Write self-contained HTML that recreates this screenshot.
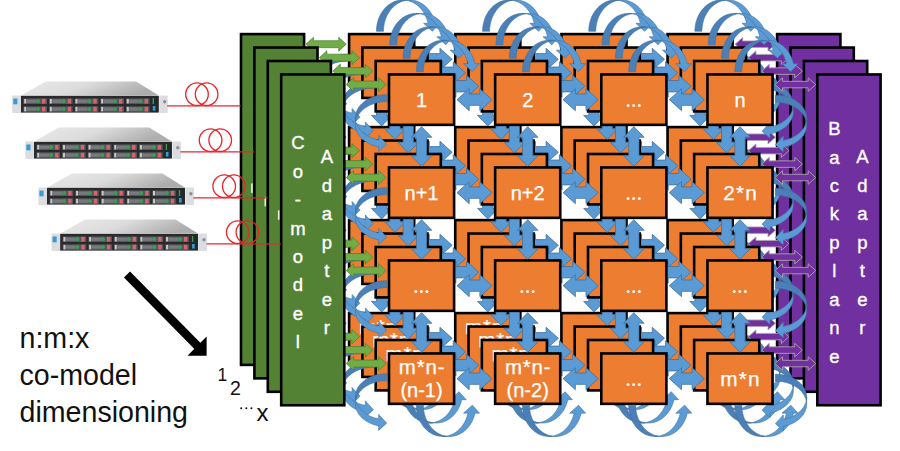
<!DOCTYPE html><html><head><meta charset="utf-8"><title>co-model dimensioning</title><style>html,body{margin:0;padding:0;background:#fff;}body{width:900px;height:451px;overflow:hidden;font-family:"Liberation Sans",sans-serif;}svg{display:block;}</style></head><body><svg width="900" height="451" viewBox="0 0 900 451" font-family="'Liberation Sans', sans-serif"><defs><linearGradient id="topg" x1="0" y1="0" x2="1" y2="0.25"><stop offset="0" stop-color="#e9e9e9"/><stop offset="0.5" stop-color="#dcdcdc"/><stop offset="1" stop-color="#adadad"/></linearGradient></defs><g><rect x="241" y="34.1" width="63.1" height="330.8" fill="#548235" stroke="#000" stroke-width="2.6"/>
<rect x="251.1" y="183.4" width="1.6" height="9.5" fill="#e8f0e0"/>
<rect x="777.1" y="34.1" width="63.3" height="330.8" fill="#7030A0" stroke="#000" stroke-width="2.6"/>
<polygon points="306,44.2 313.5,37.2 313.5,40.7 338.7,40.7 338.7,37.2 346.2,44.2 338.7,51.2 338.7,47.7 313.5,47.7 313.5,51.2" fill="#70AD47" stroke="#507E32" stroke-width="0.7" stroke-linejoin="round"/>
<polygon points="735.15,44.2 742.65,37.45 742.65,40.95 768,40.95 768,37.45 775.5,44.2 768,50.95 768,47.45 742.65,47.45 742.65,50.95" fill="#7030A0" stroke="#B0A0A8" stroke-width="0.9" stroke-linejoin="round"/>
<polygon points="306,137.2 313.5,130.2 313.5,133.7 338.7,133.7 338.7,130.2 346.2,137.2 338.7,144.2 338.7,140.7 313.5,140.7 313.5,144.2" fill="#70AD47" stroke="#507E32" stroke-width="0.7" stroke-linejoin="round"/>
<polygon points="735.15,137.2 742.65,130.45 742.65,133.95 768,133.95 768,130.45 775.5,137.2 768,143.95 768,140.45 742.65,140.45 742.65,143.95" fill="#7030A0" stroke="#B0A0A8" stroke-width="0.9" stroke-linejoin="round"/>
<polygon points="306,230.2 313.5,223.2 313.5,226.7 338.7,226.7 338.7,223.2 346.2,230.2 338.7,237.2 338.7,233.7 313.5,233.7 313.5,237.2" fill="#70AD47" stroke="#507E32" stroke-width="0.7" stroke-linejoin="round"/>
<polygon points="735.15,230.2 742.65,223.45 742.65,226.95 768,226.95 768,223.45 775.5,230.2 768,236.95 768,233.45 742.65,233.45 742.65,236.95" fill="#7030A0" stroke="#B0A0A8" stroke-width="0.9" stroke-linejoin="round"/>
<polygon points="306,323.2 313.5,316.2 313.5,319.7 338.7,319.7 338.7,316.2 346.2,323.2 338.7,330.2 338.7,326.7 313.5,326.7 313.5,330.2" fill="#70AD47" stroke="#507E32" stroke-width="0.7" stroke-linejoin="round"/>
<polygon points="735.15,323.2 742.65,316.45 742.65,319.95 768,319.95 768,316.45 775.5,323.2 768,329.95 768,326.45 742.65,326.45 742.65,329.95" fill="#7030A0" stroke="#B0A0A8" stroke-width="0.9" stroke-linejoin="round"/>
<rect x="349.1" y="34.1" width="65.1" height="50.4" fill="#ED7D31" stroke="#000" stroke-width="2.6"/>
<rect x="455.25" y="34.1" width="65.1" height="50.4" fill="#ED7D31" stroke="#000" stroke-width="2.6"/>
<rect x="561.4" y="34.1" width="65.1" height="50.4" fill="#ED7D31" stroke="#000" stroke-width="2.6"/>
<rect x="667.55" y="34.1" width="65.1" height="50.4" fill="#ED7D31" stroke="#000" stroke-width="2.6"/>
<rect x="349.1" y="127.1" width="65.1" height="50.4" fill="#ED7D31" stroke="#000" stroke-width="2.6"/>
<rect x="455.25" y="127.1" width="65.1" height="50.4" fill="#ED7D31" stroke="#000" stroke-width="2.6"/>
<rect x="561.4" y="127.1" width="65.1" height="50.4" fill="#ED7D31" stroke="#000" stroke-width="2.6"/>
<rect x="667.55" y="127.1" width="65.1" height="50.4" fill="#ED7D31" stroke="#000" stroke-width="2.6"/>
<rect x="349.1" y="220.1" width="65.1" height="50.4" fill="#ED7D31" stroke="#000" stroke-width="2.6"/>
<rect x="455.25" y="220.1" width="65.1" height="50.4" fill="#ED7D31" stroke="#000" stroke-width="2.6"/>
<rect x="561.4" y="220.1" width="65.1" height="50.4" fill="#ED7D31" stroke="#000" stroke-width="2.6"/>
<rect x="667.55" y="220.1" width="65.1" height="50.4" fill="#ED7D31" stroke="#000" stroke-width="2.6"/>
<rect x="349.1" y="313.1" width="65.1" height="50.4" fill="#ED7D31" stroke="#000" stroke-width="2.6"/>
<text x="382.15" y="333.7" font-size="20.5" fill="#fff" text-anchor="middle" letter-spacing="0.8" stroke="#fff" stroke-width="0.25">m*n-</text>
<text x="381.65" y="356.9" font-size="20" fill="#fff" text-anchor="middle" stroke="#fff" stroke-width="0.25">(n-1)</text>
<rect x="455.25" y="313.1" width="65.1" height="50.4" fill="#ED7D31" stroke="#000" stroke-width="2.6"/>
<text x="488.3" y="333.7" font-size="20.5" fill="#fff" text-anchor="middle" letter-spacing="0.8" stroke="#fff" stroke-width="0.25">m*n-</text>
<text x="487.8" y="356.9" font-size="20" fill="#fff" text-anchor="middle" stroke="#fff" stroke-width="0.25">(n-2)</text>
<rect x="561.4" y="313.1" width="65.1" height="50.4" fill="#ED7D31" stroke="#000" stroke-width="2.6"/>
<rect x="667.55" y="313.1" width="65.1" height="50.4" fill="#ED7D31" stroke="#000" stroke-width="2.6"/>
<polygon points="417.1,59.3 429.3,48.3 429.3,53.6 439.95,53.6 439.95,48.3 452.15,59.3 439.95,70.3 439.95,65 429.3,65 429.3,70.3" fill="#5B9BD5" stroke="#41719C" stroke-width="0.8" stroke-linejoin="round"/>
<polygon points="381.65,86.3 371.4,96.9 376.5,96.9 376.5,115.4 371.4,115.4 381.65,126 391.9,115.4 386.8,115.4 386.8,96.9 391.9,96.9" fill="#5B9BD5" stroke="#41719C" stroke-width="0.8" stroke-linejoin="round"/>
<polygon points="523.25,59.3 535.45,48.3 535.45,53.6 546.1,53.6 546.1,48.3 558.3,59.3 546.1,70.3 546.1,65 535.45,65 535.45,70.3" fill="#5B9BD5" stroke="#41719C" stroke-width="0.8" stroke-linejoin="round"/>
<polygon points="487.8,86.3 477.55,96.9 482.65,96.9 482.65,115.4 477.55,115.4 487.8,126 498.05,115.4 492.95,115.4 492.95,96.9 498.05,96.9" fill="#5B9BD5" stroke="#41719C" stroke-width="0.8" stroke-linejoin="round"/>
<polygon points="629.4,59.3 641.6,48.3 641.6,53.6 652.25,53.6 652.25,48.3 664.45,59.3 652.25,70.3 652.25,65 641.6,65 641.6,70.3" fill="#5B9BD5" stroke="#41719C" stroke-width="0.8" stroke-linejoin="round"/>
<polygon points="593.95,86.3 583.7,96.9 588.8,96.9 588.8,115.4 583.7,115.4 593.95,126 604.2,115.4 599.1,115.4 599.1,96.9 604.2,96.9" fill="#5B9BD5" stroke="#41719C" stroke-width="0.8" stroke-linejoin="round"/>
<polygon points="700.1,86.3 689.85,96.9 694.95,96.9 694.95,115.4 689.85,115.4 700.1,126 710.35,115.4 705.25,115.4 705.25,96.9 710.35,96.9" fill="#5B9BD5" stroke="#41719C" stroke-width="0.8" stroke-linejoin="round"/>
<polygon points="417.1,152.3 429.3,141.3 429.3,146.6 439.95,146.6 439.95,141.3 452.15,152.3 439.95,163.3 439.95,158 429.3,158 429.3,163.3" fill="#5B9BD5" stroke="#41719C" stroke-width="0.8" stroke-linejoin="round"/>
<polygon points="381.65,179.3 371.4,189.9 376.5,189.9 376.5,208.4 371.4,208.4 381.65,219 391.9,208.4 386.8,208.4 386.8,189.9 391.9,189.9" fill="#5B9BD5" stroke="#41719C" stroke-width="0.8" stroke-linejoin="round"/>
<polygon points="523.25,152.3 535.45,141.3 535.45,146.6 546.1,146.6 546.1,141.3 558.3,152.3 546.1,163.3 546.1,158 535.45,158 535.45,163.3" fill="#5B9BD5" stroke="#41719C" stroke-width="0.8" stroke-linejoin="round"/>
<polygon points="487.8,179.3 477.55,189.9 482.65,189.9 482.65,208.4 477.55,208.4 487.8,219 498.05,208.4 492.95,208.4 492.95,189.9 498.05,189.9" fill="#5B9BD5" stroke="#41719C" stroke-width="0.8" stroke-linejoin="round"/>
<polygon points="629.4,152.3 641.6,141.3 641.6,146.6 652.25,146.6 652.25,141.3 664.45,152.3 652.25,163.3 652.25,158 641.6,158 641.6,163.3" fill="#5B9BD5" stroke="#41719C" stroke-width="0.8" stroke-linejoin="round"/>
<polygon points="593.95,179.3 583.7,189.9 588.8,189.9 588.8,208.4 583.7,208.4 593.95,219 604.2,208.4 599.1,208.4 599.1,189.9 604.2,189.9" fill="#5B9BD5" stroke="#41719C" stroke-width="0.8" stroke-linejoin="round"/>
<polygon points="700.1,179.3 689.85,189.9 694.95,189.9 694.95,208.4 689.85,208.4 700.1,219 710.35,208.4 705.25,208.4 705.25,189.9 710.35,189.9" fill="#5B9BD5" stroke="#41719C" stroke-width="0.8" stroke-linejoin="round"/>
<polygon points="417.1,245.3 429.3,234.3 429.3,239.6 439.95,239.6 439.95,234.3 452.15,245.3 439.95,256.3 439.95,251 429.3,251 429.3,256.3" fill="#5B9BD5" stroke="#41719C" stroke-width="0.8" stroke-linejoin="round"/>
<polygon points="381.65,272.3 371.4,282.9 376.5,282.9 376.5,301.4 371.4,301.4 381.65,312 391.9,301.4 386.8,301.4 386.8,282.9 391.9,282.9" fill="#5B9BD5" stroke="#41719C" stroke-width="0.8" stroke-linejoin="round"/>
<polygon points="523.25,245.3 535.45,234.3 535.45,239.6 546.1,239.6 546.1,234.3 558.3,245.3 546.1,256.3 546.1,251 535.45,251 535.45,256.3" fill="#5B9BD5" stroke="#41719C" stroke-width="0.8" stroke-linejoin="round"/>
<polygon points="487.8,272.3 477.55,282.9 482.65,282.9 482.65,301.4 477.55,301.4 487.8,312 498.05,301.4 492.95,301.4 492.95,282.9 498.05,282.9" fill="#5B9BD5" stroke="#41719C" stroke-width="0.8" stroke-linejoin="round"/>
<polygon points="629.4,245.3 641.6,234.3 641.6,239.6 652.25,239.6 652.25,234.3 664.45,245.3 652.25,256.3 652.25,251 641.6,251 641.6,256.3" fill="#5B9BD5" stroke="#41719C" stroke-width="0.8" stroke-linejoin="round"/>
<polygon points="593.95,272.3 583.7,282.9 588.8,282.9 588.8,301.4 583.7,301.4 593.95,312 604.2,301.4 599.1,301.4 599.1,282.9 604.2,282.9" fill="#5B9BD5" stroke="#41719C" stroke-width="0.8" stroke-linejoin="round"/>
<polygon points="700.1,272.3 689.85,282.9 694.95,282.9 694.95,301.4 689.85,301.4 700.1,312 710.35,301.4 705.25,301.4 705.25,282.9 710.35,282.9" fill="#5B9BD5" stroke="#41719C" stroke-width="0.8" stroke-linejoin="round"/>
<polygon points="417.1,338.3 429.3,327.3 429.3,332.6 439.95,332.6 439.95,327.3 452.15,338.3 439.95,349.3 439.95,344 429.3,344 429.3,349.3" fill="#5B9BD5" stroke="#41719C" stroke-width="0.8" stroke-linejoin="round"/>
<polygon points="523.25,338.3 535.45,327.3 535.45,332.6 546.1,332.6 546.1,327.3 558.3,338.3 546.1,349.3 546.1,344 535.45,344 535.45,349.3" fill="#5B9BD5" stroke="#41719C" stroke-width="0.8" stroke-linejoin="round"/>
<polygon points="629.4,338.3 641.6,327.3 641.6,332.6 652.25,332.6 652.25,327.3 664.45,338.3 652.25,349.3 652.25,344 641.6,344 641.6,349.3" fill="#5B9BD5" stroke="#41719C" stroke-width="0.8" stroke-linejoin="round"/>
<polygon points="406.2,0.28 404.65,0.58 403.12,1 401.61,1.52 400.13,2.16 398.68,2.89 397.28,3.73 395.92,4.66 394.6,5.69 393.35,6.82 392.15,8.03 391.01,9.32 389.94,10.7 388.94,12.14 388.02,13.66 387.17,15.24 386.4,16.87 385.72,18.56 385.13,20.3 384.62,22.07 384.2,23.87 383.87,25.71 383.64,27.56 383.5,29.43 383.45,31.3 376.45,31.3 376.52,29.08 376.71,26.87 377.04,24.68 377.5,22.53 378.09,20.42 378.8,18.36 379.63,16.37 380.57,14.46 381.63,12.63 382.8,10.89 384.06,9.26 385.42,7.74 386.87,6.34 388.39,5.06 389.99,3.91 391.65,2.91 393.37,2.04 395.13,1.33 396.94,0.76 398.77,0.35 400.62,0.1 402.48,0 404.35,0.06 406.2,0.28" fill="#4A7FB8" stroke="#41719C" stroke-width="0.6" stroke-linejoin="round"/><polygon points="432.45,31.3 423.58,23.3 428.08,23.3 427.67,21.66 427.19,20.05 426.64,18.47 426.02,16.92 425.32,15.43 424.56,13.98 423.74,12.58 422.85,11.23 421.9,9.95 420.89,8.73 419.83,7.58 418.71,6.5 417.55,5.49 416.35,4.56 415.1,3.71 413.82,2.95 412.5,2.27 411.16,1.67 409.79,1.16 408.4,0.75 406.99,0.42 405.57,0.19 404.13,0.05 402.7,-0 409.7,-0 411.13,0.05 412.57,0.19 413.99,0.42 415.4,0.75 416.79,1.16 418.16,1.67 419.5,2.27 420.82,2.95 422.1,3.71 423.35,4.56 424.55,5.49 425.71,6.5 426.83,7.58 427.89,8.73 428.9,9.95 429.85,11.23 430.74,12.58 431.56,13.98 432.32,15.43 433.02,16.92 433.64,18.47 434.19,20.05 434.67,21.66 435.08,23.3 439.58,23.3" fill="#5B9BD5" stroke="#41719C" stroke-width="0.6" stroke-linejoin="round"/>
<polygon points="406.2,395.82 404.65,395.52 403.12,395.1 401.61,394.58 400.13,393.94 398.68,393.21 397.28,392.37 395.92,391.44 394.6,390.41 393.35,389.28 392.15,388.07 391.01,386.78 389.94,385.4 388.94,383.96 388.02,382.44 387.17,380.86 386.4,379.23 385.72,377.54 385.13,375.8 384.62,374.03 384.2,372.23 383.87,370.39 383.64,368.54 383.5,366.67 383.45,364.8 376.45,364.8 376.52,367.02 376.71,369.23 377.04,371.42 377.5,373.57 378.09,375.68 378.8,377.74 379.63,379.73 380.57,381.64 381.63,383.47 382.8,385.21 384.06,386.84 385.42,388.36 386.87,389.76 388.39,391.04 389.99,392.19 391.65,393.19 393.37,394.06 395.13,394.77 396.94,395.34 398.77,395.75 400.62,396 402.48,396.1 404.35,396.04 406.2,395.82" fill="#4A7FB8" stroke="#41719C" stroke-width="0.6" stroke-linejoin="round"/><polygon points="432.45,364.8 423.58,372.8 428.08,372.8 427.67,374.44 427.19,376.05 426.64,377.63 426.02,379.18 425.32,380.67 424.56,382.12 423.74,383.52 422.85,384.87 421.9,386.15 420.89,387.37 419.83,388.52 418.71,389.6 417.55,390.61 416.35,391.54 415.1,392.39 413.82,393.15 412.5,393.83 411.16,394.43 409.79,394.94 408.4,395.35 406.99,395.68 405.57,395.91 404.13,396.05 402.7,396.1 409.7,396.1 411.13,396.05 412.57,395.91 413.99,395.68 415.4,395.35 416.79,394.94 418.16,394.43 419.5,393.83 420.82,393.15 422.1,392.39 423.35,391.54 424.55,390.61 425.71,389.6 426.83,388.52 427.89,387.37 428.9,386.15 429.85,384.87 430.74,383.52 431.56,382.12 432.32,380.67 433.02,379.18 433.64,377.63 434.19,376.05 434.67,374.44 435.08,372.8 439.58,372.8" fill="#5B9BD5" stroke="#41719C" stroke-width="0.6" stroke-linejoin="round"/>
<polygon points="512.35,0.28 510.8,0.58 509.27,1 507.76,1.52 506.28,2.16 504.83,2.89 503.43,3.73 502.07,4.66 500.75,5.69 499.5,6.82 498.3,8.03 497.16,9.32 496.09,10.7 495.09,12.14 494.17,13.66 493.32,15.24 492.55,16.87 491.87,18.56 491.28,20.3 490.77,22.07 490.35,23.87 490.02,25.71 489.79,27.56 489.65,29.43 489.6,31.3 482.6,31.3 482.67,29.08 482.86,26.87 483.19,24.68 483.65,22.53 484.24,20.42 484.95,18.36 485.78,16.37 486.72,14.46 487.78,12.63 488.95,10.89 490.21,9.26 491.57,7.74 493.02,6.34 494.54,5.06 496.14,3.91 497.8,2.91 499.52,2.04 501.28,1.33 503.09,0.76 504.92,0.35 506.77,0.1 508.63,0 510.5,0.06 512.35,0.28" fill="#4A7FB8" stroke="#41719C" stroke-width="0.6" stroke-linejoin="round"/><polygon points="538.6,31.3 529.73,23.3 534.23,23.3 533.82,21.66 533.34,20.05 532.79,18.47 532.17,16.92 531.47,15.43 530.71,13.98 529.89,12.58 529,11.23 528.05,9.95 527.04,8.73 525.98,7.58 524.86,6.5 523.7,5.49 522.5,4.56 521.25,3.71 519.97,2.95 518.65,2.27 517.31,1.67 515.94,1.16 514.55,0.75 513.14,0.42 511.72,0.19 510.28,0.05 508.85,-0 515.85,-0 517.28,0.05 518.72,0.19 520.14,0.42 521.55,0.75 522.94,1.16 524.31,1.67 525.65,2.27 526.97,2.95 528.25,3.71 529.5,4.56 530.7,5.49 531.86,6.5 532.98,7.58 534.04,8.73 535.05,9.95 536,11.23 536.89,12.58 537.71,13.98 538.47,15.43 539.17,16.92 539.79,18.47 540.34,20.05 540.82,21.66 541.23,23.3 545.73,23.3" fill="#5B9BD5" stroke="#41719C" stroke-width="0.6" stroke-linejoin="round"/>
<polygon points="512.35,395.82 510.8,395.52 509.27,395.1 507.76,394.58 506.28,393.94 504.83,393.21 503.43,392.37 502.07,391.44 500.75,390.41 499.5,389.28 498.3,388.07 497.16,386.78 496.09,385.4 495.09,383.96 494.17,382.44 493.32,380.86 492.55,379.23 491.87,377.54 491.28,375.8 490.77,374.03 490.35,372.23 490.02,370.39 489.79,368.54 489.65,366.67 489.6,364.8 482.6,364.8 482.67,367.02 482.86,369.23 483.19,371.42 483.65,373.57 484.24,375.68 484.95,377.74 485.78,379.73 486.72,381.64 487.78,383.47 488.95,385.21 490.21,386.84 491.57,388.36 493.02,389.76 494.54,391.04 496.14,392.19 497.8,393.19 499.52,394.06 501.28,394.77 503.09,395.34 504.92,395.75 506.77,396 508.63,396.1 510.5,396.04 512.35,395.82" fill="#4A7FB8" stroke="#41719C" stroke-width="0.6" stroke-linejoin="round"/><polygon points="538.6,364.8 529.73,372.8 534.23,372.8 533.82,374.44 533.34,376.05 532.79,377.63 532.17,379.18 531.47,380.67 530.71,382.12 529.89,383.52 529,384.87 528.05,386.15 527.04,387.37 525.98,388.52 524.86,389.6 523.7,390.61 522.5,391.54 521.25,392.39 519.97,393.15 518.65,393.83 517.31,394.43 515.94,394.94 514.55,395.35 513.14,395.68 511.72,395.91 510.28,396.05 508.85,396.1 515.85,396.1 517.28,396.05 518.72,395.91 520.14,395.68 521.55,395.35 522.94,394.94 524.31,394.43 525.65,393.83 526.97,393.15 528.25,392.39 529.5,391.54 530.7,390.61 531.86,389.6 532.98,388.52 534.04,387.37 535.05,386.15 536,384.87 536.89,383.52 537.71,382.12 538.47,380.67 539.17,379.18 539.79,377.63 540.34,376.05 540.82,374.44 541.23,372.8 545.73,372.8" fill="#5B9BD5" stroke="#41719C" stroke-width="0.6" stroke-linejoin="round"/>
<polygon points="618.5,0.28 616.95,0.58 615.42,1 613.91,1.52 612.43,2.16 610.98,2.89 609.58,3.73 608.22,4.66 606.9,5.69 605.65,6.82 604.45,8.03 603.31,9.32 602.24,10.7 601.24,12.14 600.32,13.66 599.47,15.24 598.7,16.87 598.02,18.56 597.43,20.3 596.92,22.07 596.5,23.87 596.17,25.71 595.94,27.56 595.8,29.43 595.75,31.3 588.75,31.3 588.82,29.08 589.01,26.87 589.34,24.68 589.8,22.53 590.39,20.42 591.1,18.36 591.93,16.37 592.87,14.46 593.93,12.63 595.1,10.89 596.36,9.26 597.72,7.74 599.17,6.34 600.69,5.06 602.29,3.91 603.95,2.91 605.67,2.04 607.43,1.33 609.24,0.76 611.07,0.35 612.92,0.1 614.78,0 616.65,0.06 618.5,0.28" fill="#4A7FB8" stroke="#41719C" stroke-width="0.6" stroke-linejoin="round"/><polygon points="644.75,31.3 635.88,23.3 640.38,23.3 639.97,21.66 639.49,20.05 638.94,18.47 638.32,16.92 637.62,15.43 636.86,13.98 636.04,12.58 635.15,11.23 634.2,9.95 633.19,8.73 632.13,7.58 631.01,6.5 629.85,5.49 628.65,4.56 627.4,3.71 626.12,2.95 624.8,2.27 623.46,1.67 622.09,1.16 620.7,0.75 619.29,0.42 617.87,0.19 616.43,0.05 615,-0 622,-0 623.43,0.05 624.87,0.19 626.29,0.42 627.7,0.75 629.09,1.16 630.46,1.67 631.8,2.27 633.12,2.95 634.4,3.71 635.65,4.56 636.85,5.49 638.01,6.5 639.13,7.58 640.19,8.73 641.2,9.95 642.15,11.23 643.04,12.58 643.86,13.98 644.62,15.43 645.32,16.92 645.94,18.47 646.49,20.05 646.97,21.66 647.38,23.3 651.88,23.3" fill="#5B9BD5" stroke="#41719C" stroke-width="0.6" stroke-linejoin="round"/>
<polygon points="618.5,395.82 616.95,395.52 615.42,395.1 613.91,394.58 612.43,393.94 610.98,393.21 609.58,392.37 608.22,391.44 606.9,390.41 605.65,389.28 604.45,388.07 603.31,386.78 602.24,385.4 601.24,383.96 600.32,382.44 599.47,380.86 598.7,379.23 598.02,377.54 597.43,375.8 596.92,374.03 596.5,372.23 596.17,370.39 595.94,368.54 595.8,366.67 595.75,364.8 588.75,364.8 588.82,367.02 589.01,369.23 589.34,371.42 589.8,373.57 590.39,375.68 591.1,377.74 591.93,379.73 592.87,381.64 593.93,383.47 595.1,385.21 596.36,386.84 597.72,388.36 599.17,389.76 600.69,391.04 602.29,392.19 603.95,393.19 605.67,394.06 607.43,394.77 609.24,395.34 611.07,395.75 612.92,396 614.78,396.1 616.65,396.04 618.5,395.82" fill="#4A7FB8" stroke="#41719C" stroke-width="0.6" stroke-linejoin="round"/><polygon points="644.75,364.8 635.88,372.8 640.38,372.8 639.97,374.44 639.49,376.05 638.94,377.63 638.32,379.18 637.62,380.67 636.86,382.12 636.04,383.52 635.15,384.87 634.2,386.15 633.19,387.37 632.13,388.52 631.01,389.6 629.85,390.61 628.65,391.54 627.4,392.39 626.12,393.15 624.8,393.83 623.46,394.43 622.09,394.94 620.7,395.35 619.29,395.68 617.87,395.91 616.43,396.05 615,396.1 622,396.1 623.43,396.05 624.87,395.91 626.29,395.68 627.7,395.35 629.09,394.94 630.46,394.43 631.8,393.83 633.12,393.15 634.4,392.39 635.65,391.54 636.85,390.61 638.01,389.6 639.13,388.52 640.19,387.37 641.2,386.15 642.15,384.87 643.04,383.52 643.86,382.12 644.62,380.67 645.32,379.18 645.94,377.63 646.49,376.05 646.97,374.44 647.38,372.8 651.88,372.8" fill="#5B9BD5" stroke="#41719C" stroke-width="0.6" stroke-linejoin="round"/>
<polygon points="724.65,0.28 723.1,0.58 721.57,1 720.06,1.52 718.58,2.16 717.13,2.89 715.73,3.73 714.37,4.66 713.05,5.69 711.8,6.82 710.6,8.03 709.46,9.32 708.39,10.7 707.39,12.14 706.47,13.66 705.62,15.24 704.85,16.87 704.17,18.56 703.58,20.3 703.07,22.07 702.65,23.87 702.32,25.71 702.09,27.56 701.95,29.43 701.9,31.3 694.9,31.3 694.97,29.08 695.16,26.87 695.49,24.68 695.95,22.53 696.54,20.42 697.25,18.36 698.08,16.37 699.02,14.46 700.08,12.63 701.25,10.89 702.51,9.26 703.87,7.74 705.32,6.34 706.84,5.06 708.44,3.91 710.1,2.91 711.82,2.04 713.58,1.33 715.39,0.76 717.22,0.35 719.07,0.1 720.93,0 722.8,0.06 724.65,0.28" fill="#4A7FB8" stroke="#41719C" stroke-width="0.6" stroke-linejoin="round"/><polygon points="750.9,31.3 742.03,23.3 746.53,23.3 746.12,21.66 745.64,20.05 745.09,18.47 744.47,16.92 743.77,15.43 743.01,13.98 742.19,12.58 741.3,11.23 740.35,9.95 739.34,8.73 738.28,7.58 737.16,6.5 736,5.49 734.8,4.56 733.55,3.71 732.27,2.95 730.95,2.27 729.61,1.67 728.24,1.16 726.85,0.75 725.44,0.42 724.02,0.19 722.58,0.05 721.15,-0 728.15,-0 729.58,0.05 731.02,0.19 732.44,0.42 733.85,0.75 735.24,1.16 736.61,1.67 737.95,2.27 739.27,2.95 740.55,3.71 741.8,4.56 743,5.49 744.16,6.5 745.28,7.58 746.34,8.73 747.35,9.95 748.3,11.23 749.19,12.58 750.01,13.98 750.77,15.43 751.47,16.92 752.09,18.47 752.64,20.05 753.12,21.66 753.53,23.3 758.03,23.3" fill="#5B9BD5" stroke="#41719C" stroke-width="0.6" stroke-linejoin="round"/>
<polygon points="724.65,395.82 723.1,395.52 721.57,395.1 720.06,394.58 718.58,393.94 717.13,393.21 715.73,392.37 714.37,391.44 713.05,390.41 711.8,389.28 710.6,388.07 709.46,386.78 708.39,385.4 707.39,383.96 706.47,382.44 705.62,380.86 704.85,379.23 704.17,377.54 703.58,375.8 703.07,374.03 702.65,372.23 702.32,370.39 702.09,368.54 701.95,366.67 701.9,364.8 694.9,364.8 694.97,367.02 695.16,369.23 695.49,371.42 695.95,373.57 696.54,375.68 697.25,377.74 698.08,379.73 699.02,381.64 700.08,383.47 701.25,385.21 702.51,386.84 703.87,388.36 705.32,389.76 706.84,391.04 708.44,392.19 710.1,393.19 711.82,394.06 713.58,394.77 715.39,395.34 717.22,395.75 719.07,396 720.93,396.1 722.8,396.04 724.65,395.82" fill="#4A7FB8" stroke="#41719C" stroke-width="0.6" stroke-linejoin="round"/><polygon points="750.9,364.8 742.03,372.8 746.53,372.8 746.12,374.44 745.64,376.05 745.09,377.63 744.47,379.18 743.77,380.67 743.01,382.12 742.19,383.52 741.3,384.87 740.35,386.15 739.34,387.37 738.28,388.52 737.16,389.6 736,390.61 734.8,391.54 733.55,392.39 732.27,393.15 730.95,393.83 729.61,394.43 728.24,394.94 726.85,395.35 725.44,395.68 724.02,395.91 722.58,396.05 721.15,396.1 728.15,396.1 729.58,396.05 731.02,395.91 732.44,395.68 733.85,395.35 735.24,394.94 736.61,394.43 737.95,393.83 739.27,393.15 740.55,392.39 741.8,391.54 743,390.61 744.16,389.6 745.28,388.52 746.34,387.37 747.35,386.15 748.3,384.87 749.19,383.52 750.01,382.12 750.77,380.67 751.47,379.18 752.09,377.63 752.64,376.05 753.12,374.44 753.53,372.8 758.03,372.8" fill="#5B9BD5" stroke="#41719C" stroke-width="0.6" stroke-linejoin="round"/>
<polygon points="315.86,80.8 316.2,79.46 316.64,78.14 317.19,76.85 317.84,75.57 318.59,74.33 319.44,73.13 320.39,71.96 321.42,70.83 322.55,69.76 323.76,68.73 325.05,67.76 326.42,66.84 327.86,65.99 329.36,65.2 330.93,64.48 332.55,63.82 334.22,63.24 335.93,62.73 337.69,62.3 339.47,61.94 341.28,61.66 343.11,61.46 344.95,61.34 346.8,61.3 346.8,54.3 344.55,54.36 342.32,54.54 340.11,54.83 337.93,55.24 335.8,55.77 333.73,56.4 331.72,57.15 329.79,57.99 327.95,58.94 326.2,59.98 324.57,61.11 323.04,62.33 321.64,63.62 320.37,64.98 319.24,66.4 318.24,67.88 317.4,69.41 316.7,70.99 316.16,72.59 315.78,74.22 315.56,75.86 315.5,77.51 315.6,79.16 315.86,80.8" fill="#4A7FB8" stroke="#41719C" stroke-width="0.6" stroke-linejoin="round"/><polygon points="346.8,103.8 338.8,95.04 338.8,99.54 337.16,99.18 335.55,98.76 333.97,98.28 332.42,97.73 330.93,97.12 329.48,96.46 328.08,95.73 326.73,94.95 325.45,94.12 324.23,93.24 323.08,92.31 322,91.33 320.99,90.32 320.06,89.26 319.21,88.17 318.45,87.04 317.77,85.89 317.17,84.71 316.66,83.51 316.25,82.29 315.92,81.06 315.69,79.81 315.55,78.56 315.5,77.3 315.5,84.3 315.55,85.56 315.69,86.81 315.92,88.06 316.25,89.29 316.66,90.51 317.17,91.71 317.77,92.89 318.45,94.04 319.21,95.17 320.06,96.26 320.99,97.32 322,98.33 323.08,99.31 324.23,100.24 325.45,101.12 326.73,101.95 328.08,102.73 329.48,103.46 330.93,104.12 332.42,104.73 333.97,105.28 335.55,105.76 337.16,106.18 338.8,106.54 338.8,111.04" fill="#5B9BD5" stroke="#41719C" stroke-width="0.6" stroke-linejoin="round"/>
<polygon points="766.39,81.3 766.05,79.96 765.61,78.64 765.06,77.35 764.41,76.07 763.66,74.83 762.81,73.63 761.86,72.46 760.83,71.33 759.7,70.26 758.49,69.23 757.2,68.26 755.83,67.34 754.39,66.49 752.89,65.7 751.32,64.98 749.7,64.32 748.03,63.74 746.32,63.23 744.56,62.8 742.78,62.44 740.97,62.16 739.14,61.96 737.3,61.84 735.45,61.8 735.45,54.8 737.7,54.86 739.93,55.04 742.14,55.33 744.32,55.74 746.45,56.27 748.52,56.9 750.53,57.65 752.46,58.49 754.3,59.44 756.05,60.48 757.68,61.61 759.21,62.83 760.61,64.12 761.88,65.48 763.01,66.9 764.01,68.38 764.85,69.91 765.55,71.49 766.09,73.09 766.47,74.72 766.69,76.36 766.75,78.01 766.65,79.66 766.39,81.3" fill="#4A7FB8" stroke="#41719C" stroke-width="0.6" stroke-linejoin="round"/><polygon points="735.45,104.3 743.45,95.54 743.45,100.04 745.09,99.68 746.7,99.26 748.28,98.78 749.83,98.23 751.32,97.62 752.77,96.96 754.17,96.23 755.52,95.45 756.8,94.62 758.02,93.74 759.17,92.81 760.25,91.83 761.26,90.82 762.19,89.76 763.04,88.67 763.8,87.54 764.48,86.39 765.08,85.21 765.59,84.01 766,82.79 766.33,81.56 766.56,80.31 766.7,79.06 766.75,77.8 766.75,84.8 766.7,86.06 766.56,87.31 766.33,88.56 766,89.79 765.59,91.01 765.08,92.21 764.48,93.39 763.8,94.54 763.04,95.67 762.19,96.76 761.26,97.82 760.25,98.83 759.17,99.81 758.02,100.74 756.8,101.62 755.52,102.45 754.17,103.23 752.77,103.96 751.32,104.62 749.83,105.23 748.28,105.78 746.7,106.26 745.09,106.68 743.45,107.04 743.45,111.54" fill="#5B9BD5" stroke="#41719C" stroke-width="0.6" stroke-linejoin="round"/>
<polygon points="315.86,173.8 316.2,172.46 316.64,171.14 317.19,169.85 317.84,168.57 318.59,167.33 319.44,166.13 320.39,164.96 321.42,163.83 322.55,162.76 323.76,161.73 325.05,160.76 326.42,159.84 327.86,158.99 329.36,158.2 330.93,157.48 332.55,156.82 334.22,156.24 335.93,155.73 337.69,155.3 339.47,154.94 341.28,154.66 343.11,154.46 344.95,154.34 346.8,154.3 346.8,147.3 344.55,147.36 342.32,147.54 340.11,147.83 337.93,148.24 335.8,148.77 333.73,149.4 331.72,150.15 329.79,150.99 327.95,151.94 326.2,152.98 324.57,154.11 323.04,155.33 321.64,156.62 320.37,157.98 319.24,159.4 318.24,160.88 317.4,162.41 316.7,163.99 316.16,165.59 315.78,167.22 315.56,168.86 315.5,170.51 315.6,172.16 315.86,173.8" fill="#4A7FB8" stroke="#41719C" stroke-width="0.6" stroke-linejoin="round"/><polygon points="346.8,196.8 338.8,188.04 338.8,192.54 337.16,192.18 335.55,191.76 333.97,191.28 332.42,190.73 330.93,190.12 329.48,189.46 328.08,188.73 326.73,187.95 325.45,187.12 324.23,186.24 323.08,185.31 322,184.33 320.99,183.32 320.06,182.26 319.21,181.17 318.45,180.04 317.77,178.89 317.17,177.71 316.66,176.51 316.25,175.29 315.92,174.06 315.69,172.81 315.55,171.56 315.5,170.3 315.5,177.3 315.55,178.56 315.69,179.81 315.92,181.06 316.25,182.29 316.66,183.51 317.17,184.71 317.77,185.89 318.45,187.04 319.21,188.17 320.06,189.26 320.99,190.32 322,191.33 323.08,192.31 324.23,193.24 325.45,194.12 326.73,194.95 328.08,195.73 329.48,196.46 330.93,197.12 332.42,197.73 333.97,198.28 335.55,198.76 337.16,199.18 338.8,199.54 338.8,204.04" fill="#5B9BD5" stroke="#41719C" stroke-width="0.6" stroke-linejoin="round"/>
<polygon points="766.39,174.3 766.05,172.96 765.61,171.64 765.06,170.35 764.41,169.07 763.66,167.83 762.81,166.63 761.86,165.46 760.83,164.33 759.7,163.26 758.49,162.23 757.2,161.26 755.83,160.34 754.39,159.49 752.89,158.7 751.32,157.98 749.7,157.32 748.03,156.74 746.32,156.23 744.56,155.8 742.78,155.44 740.97,155.16 739.14,154.96 737.3,154.84 735.45,154.8 735.45,147.8 737.7,147.86 739.93,148.04 742.14,148.33 744.32,148.74 746.45,149.27 748.52,149.9 750.53,150.65 752.46,151.49 754.3,152.44 756.05,153.48 757.68,154.61 759.21,155.83 760.61,157.12 761.88,158.48 763.01,159.9 764.01,161.38 764.85,162.91 765.55,164.49 766.09,166.09 766.47,167.72 766.69,169.36 766.75,171.01 766.65,172.66 766.39,174.3" fill="#4A7FB8" stroke="#41719C" stroke-width="0.6" stroke-linejoin="round"/><polygon points="735.45,197.3 743.45,188.54 743.45,193.04 745.09,192.68 746.7,192.26 748.28,191.78 749.83,191.23 751.32,190.62 752.77,189.96 754.17,189.23 755.52,188.45 756.8,187.62 758.02,186.74 759.17,185.81 760.25,184.83 761.26,183.82 762.19,182.76 763.04,181.67 763.8,180.54 764.48,179.39 765.08,178.21 765.59,177.01 766,175.79 766.33,174.56 766.56,173.31 766.7,172.06 766.75,170.8 766.75,177.8 766.7,179.06 766.56,180.31 766.33,181.56 766,182.79 765.59,184.01 765.08,185.21 764.48,186.39 763.8,187.54 763.04,188.67 762.19,189.76 761.26,190.82 760.25,191.83 759.17,192.81 758.02,193.74 756.8,194.62 755.52,195.45 754.17,196.23 752.77,196.96 751.32,197.62 749.83,198.23 748.28,198.78 746.7,199.26 745.09,199.68 743.45,200.04 743.45,204.54" fill="#5B9BD5" stroke="#41719C" stroke-width="0.6" stroke-linejoin="round"/>
<polygon points="315.86,266.8 316.2,265.46 316.64,264.14 317.19,262.85 317.84,261.57 318.59,260.33 319.44,259.13 320.39,257.96 321.42,256.83 322.55,255.76 323.76,254.73 325.05,253.76 326.42,252.84 327.86,251.99 329.36,251.2 330.93,250.48 332.55,249.82 334.22,249.24 335.93,248.73 337.69,248.3 339.47,247.94 341.28,247.66 343.11,247.46 344.95,247.34 346.8,247.3 346.8,240.3 344.55,240.36 342.32,240.54 340.11,240.83 337.93,241.24 335.8,241.77 333.73,242.4 331.72,243.15 329.79,243.99 327.95,244.94 326.2,245.98 324.57,247.11 323.04,248.33 321.64,249.62 320.37,250.98 319.24,252.4 318.24,253.88 317.4,255.41 316.7,256.99 316.16,258.59 315.78,260.22 315.56,261.86 315.5,263.51 315.6,265.16 315.86,266.8" fill="#4A7FB8" stroke="#41719C" stroke-width="0.6" stroke-linejoin="round"/><polygon points="346.8,289.8 338.8,281.04 338.8,285.54 337.16,285.18 335.55,284.76 333.97,284.28 332.42,283.73 330.93,283.12 329.48,282.46 328.08,281.73 326.73,280.95 325.45,280.12 324.23,279.24 323.08,278.31 322,277.33 320.99,276.32 320.06,275.26 319.21,274.17 318.45,273.04 317.77,271.89 317.17,270.71 316.66,269.51 316.25,268.29 315.92,267.06 315.69,265.81 315.55,264.56 315.5,263.3 315.5,270.3 315.55,271.56 315.69,272.81 315.92,274.06 316.25,275.29 316.66,276.51 317.17,277.71 317.77,278.89 318.45,280.04 319.21,281.17 320.06,282.26 320.99,283.32 322,284.33 323.08,285.31 324.23,286.24 325.45,287.12 326.73,287.95 328.08,288.73 329.48,289.46 330.93,290.12 332.42,290.73 333.97,291.28 335.55,291.76 337.16,292.18 338.8,292.54 338.8,297.04" fill="#5B9BD5" stroke="#41719C" stroke-width="0.6" stroke-linejoin="round"/>
<polygon points="766.39,267.3 766.05,265.96 765.61,264.64 765.06,263.35 764.41,262.07 763.66,260.83 762.81,259.63 761.86,258.46 760.83,257.33 759.7,256.26 758.49,255.23 757.2,254.26 755.83,253.34 754.39,252.49 752.89,251.7 751.32,250.98 749.7,250.32 748.03,249.74 746.32,249.23 744.56,248.8 742.78,248.44 740.97,248.16 739.14,247.96 737.3,247.84 735.45,247.8 735.45,240.8 737.7,240.86 739.93,241.04 742.14,241.33 744.32,241.74 746.45,242.27 748.52,242.9 750.53,243.65 752.46,244.49 754.3,245.44 756.05,246.48 757.68,247.61 759.21,248.83 760.61,250.12 761.88,251.48 763.01,252.9 764.01,254.38 764.85,255.91 765.55,257.49 766.09,259.09 766.47,260.72 766.69,262.36 766.75,264.01 766.65,265.66 766.39,267.3" fill="#4A7FB8" stroke="#41719C" stroke-width="0.6" stroke-linejoin="round"/><polygon points="735.45,290.3 743.45,281.54 743.45,286.04 745.09,285.68 746.7,285.26 748.28,284.78 749.83,284.23 751.32,283.62 752.77,282.96 754.17,282.23 755.52,281.45 756.8,280.62 758.02,279.74 759.17,278.81 760.25,277.83 761.26,276.82 762.19,275.76 763.04,274.67 763.8,273.54 764.48,272.39 765.08,271.21 765.59,270.01 766,268.79 766.33,267.56 766.56,266.31 766.7,265.06 766.75,263.8 766.75,270.8 766.7,272.06 766.56,273.31 766.33,274.56 766,275.79 765.59,277.01 765.08,278.21 764.48,279.39 763.8,280.54 763.04,281.67 762.19,282.76 761.26,283.82 760.25,284.83 759.17,285.81 758.02,286.74 756.8,287.62 755.52,288.45 754.17,289.23 752.77,289.96 751.32,290.62 749.83,291.23 748.28,291.78 746.7,292.26 745.09,292.68 743.45,293.04 743.45,297.54" fill="#5B9BD5" stroke="#41719C" stroke-width="0.6" stroke-linejoin="round"/>
<polygon points="315.86,359.8 316.2,358.46 316.64,357.14 317.19,355.85 317.84,354.57 318.59,353.33 319.44,352.13 320.39,350.96 321.42,349.83 322.55,348.76 323.76,347.73 325.05,346.76 326.42,345.84 327.86,344.99 329.36,344.2 330.93,343.48 332.55,342.82 334.22,342.24 335.93,341.73 337.69,341.3 339.47,340.94 341.28,340.66 343.11,340.46 344.95,340.34 346.8,340.3 346.8,333.3 344.55,333.36 342.32,333.54 340.11,333.83 337.93,334.24 335.8,334.77 333.73,335.4 331.72,336.15 329.79,336.99 327.95,337.94 326.2,338.98 324.57,340.11 323.04,341.33 321.64,342.62 320.37,343.98 319.24,345.4 318.24,346.88 317.4,348.41 316.7,349.99 316.16,351.59 315.78,353.22 315.56,354.86 315.5,356.51 315.6,358.16 315.86,359.8" fill="#4A7FB8" stroke="#41719C" stroke-width="0.6" stroke-linejoin="round"/><polygon points="346.8,382.8 338.8,374.04 338.8,378.54 337.16,378.18 335.55,377.76 333.97,377.28 332.42,376.73 330.93,376.12 329.48,375.46 328.08,374.73 326.73,373.95 325.45,373.12 324.23,372.24 323.08,371.31 322,370.33 320.99,369.32 320.06,368.26 319.21,367.17 318.45,366.04 317.77,364.89 317.17,363.71 316.66,362.51 316.25,361.29 315.92,360.06 315.69,358.81 315.55,357.56 315.5,356.3 315.5,363.3 315.55,364.56 315.69,365.81 315.92,367.06 316.25,368.29 316.66,369.51 317.17,370.71 317.77,371.89 318.45,373.04 319.21,374.17 320.06,375.26 320.99,376.32 322,377.33 323.08,378.31 324.23,379.24 325.45,380.12 326.73,380.95 328.08,381.73 329.48,382.46 330.93,383.12 332.42,383.73 333.97,384.28 335.55,384.76 337.16,385.18 338.8,385.54 338.8,390.04" fill="#5B9BD5" stroke="#41719C" stroke-width="0.6" stroke-linejoin="round"/>
<polygon points="766.39,360.3 766.05,358.96 765.61,357.64 765.06,356.35 764.41,355.07 763.66,353.83 762.81,352.63 761.86,351.46 760.83,350.33 759.7,349.26 758.49,348.23 757.2,347.26 755.83,346.34 754.39,345.49 752.89,344.7 751.32,343.98 749.7,343.32 748.03,342.74 746.32,342.23 744.56,341.8 742.78,341.44 740.97,341.16 739.14,340.96 737.3,340.84 735.45,340.8 735.45,333.8 737.7,333.86 739.93,334.04 742.14,334.33 744.32,334.74 746.45,335.27 748.52,335.9 750.53,336.65 752.46,337.49 754.3,338.44 756.05,339.48 757.68,340.61 759.21,341.83 760.61,343.12 761.88,344.48 763.01,345.9 764.01,347.38 764.85,348.91 765.55,350.49 766.09,352.09 766.47,353.72 766.69,355.36 766.75,357.01 766.65,358.66 766.39,360.3" fill="#4A7FB8" stroke="#41719C" stroke-width="0.6" stroke-linejoin="round"/><polygon points="735.45,383.3 743.45,374.54 743.45,379.04 745.09,378.68 746.7,378.26 748.28,377.78 749.83,377.23 751.32,376.62 752.77,375.96 754.17,375.23 755.52,374.45 756.8,373.62 758.02,372.74 759.17,371.81 760.25,370.83 761.26,369.82 762.19,368.76 763.04,367.67 763.8,366.54 764.48,365.39 765.08,364.21 765.59,363.01 766,361.79 766.33,360.56 766.56,359.31 766.7,358.06 766.75,356.8 766.75,363.8 766.7,365.06 766.56,366.31 766.33,367.56 766,368.79 765.59,370.01 765.08,371.21 764.48,372.39 763.8,373.54 763.04,374.67 762.19,375.76 761.26,376.82 760.25,377.83 759.17,378.81 758.02,379.74 756.8,380.62 755.52,381.45 754.17,382.23 752.77,382.96 751.32,383.62 749.83,384.23 748.28,384.78 746.7,385.26 745.09,385.68 743.45,386.04 743.45,390.54" fill="#5B9BD5" stroke="#41719C" stroke-width="0.6" stroke-linejoin="round"/></g>
<g><rect x="254.4" y="47.55" width="63.1" height="330.8" fill="#548235" stroke="#000" stroke-width="2.6"/>
<rect x="264.5" y="196.85" width="1.6" height="9.5" fill="#e8f0e0"/>
<rect x="790.5" y="47.55" width="63.3" height="330.8" fill="#7030A0" stroke="#000" stroke-width="2.6"/>
<polygon points="319.4,57.65 326.9,50.65 326.9,54.15 352,54.15 352,50.65 359.5,57.65 352,64.65 352,61.15 326.9,61.15 326.9,64.65" fill="#70AD47" stroke="#507E32" stroke-width="0.7" stroke-linejoin="round"/>
<polygon points="748.45,57.65 755.95,50.9 755.95,54.4 781.4,54.4 781.4,50.9 788.9,57.65 781.4,64.4 781.4,60.9 755.95,60.9 755.95,64.4" fill="#7030A0" stroke="#B0A0A8" stroke-width="0.9" stroke-linejoin="round"/>
<polygon points="319.4,150.65 326.9,143.65 326.9,147.15 352,147.15 352,143.65 359.5,150.65 352,157.65 352,154.15 326.9,154.15 326.9,157.65" fill="#70AD47" stroke="#507E32" stroke-width="0.7" stroke-linejoin="round"/>
<polygon points="748.45,150.65 755.95,143.9 755.95,147.4 781.4,147.4 781.4,143.9 788.9,150.65 781.4,157.4 781.4,153.9 755.95,153.9 755.95,157.4" fill="#7030A0" stroke="#B0A0A8" stroke-width="0.9" stroke-linejoin="round"/>
<polygon points="319.4,243.65 326.9,236.65 326.9,240.15 352,240.15 352,236.65 359.5,243.65 352,250.65 352,247.15 326.9,247.15 326.9,250.65" fill="#70AD47" stroke="#507E32" stroke-width="0.7" stroke-linejoin="round"/>
<polygon points="748.45,243.65 755.95,236.9 755.95,240.4 781.4,240.4 781.4,236.9 788.9,243.65 781.4,250.4 781.4,246.9 755.95,246.9 755.95,250.4" fill="#7030A0" stroke="#B0A0A8" stroke-width="0.9" stroke-linejoin="round"/>
<polygon points="319.4,336.65 326.9,329.65 326.9,333.15 352,333.15 352,329.65 359.5,336.65 352,343.65 352,340.15 326.9,340.15 326.9,343.65" fill="#70AD47" stroke="#507E32" stroke-width="0.7" stroke-linejoin="round"/>
<polygon points="748.45,336.65 755.95,329.9 755.95,333.4 781.4,333.4 781.4,329.9 788.9,336.65 781.4,343.4 781.4,339.9 755.95,339.9 755.95,343.4" fill="#7030A0" stroke="#B0A0A8" stroke-width="0.9" stroke-linejoin="round"/>
<rect x="362.4" y="47.55" width="65.1" height="50.4" fill="#ED7D31" stroke="#000" stroke-width="2.6"/>
<rect x="468.55" y="47.55" width="65.1" height="50.4" fill="#ED7D31" stroke="#000" stroke-width="2.6"/>
<rect x="574.7" y="47.55" width="65.1" height="50.4" fill="#ED7D31" stroke="#000" stroke-width="2.6"/>
<rect x="680.85" y="47.55" width="65.1" height="50.4" fill="#ED7D31" stroke="#000" stroke-width="2.6"/>
<rect x="362.4" y="140.55" width="65.1" height="50.4" fill="#ED7D31" stroke="#000" stroke-width="2.6"/>
<rect x="468.55" y="140.55" width="65.1" height="50.4" fill="#ED7D31" stroke="#000" stroke-width="2.6"/>
<rect x="574.7" y="140.55" width="65.1" height="50.4" fill="#ED7D31" stroke="#000" stroke-width="2.6"/>
<rect x="680.85" y="140.55" width="65.1" height="50.4" fill="#ED7D31" stroke="#000" stroke-width="2.6"/>
<rect x="362.4" y="233.55" width="65.1" height="50.4" fill="#ED7D31" stroke="#000" stroke-width="2.6"/>
<rect x="468.55" y="233.55" width="65.1" height="50.4" fill="#ED7D31" stroke="#000" stroke-width="2.6"/>
<rect x="574.7" y="233.55" width="65.1" height="50.4" fill="#ED7D31" stroke="#000" stroke-width="2.6"/>
<rect x="680.85" y="233.55" width="65.1" height="50.4" fill="#ED7D31" stroke="#000" stroke-width="2.6"/>
<rect x="362.4" y="326.55" width="65.1" height="50.4" fill="#ED7D31" stroke="#000" stroke-width="2.6"/>
<text x="395.45" y="347.15" font-size="20.5" fill="#fff" text-anchor="middle" letter-spacing="0.8" stroke="#fff" stroke-width="0.25">m*n-</text>
<text x="394.95" y="370.35" font-size="20" fill="#fff" text-anchor="middle" stroke="#fff" stroke-width="0.25">(n-1)</text>
<rect x="468.55" y="326.55" width="65.1" height="50.4" fill="#ED7D31" stroke="#000" stroke-width="2.6"/>
<text x="501.6" y="347.15" font-size="20.5" fill="#fff" text-anchor="middle" letter-spacing="0.8" stroke="#fff" stroke-width="0.25">m*n-</text>
<text x="501.1" y="370.35" font-size="20" fill="#fff" text-anchor="middle" stroke="#fff" stroke-width="0.25">(n-2)</text>
<rect x="574.7" y="326.55" width="65.1" height="50.4" fill="#ED7D31" stroke="#000" stroke-width="2.6"/>
<rect x="680.85" y="326.55" width="65.1" height="50.4" fill="#ED7D31" stroke="#000" stroke-width="2.6"/>
<polygon points="430.4,72.75 442.6,61.75 442.6,67.05 453.25,67.05 453.25,61.75 465.45,72.75 453.25,83.75 453.25,78.45 442.6,78.45 442.6,83.75" fill="#5B9BD5" stroke="#41719C" stroke-width="0.8" stroke-linejoin="round"/>
<polygon points="394.95,99.75 384.7,110.35 389.8,110.35 389.8,128.85 384.7,128.85 394.95,139.45 405.2,128.85 400.1,128.85 400.1,110.35 405.2,110.35" fill="#5B9BD5" stroke="#41719C" stroke-width="0.8" stroke-linejoin="round"/>
<polygon points="536.55,72.75 548.75,61.75 548.75,67.05 559.4,67.05 559.4,61.75 571.6,72.75 559.4,83.75 559.4,78.45 548.75,78.45 548.75,83.75" fill="#5B9BD5" stroke="#41719C" stroke-width="0.8" stroke-linejoin="round"/>
<polygon points="501.1,99.75 490.85,110.35 495.95,110.35 495.95,128.85 490.85,128.85 501.1,139.45 511.35,128.85 506.25,128.85 506.25,110.35 511.35,110.35" fill="#5B9BD5" stroke="#41719C" stroke-width="0.8" stroke-linejoin="round"/>
<polygon points="642.7,72.75 654.9,61.75 654.9,67.05 665.55,67.05 665.55,61.75 677.75,72.75 665.55,83.75 665.55,78.45 654.9,78.45 654.9,83.75" fill="#5B9BD5" stroke="#41719C" stroke-width="0.8" stroke-linejoin="round"/>
<polygon points="607.25,99.75 597,110.35 602.1,110.35 602.1,128.85 597,128.85 607.25,139.45 617.5,128.85 612.4,128.85 612.4,110.35 617.5,110.35" fill="#5B9BD5" stroke="#41719C" stroke-width="0.8" stroke-linejoin="round"/>
<polygon points="713.4,99.75 703.15,110.35 708.25,110.35 708.25,128.85 703.15,128.85 713.4,139.45 723.65,128.85 718.55,128.85 718.55,110.35 723.65,110.35" fill="#5B9BD5" stroke="#41719C" stroke-width="0.8" stroke-linejoin="round"/>
<polygon points="430.4,165.75 442.6,154.75 442.6,160.05 453.25,160.05 453.25,154.75 465.45,165.75 453.25,176.75 453.25,171.45 442.6,171.45 442.6,176.75" fill="#5B9BD5" stroke="#41719C" stroke-width="0.8" stroke-linejoin="round"/>
<polygon points="394.95,192.75 384.7,203.35 389.8,203.35 389.8,221.85 384.7,221.85 394.95,232.45 405.2,221.85 400.1,221.85 400.1,203.35 405.2,203.35" fill="#5B9BD5" stroke="#41719C" stroke-width="0.8" stroke-linejoin="round"/>
<polygon points="536.55,165.75 548.75,154.75 548.75,160.05 559.4,160.05 559.4,154.75 571.6,165.75 559.4,176.75 559.4,171.45 548.75,171.45 548.75,176.75" fill="#5B9BD5" stroke="#41719C" stroke-width="0.8" stroke-linejoin="round"/>
<polygon points="501.1,192.75 490.85,203.35 495.95,203.35 495.95,221.85 490.85,221.85 501.1,232.45 511.35,221.85 506.25,221.85 506.25,203.35 511.35,203.35" fill="#5B9BD5" stroke="#41719C" stroke-width="0.8" stroke-linejoin="round"/>
<polygon points="642.7,165.75 654.9,154.75 654.9,160.05 665.55,160.05 665.55,154.75 677.75,165.75 665.55,176.75 665.55,171.45 654.9,171.45 654.9,176.75" fill="#5B9BD5" stroke="#41719C" stroke-width="0.8" stroke-linejoin="round"/>
<polygon points="607.25,192.75 597,203.35 602.1,203.35 602.1,221.85 597,221.85 607.25,232.45 617.5,221.85 612.4,221.85 612.4,203.35 617.5,203.35" fill="#5B9BD5" stroke="#41719C" stroke-width="0.8" stroke-linejoin="round"/>
<polygon points="713.4,192.75 703.15,203.35 708.25,203.35 708.25,221.85 703.15,221.85 713.4,232.45 723.65,221.85 718.55,221.85 718.55,203.35 723.65,203.35" fill="#5B9BD5" stroke="#41719C" stroke-width="0.8" stroke-linejoin="round"/>
<polygon points="430.4,258.75 442.6,247.75 442.6,253.05 453.25,253.05 453.25,247.75 465.45,258.75 453.25,269.75 453.25,264.45 442.6,264.45 442.6,269.75" fill="#5B9BD5" stroke="#41719C" stroke-width="0.8" stroke-linejoin="round"/>
<polygon points="394.95,285.75 384.7,296.35 389.8,296.35 389.8,314.85 384.7,314.85 394.95,325.45 405.2,314.85 400.1,314.85 400.1,296.35 405.2,296.35" fill="#5B9BD5" stroke="#41719C" stroke-width="0.8" stroke-linejoin="round"/>
<polygon points="536.55,258.75 548.75,247.75 548.75,253.05 559.4,253.05 559.4,247.75 571.6,258.75 559.4,269.75 559.4,264.45 548.75,264.45 548.75,269.75" fill="#5B9BD5" stroke="#41719C" stroke-width="0.8" stroke-linejoin="round"/>
<polygon points="501.1,285.75 490.85,296.35 495.95,296.35 495.95,314.85 490.85,314.85 501.1,325.45 511.35,314.85 506.25,314.85 506.25,296.35 511.35,296.35" fill="#5B9BD5" stroke="#41719C" stroke-width="0.8" stroke-linejoin="round"/>
<polygon points="642.7,258.75 654.9,247.75 654.9,253.05 665.55,253.05 665.55,247.75 677.75,258.75 665.55,269.75 665.55,264.45 654.9,264.45 654.9,269.75" fill="#5B9BD5" stroke="#41719C" stroke-width="0.8" stroke-linejoin="round"/>
<polygon points="607.25,285.75 597,296.35 602.1,296.35 602.1,314.85 597,314.85 607.25,325.45 617.5,314.85 612.4,314.85 612.4,296.35 617.5,296.35" fill="#5B9BD5" stroke="#41719C" stroke-width="0.8" stroke-linejoin="round"/>
<polygon points="713.4,285.75 703.15,296.35 708.25,296.35 708.25,314.85 703.15,314.85 713.4,325.45 723.65,314.85 718.55,314.85 718.55,296.35 723.65,296.35" fill="#5B9BD5" stroke="#41719C" stroke-width="0.8" stroke-linejoin="round"/>
<polygon points="430.4,351.75 442.6,340.75 442.6,346.05 453.25,346.05 453.25,340.75 465.45,351.75 453.25,362.75 453.25,357.45 442.6,357.45 442.6,362.75" fill="#5B9BD5" stroke="#41719C" stroke-width="0.8" stroke-linejoin="round"/>
<polygon points="536.55,351.75 548.75,340.75 548.75,346.05 559.4,346.05 559.4,340.75 571.6,351.75 559.4,362.75 559.4,357.45 548.75,357.45 548.75,362.75" fill="#5B9BD5" stroke="#41719C" stroke-width="0.8" stroke-linejoin="round"/>
<polygon points="642.7,351.75 654.9,340.75 654.9,346.05 665.55,346.05 665.55,340.75 677.75,351.75 665.55,362.75 665.55,357.45 654.9,357.45 654.9,362.75" fill="#5B9BD5" stroke="#41719C" stroke-width="0.8" stroke-linejoin="round"/>
<polygon points="419.5,13.73 417.95,14.03 416.42,14.45 414.91,14.97 413.43,15.61 411.98,16.34 410.58,17.18 409.22,18.11 407.9,19.14 406.65,20.27 405.45,21.48 404.31,22.77 403.24,24.15 402.24,25.59 401.32,27.11 400.47,28.69 399.7,30.32 399.02,32.01 398.43,33.75 397.92,35.52 397.5,37.32 397.17,39.16 396.94,41.01 396.8,42.88 396.75,44.75 389.75,44.75 389.82,42.53 390.01,40.32 390.34,38.13 390.8,35.98 391.39,33.87 392.1,31.81 392.93,29.82 393.87,27.91 394.93,26.08 396.1,24.34 397.36,22.71 398.72,21.19 400.17,19.79 401.69,18.51 403.29,17.36 404.95,16.36 406.67,15.49 408.43,14.78 410.24,14.21 412.07,13.8 413.92,13.55 415.78,13.45 417.65,13.51 419.5,13.73" fill="#4A7FB8" stroke="#41719C" stroke-width="0.6" stroke-linejoin="round"/><polygon points="445.75,44.75 436.88,36.75 441.38,36.75 440.97,35.11 440.49,33.5 439.94,31.92 439.32,30.37 438.62,28.88 437.86,27.43 437.04,26.03 436.15,24.68 435.2,23.4 434.19,22.18 433.13,21.03 432.01,19.95 430.85,18.94 429.65,18.01 428.4,17.16 427.12,16.4 425.8,15.72 424.46,15.12 423.09,14.61 421.7,14.2 420.29,13.87 418.87,13.64 417.43,13.5 416,13.45 423,13.45 424.43,13.5 425.87,13.64 427.29,13.87 428.7,14.2 430.09,14.61 431.46,15.12 432.8,15.72 434.12,16.4 435.4,17.16 436.65,18.01 437.85,18.94 439.01,19.95 440.13,21.03 441.19,22.18 442.2,23.4 443.15,24.68 444.04,26.03 444.86,27.43 445.62,28.88 446.32,30.37 446.94,31.92 447.49,33.5 447.97,35.11 448.38,36.75 452.88,36.75" fill="#5B9BD5" stroke="#41719C" stroke-width="0.6" stroke-linejoin="round"/>
<polygon points="419.5,409.27 417.95,408.97 416.42,408.55 414.91,408.03 413.43,407.39 411.98,406.66 410.58,405.82 409.22,404.89 407.9,403.86 406.65,402.73 405.45,401.52 404.31,400.23 403.24,398.85 402.24,397.41 401.32,395.89 400.47,394.31 399.7,392.68 399.02,390.99 398.43,389.25 397.92,387.48 397.5,385.68 397.17,383.84 396.94,381.99 396.8,380.12 396.75,378.25 389.75,378.25 389.82,380.47 390.01,382.68 390.34,384.87 390.8,387.02 391.39,389.13 392.1,391.19 392.93,393.18 393.87,395.09 394.93,396.92 396.1,398.66 397.36,400.29 398.72,401.81 400.17,403.21 401.69,404.49 403.29,405.64 404.95,406.64 406.67,407.51 408.43,408.22 410.24,408.79 412.07,409.2 413.92,409.45 415.78,409.55 417.65,409.49 419.5,409.27" fill="#4A7FB8" stroke="#41719C" stroke-width="0.6" stroke-linejoin="round"/><polygon points="445.75,378.25 436.88,386.25 441.38,386.25 440.97,387.89 440.49,389.5 439.94,391.08 439.32,392.63 438.62,394.12 437.86,395.57 437.04,396.97 436.15,398.32 435.2,399.6 434.19,400.82 433.13,401.97 432.01,403.05 430.85,404.06 429.65,404.99 428.4,405.84 427.12,406.6 425.8,407.28 424.46,407.88 423.09,408.39 421.7,408.8 420.29,409.13 418.87,409.36 417.43,409.5 416,409.55 423,409.55 424.43,409.5 425.87,409.36 427.29,409.13 428.7,408.8 430.09,408.39 431.46,407.88 432.8,407.28 434.12,406.6 435.4,405.84 436.65,404.99 437.85,404.06 439.01,403.05 440.13,401.97 441.19,400.82 442.2,399.6 443.15,398.32 444.04,396.97 444.86,395.57 445.62,394.12 446.32,392.63 446.94,391.08 447.49,389.5 447.97,387.89 448.38,386.25 452.88,386.25" fill="#5B9BD5" stroke="#41719C" stroke-width="0.6" stroke-linejoin="round"/>
<polygon points="525.65,13.73 524.1,14.03 522.57,14.45 521.06,14.97 519.58,15.61 518.13,16.34 516.73,17.18 515.37,18.11 514.05,19.14 512.8,20.27 511.6,21.48 510.46,22.77 509.39,24.15 508.39,25.59 507.47,27.11 506.62,28.69 505.85,30.32 505.17,32.01 504.58,33.75 504.07,35.52 503.65,37.32 503.32,39.16 503.09,41.01 502.95,42.88 502.9,44.75 495.9,44.75 495.97,42.53 496.16,40.32 496.49,38.13 496.95,35.98 497.54,33.87 498.25,31.81 499.08,29.82 500.02,27.91 501.08,26.08 502.25,24.34 503.51,22.71 504.87,21.19 506.32,19.79 507.84,18.51 509.44,17.36 511.1,16.36 512.82,15.49 514.58,14.78 516.39,14.21 518.22,13.8 520.07,13.55 521.93,13.45 523.8,13.51 525.65,13.73" fill="#4A7FB8" stroke="#41719C" stroke-width="0.6" stroke-linejoin="round"/><polygon points="551.9,44.75 543.03,36.75 547.53,36.75 547.12,35.11 546.64,33.5 546.09,31.92 545.47,30.37 544.77,28.88 544.01,27.43 543.19,26.03 542.3,24.68 541.35,23.4 540.34,22.18 539.28,21.03 538.16,19.95 537,18.94 535.8,18.01 534.55,17.16 533.27,16.4 531.95,15.72 530.61,15.12 529.24,14.61 527.85,14.2 526.44,13.87 525.02,13.64 523.58,13.5 522.15,13.45 529.15,13.45 530.58,13.5 532.02,13.64 533.44,13.87 534.85,14.2 536.24,14.61 537.61,15.12 538.95,15.72 540.27,16.4 541.55,17.16 542.8,18.01 544,18.94 545.16,19.95 546.28,21.03 547.34,22.18 548.35,23.4 549.3,24.68 550.19,26.03 551.01,27.43 551.77,28.88 552.47,30.37 553.09,31.92 553.64,33.5 554.12,35.11 554.53,36.75 559.03,36.75" fill="#5B9BD5" stroke="#41719C" stroke-width="0.6" stroke-linejoin="round"/>
<polygon points="525.65,409.27 524.1,408.97 522.57,408.55 521.06,408.03 519.58,407.39 518.13,406.66 516.73,405.82 515.37,404.89 514.05,403.86 512.8,402.73 511.6,401.52 510.46,400.23 509.39,398.85 508.39,397.41 507.47,395.89 506.62,394.31 505.85,392.68 505.17,390.99 504.58,389.25 504.07,387.48 503.65,385.68 503.32,383.84 503.09,381.99 502.95,380.12 502.9,378.25 495.9,378.25 495.97,380.47 496.16,382.68 496.49,384.87 496.95,387.02 497.54,389.13 498.25,391.19 499.08,393.18 500.02,395.09 501.08,396.92 502.25,398.66 503.51,400.29 504.87,401.81 506.32,403.21 507.84,404.49 509.44,405.64 511.1,406.64 512.82,407.51 514.58,408.22 516.39,408.79 518.22,409.2 520.07,409.45 521.93,409.55 523.8,409.49 525.65,409.27" fill="#4A7FB8" stroke="#41719C" stroke-width="0.6" stroke-linejoin="round"/><polygon points="551.9,378.25 543.03,386.25 547.53,386.25 547.12,387.89 546.64,389.5 546.09,391.08 545.47,392.63 544.77,394.12 544.01,395.57 543.19,396.97 542.3,398.32 541.35,399.6 540.34,400.82 539.28,401.97 538.16,403.05 537,404.06 535.8,404.99 534.55,405.84 533.27,406.6 531.95,407.28 530.61,407.88 529.24,408.39 527.85,408.8 526.44,409.13 525.02,409.36 523.58,409.5 522.15,409.55 529.15,409.55 530.58,409.5 532.02,409.36 533.44,409.13 534.85,408.8 536.24,408.39 537.61,407.88 538.95,407.28 540.27,406.6 541.55,405.84 542.8,404.99 544,404.06 545.16,403.05 546.28,401.97 547.34,400.82 548.35,399.6 549.3,398.32 550.19,396.97 551.01,395.57 551.77,394.12 552.47,392.63 553.09,391.08 553.64,389.5 554.12,387.89 554.53,386.25 559.03,386.25" fill="#5B9BD5" stroke="#41719C" stroke-width="0.6" stroke-linejoin="round"/>
<polygon points="631.8,13.73 630.25,14.03 628.72,14.45 627.21,14.97 625.73,15.61 624.28,16.34 622.88,17.18 621.52,18.11 620.2,19.14 618.95,20.27 617.75,21.48 616.61,22.77 615.54,24.15 614.54,25.59 613.62,27.11 612.77,28.69 612,30.32 611.32,32.01 610.73,33.75 610.22,35.52 609.8,37.32 609.47,39.16 609.24,41.01 609.1,42.88 609.05,44.75 602.05,44.75 602.12,42.53 602.31,40.32 602.64,38.13 603.1,35.98 603.69,33.87 604.4,31.81 605.23,29.82 606.17,27.91 607.23,26.08 608.4,24.34 609.66,22.71 611.02,21.19 612.47,19.79 613.99,18.51 615.59,17.36 617.25,16.36 618.97,15.49 620.73,14.78 622.54,14.21 624.37,13.8 626.22,13.55 628.08,13.45 629.95,13.51 631.8,13.73" fill="#4A7FB8" stroke="#41719C" stroke-width="0.6" stroke-linejoin="round"/><polygon points="658.05,44.75 649.18,36.75 653.68,36.75 653.27,35.11 652.79,33.5 652.24,31.92 651.62,30.37 650.92,28.88 650.16,27.43 649.34,26.03 648.45,24.68 647.5,23.4 646.49,22.18 645.43,21.03 644.31,19.95 643.15,18.94 641.95,18.01 640.7,17.16 639.42,16.4 638.1,15.72 636.76,15.12 635.39,14.61 634,14.2 632.59,13.87 631.17,13.64 629.73,13.5 628.3,13.45 635.3,13.45 636.73,13.5 638.17,13.64 639.59,13.87 641,14.2 642.39,14.61 643.76,15.12 645.1,15.72 646.42,16.4 647.7,17.16 648.95,18.01 650.15,18.94 651.31,19.95 652.43,21.03 653.49,22.18 654.5,23.4 655.45,24.68 656.34,26.03 657.16,27.43 657.92,28.88 658.62,30.37 659.24,31.92 659.79,33.5 660.27,35.11 660.68,36.75 665.18,36.75" fill="#5B9BD5" stroke="#41719C" stroke-width="0.6" stroke-linejoin="round"/>
<polygon points="631.8,409.27 630.25,408.97 628.72,408.55 627.21,408.03 625.73,407.39 624.28,406.66 622.88,405.82 621.52,404.89 620.2,403.86 618.95,402.73 617.75,401.52 616.61,400.23 615.54,398.85 614.54,397.41 613.62,395.89 612.77,394.31 612,392.68 611.32,390.99 610.73,389.25 610.22,387.48 609.8,385.68 609.47,383.84 609.24,381.99 609.1,380.12 609.05,378.25 602.05,378.25 602.12,380.47 602.31,382.68 602.64,384.87 603.1,387.02 603.69,389.13 604.4,391.19 605.23,393.18 606.17,395.09 607.23,396.92 608.4,398.66 609.66,400.29 611.02,401.81 612.47,403.21 613.99,404.49 615.59,405.64 617.25,406.64 618.97,407.51 620.73,408.22 622.54,408.79 624.37,409.2 626.22,409.45 628.08,409.55 629.95,409.49 631.8,409.27" fill="#4A7FB8" stroke="#41719C" stroke-width="0.6" stroke-linejoin="round"/><polygon points="658.05,378.25 649.18,386.25 653.68,386.25 653.27,387.89 652.79,389.5 652.24,391.08 651.62,392.63 650.92,394.12 650.16,395.57 649.34,396.97 648.45,398.32 647.5,399.6 646.49,400.82 645.43,401.97 644.31,403.05 643.15,404.06 641.95,404.99 640.7,405.84 639.42,406.6 638.1,407.28 636.76,407.88 635.39,408.39 634,408.8 632.59,409.13 631.17,409.36 629.73,409.5 628.3,409.55 635.3,409.55 636.73,409.5 638.17,409.36 639.59,409.13 641,408.8 642.39,408.39 643.76,407.88 645.1,407.28 646.42,406.6 647.7,405.84 648.95,404.99 650.15,404.06 651.31,403.05 652.43,401.97 653.49,400.82 654.5,399.6 655.45,398.32 656.34,396.97 657.16,395.57 657.92,394.12 658.62,392.63 659.24,391.08 659.79,389.5 660.27,387.89 660.68,386.25 665.18,386.25" fill="#5B9BD5" stroke="#41719C" stroke-width="0.6" stroke-linejoin="round"/>
<polygon points="737.95,13.73 736.4,14.03 734.87,14.45 733.36,14.97 731.88,15.61 730.43,16.34 729.03,17.18 727.67,18.11 726.35,19.14 725.1,20.27 723.9,21.48 722.76,22.77 721.69,24.15 720.69,25.59 719.77,27.11 718.92,28.69 718.15,30.32 717.47,32.01 716.88,33.75 716.37,35.52 715.95,37.32 715.62,39.16 715.39,41.01 715.25,42.88 715.2,44.75 708.2,44.75 708.27,42.53 708.46,40.32 708.79,38.13 709.25,35.98 709.84,33.87 710.55,31.81 711.38,29.82 712.32,27.91 713.38,26.08 714.55,24.34 715.81,22.71 717.17,21.19 718.62,19.79 720.14,18.51 721.74,17.36 723.4,16.36 725.12,15.49 726.88,14.78 728.69,14.21 730.52,13.8 732.37,13.55 734.23,13.45 736.1,13.51 737.95,13.73" fill="#4A7FB8" stroke="#41719C" stroke-width="0.6" stroke-linejoin="round"/><polygon points="764.2,44.75 755.33,36.75 759.83,36.75 759.42,35.11 758.94,33.5 758.39,31.92 757.77,30.37 757.07,28.88 756.31,27.43 755.49,26.03 754.6,24.68 753.65,23.4 752.64,22.18 751.58,21.03 750.46,19.95 749.3,18.94 748.1,18.01 746.85,17.16 745.57,16.4 744.25,15.72 742.91,15.12 741.54,14.61 740.15,14.2 738.74,13.87 737.32,13.64 735.88,13.5 734.45,13.45 741.45,13.45 742.88,13.5 744.32,13.64 745.74,13.87 747.15,14.2 748.54,14.61 749.91,15.12 751.25,15.72 752.57,16.4 753.85,17.16 755.1,18.01 756.3,18.94 757.46,19.95 758.58,21.03 759.64,22.18 760.65,23.4 761.6,24.68 762.49,26.03 763.31,27.43 764.07,28.88 764.77,30.37 765.39,31.92 765.94,33.5 766.42,35.11 766.83,36.75 771.33,36.75" fill="#5B9BD5" stroke="#41719C" stroke-width="0.6" stroke-linejoin="round"/>
<polygon points="737.95,409.27 736.4,408.97 734.87,408.55 733.36,408.03 731.88,407.39 730.43,406.66 729.03,405.82 727.67,404.89 726.35,403.86 725.1,402.73 723.9,401.52 722.76,400.23 721.69,398.85 720.69,397.41 719.77,395.89 718.92,394.31 718.15,392.68 717.47,390.99 716.88,389.25 716.37,387.48 715.95,385.68 715.62,383.84 715.39,381.99 715.25,380.12 715.2,378.25 708.2,378.25 708.27,380.47 708.46,382.68 708.79,384.87 709.25,387.02 709.84,389.13 710.55,391.19 711.38,393.18 712.32,395.09 713.38,396.92 714.55,398.66 715.81,400.29 717.17,401.81 718.62,403.21 720.14,404.49 721.74,405.64 723.4,406.64 725.12,407.51 726.88,408.22 728.69,408.79 730.52,409.2 732.37,409.45 734.23,409.55 736.1,409.49 737.95,409.27" fill="#4A7FB8" stroke="#41719C" stroke-width="0.6" stroke-linejoin="round"/><polygon points="764.2,378.25 755.33,386.25 759.83,386.25 759.42,387.89 758.94,389.5 758.39,391.08 757.77,392.63 757.07,394.12 756.31,395.57 755.49,396.97 754.6,398.32 753.65,399.6 752.64,400.82 751.58,401.97 750.46,403.05 749.3,404.06 748.1,404.99 746.85,405.84 745.57,406.6 744.25,407.28 742.91,407.88 741.54,408.39 740.15,408.8 738.74,409.13 737.32,409.36 735.88,409.5 734.45,409.55 741.45,409.55 742.88,409.5 744.32,409.36 745.74,409.13 747.15,408.8 748.54,408.39 749.91,407.88 751.25,407.28 752.57,406.6 753.85,405.84 755.1,404.99 756.3,404.06 757.46,403.05 758.58,401.97 759.64,400.82 760.65,399.6 761.6,398.32 762.49,396.97 763.31,395.57 764.07,394.12 764.77,392.63 765.39,391.08 765.94,389.5 766.42,387.89 766.83,386.25 771.33,386.25" fill="#5B9BD5" stroke="#41719C" stroke-width="0.6" stroke-linejoin="round"/>
<polygon points="329.16,94.25 329.5,92.91 329.94,91.59 330.49,90.3 331.14,89.02 331.89,87.78 332.74,86.58 333.69,85.41 334.72,84.28 335.85,83.21 337.06,82.18 338.35,81.21 339.72,80.29 341.16,79.44 342.66,78.65 344.23,77.93 345.85,77.27 347.52,76.69 349.23,76.18 350.99,75.75 352.77,75.39 354.58,75.11 356.41,74.91 358.25,74.79 360.1,74.75 360.1,67.75 357.85,67.81 355.62,67.99 353.41,68.28 351.23,68.69 349.1,69.22 347.03,69.85 345.02,70.6 343.09,71.44 341.25,72.39 339.5,73.43 337.87,74.56 336.34,75.78 334.94,77.07 333.67,78.43 332.54,79.85 331.54,81.33 330.7,82.86 330,84.44 329.46,86.04 329.08,87.67 328.86,89.31 328.8,90.96 328.9,92.61 329.16,94.25" fill="#4A7FB8" stroke="#41719C" stroke-width="0.6" stroke-linejoin="round"/><polygon points="360.1,117.25 352.1,108.49 352.1,112.99 350.46,112.63 348.85,112.21 347.27,111.73 345.72,111.18 344.23,110.57 342.78,109.91 341.38,109.18 340.03,108.4 338.75,107.57 337.53,106.69 336.38,105.76 335.3,104.78 334.29,103.77 333.36,102.71 332.51,101.62 331.75,100.49 331.07,99.34 330.47,98.16 329.96,96.96 329.55,95.74 329.22,94.51 328.99,93.26 328.85,92.01 328.8,90.75 328.8,97.75 328.85,99.01 328.99,100.26 329.22,101.51 329.55,102.74 329.96,103.96 330.47,105.16 331.07,106.34 331.75,107.49 332.51,108.62 333.36,109.71 334.29,110.77 335.3,111.78 336.38,112.76 337.53,113.69 338.75,114.57 340.03,115.4 341.38,116.18 342.78,116.91 344.23,117.57 345.72,118.18 347.27,118.73 348.85,119.21 350.46,119.63 352.1,119.99 352.1,124.49" fill="#5B9BD5" stroke="#41719C" stroke-width="0.6" stroke-linejoin="round"/>
<polygon points="779.69,94.75 779.35,93.41 778.91,92.09 778.36,90.8 777.71,89.52 776.96,88.28 776.11,87.08 775.16,85.91 774.13,84.78 773,83.71 771.79,82.68 770.5,81.71 769.13,80.79 767.69,79.94 766.19,79.15 764.62,78.43 763,77.77 761.33,77.19 759.62,76.68 757.86,76.25 756.08,75.89 754.27,75.61 752.44,75.41 750.6,75.29 748.75,75.25 748.75,68.25 751,68.31 753.23,68.49 755.44,68.78 757.62,69.19 759.75,69.72 761.82,70.35 763.83,71.1 765.76,71.94 767.6,72.89 769.35,73.93 770.98,75.06 772.51,76.28 773.91,77.57 775.18,78.93 776.31,80.35 777.31,81.83 778.15,83.36 778.85,84.94 779.39,86.54 779.77,88.17 779.99,89.81 780.05,91.46 779.95,93.11 779.69,94.75" fill="#4A7FB8" stroke="#41719C" stroke-width="0.6" stroke-linejoin="round"/><polygon points="748.75,117.75 756.75,108.99 756.75,113.49 758.39,113.13 760,112.71 761.58,112.23 763.13,111.68 764.62,111.07 766.07,110.41 767.47,109.68 768.82,108.9 770.1,108.07 771.32,107.19 772.47,106.26 773.55,105.28 774.56,104.27 775.49,103.21 776.34,102.12 777.1,100.99 777.78,99.84 778.38,98.66 778.89,97.46 779.3,96.24 779.63,95.01 779.86,93.76 780,92.51 780.05,91.25 780.05,98.25 780,99.51 779.86,100.76 779.63,102.01 779.3,103.24 778.89,104.46 778.38,105.66 777.78,106.84 777.1,107.99 776.34,109.12 775.49,110.21 774.56,111.27 773.55,112.28 772.47,113.26 771.32,114.19 770.1,115.07 768.82,115.9 767.47,116.68 766.07,117.41 764.62,118.07 763.13,118.68 761.58,119.23 760,119.71 758.39,120.13 756.75,120.49 756.75,124.99" fill="#5B9BD5" stroke="#41719C" stroke-width="0.6" stroke-linejoin="round"/>
<polygon points="329.16,187.25 329.5,185.91 329.94,184.59 330.49,183.3 331.14,182.02 331.89,180.78 332.74,179.58 333.69,178.41 334.72,177.28 335.85,176.21 337.06,175.18 338.35,174.21 339.72,173.29 341.16,172.44 342.66,171.65 344.23,170.93 345.85,170.27 347.52,169.69 349.23,169.18 350.99,168.75 352.77,168.39 354.58,168.11 356.41,167.91 358.25,167.79 360.1,167.75 360.1,160.75 357.85,160.81 355.62,160.99 353.41,161.28 351.23,161.69 349.1,162.22 347.03,162.85 345.02,163.6 343.09,164.44 341.25,165.39 339.5,166.43 337.87,167.56 336.34,168.78 334.94,170.07 333.67,171.43 332.54,172.85 331.54,174.33 330.7,175.86 330,177.44 329.46,179.04 329.08,180.67 328.86,182.31 328.8,183.96 328.9,185.61 329.16,187.25" fill="#4A7FB8" stroke="#41719C" stroke-width="0.6" stroke-linejoin="round"/><polygon points="360.1,210.25 352.1,201.49 352.1,205.99 350.46,205.63 348.85,205.21 347.27,204.73 345.72,204.18 344.23,203.57 342.78,202.91 341.38,202.18 340.03,201.4 338.75,200.57 337.53,199.69 336.38,198.76 335.3,197.78 334.29,196.77 333.36,195.71 332.51,194.62 331.75,193.49 331.07,192.34 330.47,191.16 329.96,189.96 329.55,188.74 329.22,187.51 328.99,186.26 328.85,185.01 328.8,183.75 328.8,190.75 328.85,192.01 328.99,193.26 329.22,194.51 329.55,195.74 329.96,196.96 330.47,198.16 331.07,199.34 331.75,200.49 332.51,201.62 333.36,202.71 334.29,203.77 335.3,204.78 336.38,205.76 337.53,206.69 338.75,207.57 340.03,208.4 341.38,209.18 342.78,209.91 344.23,210.57 345.72,211.18 347.27,211.73 348.85,212.21 350.46,212.63 352.1,212.99 352.1,217.49" fill="#5B9BD5" stroke="#41719C" stroke-width="0.6" stroke-linejoin="round"/>
<polygon points="779.69,187.75 779.35,186.41 778.91,185.09 778.36,183.8 777.71,182.52 776.96,181.28 776.11,180.08 775.16,178.91 774.13,177.78 773,176.71 771.79,175.68 770.5,174.71 769.13,173.79 767.69,172.94 766.19,172.15 764.62,171.43 763,170.77 761.33,170.19 759.62,169.68 757.86,169.25 756.08,168.89 754.27,168.61 752.44,168.41 750.6,168.29 748.75,168.25 748.75,161.25 751,161.31 753.23,161.49 755.44,161.78 757.62,162.19 759.75,162.72 761.82,163.35 763.83,164.1 765.76,164.94 767.6,165.89 769.35,166.93 770.98,168.06 772.51,169.28 773.91,170.57 775.18,171.93 776.31,173.35 777.31,174.83 778.15,176.36 778.85,177.94 779.39,179.54 779.77,181.17 779.99,182.81 780.05,184.46 779.95,186.11 779.69,187.75" fill="#4A7FB8" stroke="#41719C" stroke-width="0.6" stroke-linejoin="round"/><polygon points="748.75,210.75 756.75,201.99 756.75,206.49 758.39,206.13 760,205.71 761.58,205.23 763.13,204.68 764.62,204.07 766.07,203.41 767.47,202.68 768.82,201.9 770.1,201.07 771.32,200.19 772.47,199.26 773.55,198.28 774.56,197.27 775.49,196.21 776.34,195.12 777.1,193.99 777.78,192.84 778.38,191.66 778.89,190.46 779.3,189.24 779.63,188.01 779.86,186.76 780,185.51 780.05,184.25 780.05,191.25 780,192.51 779.86,193.76 779.63,195.01 779.3,196.24 778.89,197.46 778.38,198.66 777.78,199.84 777.1,200.99 776.34,202.12 775.49,203.21 774.56,204.27 773.55,205.28 772.47,206.26 771.32,207.19 770.1,208.07 768.82,208.9 767.47,209.68 766.07,210.41 764.62,211.07 763.13,211.68 761.58,212.23 760,212.71 758.39,213.13 756.75,213.49 756.75,217.99" fill="#5B9BD5" stroke="#41719C" stroke-width="0.6" stroke-linejoin="round"/>
<polygon points="329.16,280.25 329.5,278.91 329.94,277.59 330.49,276.3 331.14,275.02 331.89,273.78 332.74,272.58 333.69,271.41 334.72,270.28 335.85,269.21 337.06,268.18 338.35,267.21 339.72,266.29 341.16,265.44 342.66,264.65 344.23,263.93 345.85,263.27 347.52,262.69 349.23,262.18 350.99,261.75 352.77,261.39 354.58,261.11 356.41,260.91 358.25,260.79 360.1,260.75 360.1,253.75 357.85,253.81 355.62,253.99 353.41,254.28 351.23,254.69 349.1,255.22 347.03,255.85 345.02,256.6 343.09,257.44 341.25,258.39 339.5,259.43 337.87,260.56 336.34,261.78 334.94,263.07 333.67,264.43 332.54,265.85 331.54,267.33 330.7,268.86 330,270.44 329.46,272.04 329.08,273.67 328.86,275.31 328.8,276.96 328.9,278.61 329.16,280.25" fill="#4A7FB8" stroke="#41719C" stroke-width="0.6" stroke-linejoin="round"/><polygon points="360.1,303.25 352.1,294.49 352.1,298.99 350.46,298.63 348.85,298.21 347.27,297.73 345.72,297.18 344.23,296.57 342.78,295.91 341.38,295.18 340.03,294.4 338.75,293.57 337.53,292.69 336.38,291.76 335.3,290.78 334.29,289.77 333.36,288.71 332.51,287.62 331.75,286.49 331.07,285.34 330.47,284.16 329.96,282.96 329.55,281.74 329.22,280.51 328.99,279.26 328.85,278.01 328.8,276.75 328.8,283.75 328.85,285.01 328.99,286.26 329.22,287.51 329.55,288.74 329.96,289.96 330.47,291.16 331.07,292.34 331.75,293.49 332.51,294.62 333.36,295.71 334.29,296.77 335.3,297.78 336.38,298.76 337.53,299.69 338.75,300.57 340.03,301.4 341.38,302.18 342.78,302.91 344.23,303.57 345.72,304.18 347.27,304.73 348.85,305.21 350.46,305.63 352.1,305.99 352.1,310.49" fill="#5B9BD5" stroke="#41719C" stroke-width="0.6" stroke-linejoin="round"/>
<polygon points="779.69,280.75 779.35,279.41 778.91,278.09 778.36,276.8 777.71,275.52 776.96,274.28 776.11,273.08 775.16,271.91 774.13,270.78 773,269.71 771.79,268.68 770.5,267.71 769.13,266.79 767.69,265.94 766.19,265.15 764.62,264.43 763,263.77 761.33,263.19 759.62,262.68 757.86,262.25 756.08,261.89 754.27,261.61 752.44,261.41 750.6,261.29 748.75,261.25 748.75,254.25 751,254.31 753.23,254.49 755.44,254.78 757.62,255.19 759.75,255.72 761.82,256.35 763.83,257.1 765.76,257.94 767.6,258.89 769.35,259.93 770.98,261.06 772.51,262.28 773.91,263.57 775.18,264.93 776.31,266.35 777.31,267.83 778.15,269.36 778.85,270.94 779.39,272.54 779.77,274.17 779.99,275.81 780.05,277.46 779.95,279.11 779.69,280.75" fill="#4A7FB8" stroke="#41719C" stroke-width="0.6" stroke-linejoin="round"/><polygon points="748.75,303.75 756.75,294.99 756.75,299.49 758.39,299.13 760,298.71 761.58,298.23 763.13,297.68 764.62,297.07 766.07,296.41 767.47,295.68 768.82,294.9 770.1,294.07 771.32,293.19 772.47,292.26 773.55,291.28 774.56,290.27 775.49,289.21 776.34,288.12 777.1,286.99 777.78,285.84 778.38,284.66 778.89,283.46 779.3,282.24 779.63,281.01 779.86,279.76 780,278.51 780.05,277.25 780.05,284.25 780,285.51 779.86,286.76 779.63,288.01 779.3,289.24 778.89,290.46 778.38,291.66 777.78,292.84 777.1,293.99 776.34,295.12 775.49,296.21 774.56,297.27 773.55,298.28 772.47,299.26 771.32,300.19 770.1,301.07 768.82,301.9 767.47,302.68 766.07,303.41 764.62,304.07 763.13,304.68 761.58,305.23 760,305.71 758.39,306.13 756.75,306.49 756.75,310.99" fill="#5B9BD5" stroke="#41719C" stroke-width="0.6" stroke-linejoin="round"/>
<polygon points="329.16,373.25 329.5,371.91 329.94,370.59 330.49,369.3 331.14,368.02 331.89,366.78 332.74,365.58 333.69,364.41 334.72,363.28 335.85,362.21 337.06,361.18 338.35,360.21 339.72,359.29 341.16,358.44 342.66,357.65 344.23,356.93 345.85,356.27 347.52,355.69 349.23,355.18 350.99,354.75 352.77,354.39 354.58,354.11 356.41,353.91 358.25,353.79 360.1,353.75 360.1,346.75 357.85,346.81 355.62,346.99 353.41,347.28 351.23,347.69 349.1,348.22 347.03,348.85 345.02,349.6 343.09,350.44 341.25,351.39 339.5,352.43 337.87,353.56 336.34,354.78 334.94,356.07 333.67,357.43 332.54,358.85 331.54,360.33 330.7,361.86 330,363.44 329.46,365.04 329.08,366.67 328.86,368.31 328.8,369.96 328.9,371.61 329.16,373.25" fill="#4A7FB8" stroke="#41719C" stroke-width="0.6" stroke-linejoin="round"/><polygon points="360.1,396.25 352.1,387.49 352.1,391.99 350.46,391.63 348.85,391.21 347.27,390.73 345.72,390.18 344.23,389.57 342.78,388.91 341.38,388.18 340.03,387.4 338.75,386.57 337.53,385.69 336.38,384.76 335.3,383.78 334.29,382.77 333.36,381.71 332.51,380.62 331.75,379.49 331.07,378.34 330.47,377.16 329.96,375.96 329.55,374.74 329.22,373.51 328.99,372.26 328.85,371.01 328.8,369.75 328.8,376.75 328.85,378.01 328.99,379.26 329.22,380.51 329.55,381.74 329.96,382.96 330.47,384.16 331.07,385.34 331.75,386.49 332.51,387.62 333.36,388.71 334.29,389.77 335.3,390.78 336.38,391.76 337.53,392.69 338.75,393.57 340.03,394.4 341.38,395.18 342.78,395.91 344.23,396.57 345.72,397.18 347.27,397.73 348.85,398.21 350.46,398.63 352.1,398.99 352.1,403.49" fill="#5B9BD5" stroke="#41719C" stroke-width="0.6" stroke-linejoin="round"/>
<polygon points="779.69,373.75 779.35,372.41 778.91,371.09 778.36,369.8 777.71,368.52 776.96,367.28 776.11,366.08 775.16,364.91 774.13,363.78 773,362.71 771.79,361.68 770.5,360.71 769.13,359.79 767.69,358.94 766.19,358.15 764.62,357.43 763,356.77 761.33,356.19 759.62,355.68 757.86,355.25 756.08,354.89 754.27,354.61 752.44,354.41 750.6,354.29 748.75,354.25 748.75,347.25 751,347.31 753.23,347.49 755.44,347.78 757.62,348.19 759.75,348.72 761.82,349.35 763.83,350.1 765.76,350.94 767.6,351.89 769.35,352.93 770.98,354.06 772.51,355.28 773.91,356.57 775.18,357.93 776.31,359.35 777.31,360.83 778.15,362.36 778.85,363.94 779.39,365.54 779.77,367.17 779.99,368.81 780.05,370.46 779.95,372.11 779.69,373.75" fill="#4A7FB8" stroke="#41719C" stroke-width="0.6" stroke-linejoin="round"/><polygon points="748.75,396.75 756.75,387.99 756.75,392.49 758.39,392.13 760,391.71 761.58,391.23 763.13,390.68 764.62,390.07 766.07,389.41 767.47,388.68 768.82,387.9 770.1,387.07 771.32,386.19 772.47,385.26 773.55,384.28 774.56,383.27 775.49,382.21 776.34,381.12 777.1,379.99 777.78,378.84 778.38,377.66 778.89,376.46 779.3,375.24 779.63,374.01 779.86,372.76 780,371.51 780.05,370.25 780.05,377.25 780,378.51 779.86,379.76 779.63,381.01 779.3,382.24 778.89,383.46 778.38,384.66 777.78,385.84 777.1,386.99 776.34,388.12 775.49,389.21 774.56,390.27 773.55,391.28 772.47,392.26 771.32,393.19 770.1,394.07 768.82,394.9 767.47,395.68 766.07,396.41 764.62,397.07 763.13,397.68 761.58,398.23 760,398.71 758.39,399.13 756.75,399.49 756.75,403.99" fill="#5B9BD5" stroke="#41719C" stroke-width="0.6" stroke-linejoin="round"/></g>
<g><rect x="267.8" y="61" width="63.1" height="330.8" fill="#548235" stroke="#000" stroke-width="2.6"/>
<rect x="277.9" y="210.3" width="1.6" height="9.5" fill="#e8f0e0"/>
<rect x="803.9" y="61" width="63.3" height="330.8" fill="#7030A0" stroke="#000" stroke-width="2.6"/>
<polygon points="332.8,71.1 340.3,64.1 340.3,67.6 365.3,67.6 365.3,64.1 372.8,71.1 365.3,78.1 365.3,74.6 340.3,74.6 340.3,78.1" fill="#70AD47" stroke="#507E32" stroke-width="0.7" stroke-linejoin="round"/>
<polygon points="761.75,71.1 769.25,64.35 769.25,67.85 794.8,67.85 794.8,64.35 802.3,71.1 794.8,77.85 794.8,74.35 769.25,74.35 769.25,77.85" fill="#7030A0" stroke="#B0A0A8" stroke-width="0.9" stroke-linejoin="round"/>
<polygon points="332.8,164.1 340.3,157.1 340.3,160.6 365.3,160.6 365.3,157.1 372.8,164.1 365.3,171.1 365.3,167.6 340.3,167.6 340.3,171.1" fill="#70AD47" stroke="#507E32" stroke-width="0.7" stroke-linejoin="round"/>
<polygon points="761.75,164.1 769.25,157.35 769.25,160.85 794.8,160.85 794.8,157.35 802.3,164.1 794.8,170.85 794.8,167.35 769.25,167.35 769.25,170.85" fill="#7030A0" stroke="#B0A0A8" stroke-width="0.9" stroke-linejoin="round"/>
<polygon points="332.8,257.1 340.3,250.1 340.3,253.6 365.3,253.6 365.3,250.1 372.8,257.1 365.3,264.1 365.3,260.6 340.3,260.6 340.3,264.1" fill="#70AD47" stroke="#507E32" stroke-width="0.7" stroke-linejoin="round"/>
<polygon points="761.75,257.1 769.25,250.35 769.25,253.85 794.8,253.85 794.8,250.35 802.3,257.1 794.8,263.85 794.8,260.35 769.25,260.35 769.25,263.85" fill="#7030A0" stroke="#B0A0A8" stroke-width="0.9" stroke-linejoin="round"/>
<polygon points="332.8,350.1 340.3,343.1 340.3,346.6 365.3,346.6 365.3,343.1 372.8,350.1 365.3,357.1 365.3,353.6 340.3,353.6 340.3,357.1" fill="#70AD47" stroke="#507E32" stroke-width="0.7" stroke-linejoin="round"/>
<polygon points="761.75,350.1 769.25,343.35 769.25,346.85 794.8,346.85 794.8,343.35 802.3,350.1 794.8,356.85 794.8,353.35 769.25,353.35 769.25,356.85" fill="#7030A0" stroke="#B0A0A8" stroke-width="0.9" stroke-linejoin="round"/>
<rect x="375.7" y="61" width="65.1" height="50.4" fill="#ED7D31" stroke="#000" stroke-width="2.6"/>
<rect x="481.85" y="61" width="65.1" height="50.4" fill="#ED7D31" stroke="#000" stroke-width="2.6"/>
<rect x="588" y="61" width="65.1" height="50.4" fill="#ED7D31" stroke="#000" stroke-width="2.6"/>
<rect x="694.15" y="61" width="65.1" height="50.4" fill="#ED7D31" stroke="#000" stroke-width="2.6"/>
<rect x="375.7" y="154" width="65.1" height="50.4" fill="#ED7D31" stroke="#000" stroke-width="2.6"/>
<rect x="481.85" y="154" width="65.1" height="50.4" fill="#ED7D31" stroke="#000" stroke-width="2.6"/>
<rect x="588" y="154" width="65.1" height="50.4" fill="#ED7D31" stroke="#000" stroke-width="2.6"/>
<rect x="694.15" y="154" width="65.1" height="50.4" fill="#ED7D31" stroke="#000" stroke-width="2.6"/>
<rect x="375.7" y="247" width="65.1" height="50.4" fill="#ED7D31" stroke="#000" stroke-width="2.6"/>
<rect x="481.85" y="247" width="65.1" height="50.4" fill="#ED7D31" stroke="#000" stroke-width="2.6"/>
<rect x="588" y="247" width="65.1" height="50.4" fill="#ED7D31" stroke="#000" stroke-width="2.6"/>
<rect x="694.15" y="247" width="65.1" height="50.4" fill="#ED7D31" stroke="#000" stroke-width="2.6"/>
<rect x="375.7" y="340" width="65.1" height="50.4" fill="#ED7D31" stroke="#000" stroke-width="2.6"/>
<text x="408.75" y="360.6" font-size="20.5" fill="#fff" text-anchor="middle" letter-spacing="0.8" stroke="#fff" stroke-width="0.25">m*n-</text>
<text x="408.25" y="383.8" font-size="20" fill="#fff" text-anchor="middle" stroke="#fff" stroke-width="0.25">(n-1)</text>
<rect x="481.85" y="340" width="65.1" height="50.4" fill="#ED7D31" stroke="#000" stroke-width="2.6"/>
<text x="514.9" y="360.6" font-size="20.5" fill="#fff" text-anchor="middle" letter-spacing="0.8" stroke="#fff" stroke-width="0.25">m*n-</text>
<text x="514.4" y="383.8" font-size="20" fill="#fff" text-anchor="middle" stroke="#fff" stroke-width="0.25">(n-2)</text>
<rect x="588" y="340" width="65.1" height="50.4" fill="#ED7D31" stroke="#000" stroke-width="2.6"/>
<rect x="694.15" y="340" width="65.1" height="50.4" fill="#ED7D31" stroke="#000" stroke-width="2.6"/>
<polygon points="443.7,86.2 455.9,75.2 455.9,80.5 466.55,80.5 466.55,75.2 478.75,86.2 466.55,97.2 466.55,91.9 455.9,91.9 455.9,97.2" fill="#5B9BD5" stroke="#41719C" stroke-width="0.8" stroke-linejoin="round"/>
<polygon points="408.25,113.2 398,123.8 403.1,123.8 403.1,142.3 398,142.3 408.25,152.9 418.5,142.3 413.4,142.3 413.4,123.8 418.5,123.8" fill="#5B9BD5" stroke="#41719C" stroke-width="0.8" stroke-linejoin="round"/>
<polygon points="549.85,86.2 562.05,75.2 562.05,80.5 572.7,80.5 572.7,75.2 584.9,86.2 572.7,97.2 572.7,91.9 562.05,91.9 562.05,97.2" fill="#5B9BD5" stroke="#41719C" stroke-width="0.8" stroke-linejoin="round"/>
<polygon points="514.4,113.2 504.15,123.8 509.25,123.8 509.25,142.3 504.15,142.3 514.4,152.9 524.65,142.3 519.55,142.3 519.55,123.8 524.65,123.8" fill="#5B9BD5" stroke="#41719C" stroke-width="0.8" stroke-linejoin="round"/>
<polygon points="656,86.2 668.2,75.2 668.2,80.5 678.85,80.5 678.85,75.2 691.05,86.2 678.85,97.2 678.85,91.9 668.2,91.9 668.2,97.2" fill="#5B9BD5" stroke="#41719C" stroke-width="0.8" stroke-linejoin="round"/>
<polygon points="620.55,113.2 610.3,123.8 615.4,123.8 615.4,142.3 610.3,142.3 620.55,152.9 630.8,142.3 625.7,142.3 625.7,123.8 630.8,123.8" fill="#5B9BD5" stroke="#41719C" stroke-width="0.8" stroke-linejoin="round"/>
<polygon points="726.7,113.2 716.45,123.8 721.55,123.8 721.55,142.3 716.45,142.3 726.7,152.9 736.95,142.3 731.85,142.3 731.85,123.8 736.95,123.8" fill="#5B9BD5" stroke="#41719C" stroke-width="0.8" stroke-linejoin="round"/>
<polygon points="443.7,179.2 455.9,168.2 455.9,173.5 466.55,173.5 466.55,168.2 478.75,179.2 466.55,190.2 466.55,184.9 455.9,184.9 455.9,190.2" fill="#5B9BD5" stroke="#41719C" stroke-width="0.8" stroke-linejoin="round"/>
<polygon points="408.25,206.2 398,216.8 403.1,216.8 403.1,235.3 398,235.3 408.25,245.9 418.5,235.3 413.4,235.3 413.4,216.8 418.5,216.8" fill="#5B9BD5" stroke="#41719C" stroke-width="0.8" stroke-linejoin="round"/>
<polygon points="549.85,179.2 562.05,168.2 562.05,173.5 572.7,173.5 572.7,168.2 584.9,179.2 572.7,190.2 572.7,184.9 562.05,184.9 562.05,190.2" fill="#5B9BD5" stroke="#41719C" stroke-width="0.8" stroke-linejoin="round"/>
<polygon points="514.4,206.2 504.15,216.8 509.25,216.8 509.25,235.3 504.15,235.3 514.4,245.9 524.65,235.3 519.55,235.3 519.55,216.8 524.65,216.8" fill="#5B9BD5" stroke="#41719C" stroke-width="0.8" stroke-linejoin="round"/>
<polygon points="656,179.2 668.2,168.2 668.2,173.5 678.85,173.5 678.85,168.2 691.05,179.2 678.85,190.2 678.85,184.9 668.2,184.9 668.2,190.2" fill="#5B9BD5" stroke="#41719C" stroke-width="0.8" stroke-linejoin="round"/>
<polygon points="620.55,206.2 610.3,216.8 615.4,216.8 615.4,235.3 610.3,235.3 620.55,245.9 630.8,235.3 625.7,235.3 625.7,216.8 630.8,216.8" fill="#5B9BD5" stroke="#41719C" stroke-width="0.8" stroke-linejoin="round"/>
<polygon points="726.7,206.2 716.45,216.8 721.55,216.8 721.55,235.3 716.45,235.3 726.7,245.9 736.95,235.3 731.85,235.3 731.85,216.8 736.95,216.8" fill="#5B9BD5" stroke="#41719C" stroke-width="0.8" stroke-linejoin="round"/>
<polygon points="443.7,272.2 455.9,261.2 455.9,266.5 466.55,266.5 466.55,261.2 478.75,272.2 466.55,283.2 466.55,277.9 455.9,277.9 455.9,283.2" fill="#5B9BD5" stroke="#41719C" stroke-width="0.8" stroke-linejoin="round"/>
<polygon points="408.25,299.2 398,309.8 403.1,309.8 403.1,328.3 398,328.3 408.25,338.9 418.5,328.3 413.4,328.3 413.4,309.8 418.5,309.8" fill="#5B9BD5" stroke="#41719C" stroke-width="0.8" stroke-linejoin="round"/>
<polygon points="549.85,272.2 562.05,261.2 562.05,266.5 572.7,266.5 572.7,261.2 584.9,272.2 572.7,283.2 572.7,277.9 562.05,277.9 562.05,283.2" fill="#5B9BD5" stroke="#41719C" stroke-width="0.8" stroke-linejoin="round"/>
<polygon points="514.4,299.2 504.15,309.8 509.25,309.8 509.25,328.3 504.15,328.3 514.4,338.9 524.65,328.3 519.55,328.3 519.55,309.8 524.65,309.8" fill="#5B9BD5" stroke="#41719C" stroke-width="0.8" stroke-linejoin="round"/>
<polygon points="656,272.2 668.2,261.2 668.2,266.5 678.85,266.5 678.85,261.2 691.05,272.2 678.85,283.2 678.85,277.9 668.2,277.9 668.2,283.2" fill="#5B9BD5" stroke="#41719C" stroke-width="0.8" stroke-linejoin="round"/>
<polygon points="620.55,299.2 610.3,309.8 615.4,309.8 615.4,328.3 610.3,328.3 620.55,338.9 630.8,328.3 625.7,328.3 625.7,309.8 630.8,309.8" fill="#5B9BD5" stroke="#41719C" stroke-width="0.8" stroke-linejoin="round"/>
<polygon points="726.7,299.2 716.45,309.8 721.55,309.8 721.55,328.3 716.45,328.3 726.7,338.9 736.95,328.3 731.85,328.3 731.85,309.8 736.95,309.8" fill="#5B9BD5" stroke="#41719C" stroke-width="0.8" stroke-linejoin="round"/>
<polygon points="443.7,365.2 455.9,354.2 455.9,359.5 466.55,359.5 466.55,354.2 478.75,365.2 466.55,376.2 466.55,370.9 455.9,370.9 455.9,376.2" fill="#5B9BD5" stroke="#41719C" stroke-width="0.8" stroke-linejoin="round"/>
<polygon points="549.85,365.2 562.05,354.2 562.05,359.5 572.7,359.5 572.7,354.2 584.9,365.2 572.7,376.2 572.7,370.9 562.05,370.9 562.05,376.2" fill="#5B9BD5" stroke="#41719C" stroke-width="0.8" stroke-linejoin="round"/>
<polygon points="656,365.2 668.2,354.2 668.2,359.5 678.85,359.5 678.85,354.2 691.05,365.2 678.85,376.2 678.85,370.9 668.2,370.9 668.2,376.2" fill="#5B9BD5" stroke="#41719C" stroke-width="0.8" stroke-linejoin="round"/>
<polygon points="432.8,27.18 431.25,27.48 429.72,27.9 428.21,28.42 426.73,29.06 425.28,29.79 423.88,30.63 422.52,31.56 421.2,32.59 419.95,33.72 418.75,34.93 417.61,36.22 416.54,37.6 415.54,39.04 414.62,40.56 413.77,42.14 413,43.77 412.32,45.46 411.73,47.2 411.22,48.97 410.8,50.77 410.47,52.61 410.24,54.46 410.1,56.33 410.05,58.2 403.05,58.2 403.12,55.98 403.31,53.77 403.64,51.58 404.1,49.43 404.69,47.32 405.4,45.26 406.23,43.27 407.17,41.36 408.23,39.53 409.4,37.79 410.66,36.16 412.02,34.64 413.47,33.24 414.99,31.96 416.59,30.81 418.25,29.81 419.97,28.94 421.73,28.23 423.54,27.66 425.37,27.25 427.22,27 429.08,26.9 430.95,26.96 432.8,27.18" fill="#4A7FB8" stroke="#41719C" stroke-width="0.6" stroke-linejoin="round"/><polygon points="459.05,58.2 450.18,50.2 454.68,50.2 454.27,48.56 453.79,46.95 453.24,45.37 452.62,43.82 451.92,42.33 451.16,40.88 450.34,39.48 449.45,38.13 448.5,36.85 447.49,35.63 446.43,34.48 445.31,33.4 444.15,32.39 442.95,31.46 441.7,30.61 440.42,29.85 439.1,29.17 437.76,28.57 436.39,28.06 435,27.65 433.59,27.32 432.17,27.09 430.73,26.95 429.3,26.9 436.3,26.9 437.73,26.95 439.17,27.09 440.59,27.32 442,27.65 443.39,28.06 444.76,28.57 446.1,29.17 447.42,29.85 448.7,30.61 449.95,31.46 451.15,32.39 452.31,33.4 453.43,34.48 454.49,35.63 455.5,36.85 456.45,38.13 457.34,39.48 458.16,40.88 458.92,42.33 459.62,43.82 460.24,45.37 460.79,46.95 461.27,48.56 461.68,50.2 466.18,50.2" fill="#5B9BD5" stroke="#41719C" stroke-width="0.6" stroke-linejoin="round"/>
<polygon points="432.8,422.72 431.25,422.42 429.72,422 428.21,421.48 426.73,420.84 425.28,420.11 423.88,419.27 422.52,418.34 421.2,417.31 419.95,416.18 418.75,414.97 417.61,413.68 416.54,412.3 415.54,410.86 414.62,409.34 413.77,407.76 413,406.13 412.32,404.44 411.73,402.7 411.22,400.93 410.8,399.13 410.47,397.29 410.24,395.44 410.1,393.57 410.05,391.7 403.05,391.7 403.12,393.92 403.31,396.13 403.64,398.32 404.1,400.47 404.69,402.58 405.4,404.64 406.23,406.63 407.17,408.54 408.23,410.37 409.4,412.11 410.66,413.74 412.02,415.26 413.47,416.66 414.99,417.94 416.59,419.09 418.25,420.09 419.97,420.96 421.73,421.67 423.54,422.24 425.37,422.65 427.22,422.9 429.08,423 430.95,422.94 432.8,422.72" fill="#4A7FB8" stroke="#41719C" stroke-width="0.6" stroke-linejoin="round"/><polygon points="459.05,391.7 450.18,399.7 454.68,399.7 454.27,401.34 453.79,402.95 453.24,404.53 452.62,406.08 451.92,407.57 451.16,409.02 450.34,410.42 449.45,411.77 448.5,413.05 447.49,414.27 446.43,415.42 445.31,416.5 444.15,417.51 442.95,418.44 441.7,419.29 440.42,420.05 439.1,420.73 437.76,421.33 436.39,421.84 435,422.25 433.59,422.58 432.17,422.81 430.73,422.95 429.3,423 436.3,423 437.73,422.95 439.17,422.81 440.59,422.58 442,422.25 443.39,421.84 444.76,421.33 446.1,420.73 447.42,420.05 448.7,419.29 449.95,418.44 451.15,417.51 452.31,416.5 453.43,415.42 454.49,414.27 455.5,413.05 456.45,411.77 457.34,410.42 458.16,409.02 458.92,407.57 459.62,406.08 460.24,404.53 460.79,402.95 461.27,401.34 461.68,399.7 466.18,399.7" fill="#5B9BD5" stroke="#41719C" stroke-width="0.6" stroke-linejoin="round"/>
<polygon points="538.95,27.18 537.4,27.48 535.87,27.9 534.36,28.42 532.88,29.06 531.43,29.79 530.03,30.63 528.67,31.56 527.35,32.59 526.1,33.72 524.9,34.93 523.76,36.22 522.69,37.6 521.69,39.04 520.77,40.56 519.92,42.14 519.15,43.77 518.47,45.46 517.88,47.2 517.37,48.97 516.95,50.77 516.62,52.61 516.39,54.46 516.25,56.33 516.2,58.2 509.2,58.2 509.27,55.98 509.46,53.77 509.79,51.58 510.25,49.43 510.84,47.32 511.55,45.26 512.38,43.27 513.32,41.36 514.38,39.53 515.55,37.79 516.81,36.16 518.17,34.64 519.62,33.24 521.14,31.96 522.74,30.81 524.4,29.81 526.12,28.94 527.88,28.23 529.69,27.66 531.52,27.25 533.37,27 535.23,26.9 537.1,26.96 538.95,27.18" fill="#4A7FB8" stroke="#41719C" stroke-width="0.6" stroke-linejoin="round"/><polygon points="565.2,58.2 556.33,50.2 560.83,50.2 560.42,48.56 559.94,46.95 559.39,45.37 558.77,43.82 558.07,42.33 557.31,40.88 556.49,39.48 555.6,38.13 554.65,36.85 553.64,35.63 552.58,34.48 551.46,33.4 550.3,32.39 549.1,31.46 547.85,30.61 546.57,29.85 545.25,29.17 543.91,28.57 542.54,28.06 541.15,27.65 539.74,27.32 538.32,27.09 536.88,26.95 535.45,26.9 542.45,26.9 543.88,26.95 545.32,27.09 546.74,27.32 548.15,27.65 549.54,28.06 550.91,28.57 552.25,29.17 553.57,29.85 554.85,30.61 556.1,31.46 557.3,32.39 558.46,33.4 559.58,34.48 560.64,35.63 561.65,36.85 562.6,38.13 563.49,39.48 564.31,40.88 565.07,42.33 565.77,43.82 566.39,45.37 566.94,46.95 567.42,48.56 567.83,50.2 572.33,50.2" fill="#5B9BD5" stroke="#41719C" stroke-width="0.6" stroke-linejoin="round"/>
<polygon points="538.95,422.72 537.4,422.42 535.87,422 534.36,421.48 532.88,420.84 531.43,420.11 530.03,419.27 528.67,418.34 527.35,417.31 526.1,416.18 524.9,414.97 523.76,413.68 522.69,412.3 521.69,410.86 520.77,409.34 519.92,407.76 519.15,406.13 518.47,404.44 517.88,402.7 517.37,400.93 516.95,399.13 516.62,397.29 516.39,395.44 516.25,393.57 516.2,391.7 509.2,391.7 509.27,393.92 509.46,396.13 509.79,398.32 510.25,400.47 510.84,402.58 511.55,404.64 512.38,406.63 513.32,408.54 514.38,410.37 515.55,412.11 516.81,413.74 518.17,415.26 519.62,416.66 521.14,417.94 522.74,419.09 524.4,420.09 526.12,420.96 527.88,421.67 529.69,422.24 531.52,422.65 533.37,422.9 535.23,423 537.1,422.94 538.95,422.72" fill="#4A7FB8" stroke="#41719C" stroke-width="0.6" stroke-linejoin="round"/><polygon points="565.2,391.7 556.33,399.7 560.83,399.7 560.42,401.34 559.94,402.95 559.39,404.53 558.77,406.08 558.07,407.57 557.31,409.02 556.49,410.42 555.6,411.77 554.65,413.05 553.64,414.27 552.58,415.42 551.46,416.5 550.3,417.51 549.1,418.44 547.85,419.29 546.57,420.05 545.25,420.73 543.91,421.33 542.54,421.84 541.15,422.25 539.74,422.58 538.32,422.81 536.88,422.95 535.45,423 542.45,423 543.88,422.95 545.32,422.81 546.74,422.58 548.15,422.25 549.54,421.84 550.91,421.33 552.25,420.73 553.57,420.05 554.85,419.29 556.1,418.44 557.3,417.51 558.46,416.5 559.58,415.42 560.64,414.27 561.65,413.05 562.6,411.77 563.49,410.42 564.31,409.02 565.07,407.57 565.77,406.08 566.39,404.53 566.94,402.95 567.42,401.34 567.83,399.7 572.33,399.7" fill="#5B9BD5" stroke="#41719C" stroke-width="0.6" stroke-linejoin="round"/>
<polygon points="645.1,27.18 643.55,27.48 642.02,27.9 640.51,28.42 639.03,29.06 637.58,29.79 636.18,30.63 634.82,31.56 633.5,32.59 632.25,33.72 631.05,34.93 629.91,36.22 628.84,37.6 627.84,39.04 626.92,40.56 626.07,42.14 625.3,43.77 624.62,45.46 624.03,47.2 623.52,48.97 623.1,50.77 622.77,52.61 622.54,54.46 622.4,56.33 622.35,58.2 615.35,58.2 615.42,55.98 615.61,53.77 615.94,51.58 616.4,49.43 616.99,47.32 617.7,45.26 618.53,43.27 619.47,41.36 620.53,39.53 621.7,37.79 622.96,36.16 624.32,34.64 625.77,33.24 627.29,31.96 628.89,30.81 630.55,29.81 632.27,28.94 634.03,28.23 635.84,27.66 637.67,27.25 639.52,27 641.38,26.9 643.25,26.96 645.1,27.18" fill="#4A7FB8" stroke="#41719C" stroke-width="0.6" stroke-linejoin="round"/><polygon points="671.35,58.2 662.48,50.2 666.98,50.2 666.57,48.56 666.09,46.95 665.54,45.37 664.92,43.82 664.22,42.33 663.46,40.88 662.64,39.48 661.75,38.13 660.8,36.85 659.79,35.63 658.73,34.48 657.61,33.4 656.45,32.39 655.25,31.46 654,30.61 652.72,29.85 651.4,29.17 650.06,28.57 648.69,28.06 647.3,27.65 645.89,27.32 644.47,27.09 643.03,26.95 641.6,26.9 648.6,26.9 650.03,26.95 651.47,27.09 652.89,27.32 654.3,27.65 655.69,28.06 657.06,28.57 658.4,29.17 659.72,29.85 661,30.61 662.25,31.46 663.45,32.39 664.61,33.4 665.73,34.48 666.79,35.63 667.8,36.85 668.75,38.13 669.64,39.48 670.46,40.88 671.22,42.33 671.92,43.82 672.54,45.37 673.09,46.95 673.57,48.56 673.98,50.2 678.48,50.2" fill="#5B9BD5" stroke="#41719C" stroke-width="0.6" stroke-linejoin="round"/>
<polygon points="645.1,422.72 643.55,422.42 642.02,422 640.51,421.48 639.03,420.84 637.58,420.11 636.18,419.27 634.82,418.34 633.5,417.31 632.25,416.18 631.05,414.97 629.91,413.68 628.84,412.3 627.84,410.86 626.92,409.34 626.07,407.76 625.3,406.13 624.62,404.44 624.03,402.7 623.52,400.93 623.1,399.13 622.77,397.29 622.54,395.44 622.4,393.57 622.35,391.7 615.35,391.7 615.42,393.92 615.61,396.13 615.94,398.32 616.4,400.47 616.99,402.58 617.7,404.64 618.53,406.63 619.47,408.54 620.53,410.37 621.7,412.11 622.96,413.74 624.32,415.26 625.77,416.66 627.29,417.94 628.89,419.09 630.55,420.09 632.27,420.96 634.03,421.67 635.84,422.24 637.67,422.65 639.52,422.9 641.38,423 643.25,422.94 645.1,422.72" fill="#4A7FB8" stroke="#41719C" stroke-width="0.6" stroke-linejoin="round"/><polygon points="671.35,391.7 662.48,399.7 666.98,399.7 666.57,401.34 666.09,402.95 665.54,404.53 664.92,406.08 664.22,407.57 663.46,409.02 662.64,410.42 661.75,411.77 660.8,413.05 659.79,414.27 658.73,415.42 657.61,416.5 656.45,417.51 655.25,418.44 654,419.29 652.72,420.05 651.4,420.73 650.06,421.33 648.69,421.84 647.3,422.25 645.89,422.58 644.47,422.81 643.03,422.95 641.6,423 648.6,423 650.03,422.95 651.47,422.81 652.89,422.58 654.3,422.25 655.69,421.84 657.06,421.33 658.4,420.73 659.72,420.05 661,419.29 662.25,418.44 663.45,417.51 664.61,416.5 665.73,415.42 666.79,414.27 667.8,413.05 668.75,411.77 669.64,410.42 670.46,409.02 671.22,407.57 671.92,406.08 672.54,404.53 673.09,402.95 673.57,401.34 673.98,399.7 678.48,399.7" fill="#5B9BD5" stroke="#41719C" stroke-width="0.6" stroke-linejoin="round"/>
<polygon points="751.25,27.18 749.7,27.48 748.17,27.9 746.66,28.42 745.18,29.06 743.73,29.79 742.33,30.63 740.97,31.56 739.65,32.59 738.4,33.72 737.2,34.93 736.06,36.22 734.99,37.6 733.99,39.04 733.07,40.56 732.22,42.14 731.45,43.77 730.77,45.46 730.18,47.2 729.67,48.97 729.25,50.77 728.92,52.61 728.69,54.46 728.55,56.33 728.5,58.2 721.5,58.2 721.57,55.98 721.76,53.77 722.09,51.58 722.55,49.43 723.14,47.32 723.85,45.26 724.68,43.27 725.62,41.36 726.68,39.53 727.85,37.79 729.11,36.16 730.47,34.64 731.92,33.24 733.44,31.96 735.04,30.81 736.7,29.81 738.42,28.94 740.18,28.23 741.99,27.66 743.82,27.25 745.67,27 747.53,26.9 749.4,26.96 751.25,27.18" fill="#4A7FB8" stroke="#41719C" stroke-width="0.6" stroke-linejoin="round"/><polygon points="777.5,58.2 768.63,50.2 773.13,50.2 772.72,48.56 772.24,46.95 771.69,45.37 771.07,43.82 770.37,42.33 769.61,40.88 768.79,39.48 767.9,38.13 766.95,36.85 765.94,35.63 764.88,34.48 763.76,33.4 762.6,32.39 761.4,31.46 760.15,30.61 758.87,29.85 757.55,29.17 756.21,28.57 754.84,28.06 753.45,27.65 752.04,27.32 750.62,27.09 749.18,26.95 747.75,26.9 754.75,26.9 756.18,26.95 757.62,27.09 759.04,27.32 760.45,27.65 761.84,28.06 763.21,28.57 764.55,29.17 765.87,29.85 767.15,30.61 768.4,31.46 769.6,32.39 770.76,33.4 771.88,34.48 772.94,35.63 773.95,36.85 774.9,38.13 775.79,39.48 776.61,40.88 777.37,42.33 778.07,43.82 778.69,45.37 779.24,46.95 779.72,48.56 780.13,50.2 784.63,50.2" fill="#5B9BD5" stroke="#41719C" stroke-width="0.6" stroke-linejoin="round"/>
<polygon points="751.25,422.72 749.7,422.42 748.17,422 746.66,421.48 745.18,420.84 743.73,420.11 742.33,419.27 740.97,418.34 739.65,417.31 738.4,416.18 737.2,414.97 736.06,413.68 734.99,412.3 733.99,410.86 733.07,409.34 732.22,407.76 731.45,406.13 730.77,404.44 730.18,402.7 729.67,400.93 729.25,399.13 728.92,397.29 728.69,395.44 728.55,393.57 728.5,391.7 721.5,391.7 721.57,393.92 721.76,396.13 722.09,398.32 722.55,400.47 723.14,402.58 723.85,404.64 724.68,406.63 725.62,408.54 726.68,410.37 727.85,412.11 729.11,413.74 730.47,415.26 731.92,416.66 733.44,417.94 735.04,419.09 736.7,420.09 738.42,420.96 740.18,421.67 741.99,422.24 743.82,422.65 745.67,422.9 747.53,423 749.4,422.94 751.25,422.72" fill="#4A7FB8" stroke="#41719C" stroke-width="0.6" stroke-linejoin="round"/><polygon points="777.5,391.7 768.63,399.7 773.13,399.7 772.72,401.34 772.24,402.95 771.69,404.53 771.07,406.08 770.37,407.57 769.61,409.02 768.79,410.42 767.9,411.77 766.95,413.05 765.94,414.27 764.88,415.42 763.76,416.5 762.6,417.51 761.4,418.44 760.15,419.29 758.87,420.05 757.55,420.73 756.21,421.33 754.84,421.84 753.45,422.25 752.04,422.58 750.62,422.81 749.18,422.95 747.75,423 754.75,423 756.18,422.95 757.62,422.81 759.04,422.58 760.45,422.25 761.84,421.84 763.21,421.33 764.55,420.73 765.87,420.05 767.15,419.29 768.4,418.44 769.6,417.51 770.76,416.5 771.88,415.42 772.94,414.27 773.95,413.05 774.9,411.77 775.79,410.42 776.61,409.02 777.37,407.57 778.07,406.08 778.69,404.53 779.24,402.95 779.72,401.34 780.13,399.7 784.63,399.7" fill="#5B9BD5" stroke="#41719C" stroke-width="0.6" stroke-linejoin="round"/>
<polygon points="342.46,107.7 342.8,106.36 343.24,105.04 343.79,103.75 344.44,102.47 345.19,101.23 346.04,100.03 346.99,98.86 348.02,97.73 349.15,96.66 350.36,95.63 351.65,94.66 353.02,93.74 354.46,92.89 355.96,92.1 357.53,91.38 359.15,90.72 360.82,90.14 362.53,89.63 364.29,89.2 366.07,88.84 367.88,88.56 369.71,88.36 371.55,88.24 373.4,88.2 373.4,81.2 371.15,81.26 368.92,81.44 366.71,81.73 364.53,82.14 362.4,82.67 360.33,83.3 358.32,84.05 356.39,84.89 354.55,85.84 352.8,86.88 351.17,88.01 349.64,89.23 348.24,90.52 346.97,91.88 345.84,93.3 344.84,94.78 344,96.31 343.3,97.89 342.76,99.49 342.38,101.12 342.16,102.76 342.1,104.41 342.2,106.06 342.46,107.7" fill="#4A7FB8" stroke="#41719C" stroke-width="0.6" stroke-linejoin="round"/><polygon points="373.4,130.7 365.4,121.94 365.4,126.44 363.76,126.08 362.15,125.66 360.57,125.18 359.02,124.63 357.53,124.02 356.08,123.36 354.68,122.63 353.33,121.85 352.05,121.02 350.83,120.14 349.68,119.21 348.6,118.23 347.59,117.22 346.66,116.16 345.81,115.07 345.05,113.94 344.37,112.79 343.77,111.61 343.26,110.41 342.85,109.19 342.52,107.96 342.29,106.71 342.15,105.46 342.1,104.2 342.1,111.2 342.15,112.46 342.29,113.71 342.52,114.96 342.85,116.19 343.26,117.41 343.77,118.61 344.37,119.79 345.05,120.94 345.81,122.07 346.66,123.16 347.59,124.22 348.6,125.23 349.68,126.21 350.83,127.14 352.05,128.02 353.33,128.85 354.68,129.63 356.08,130.36 357.53,131.02 359.02,131.63 360.57,132.18 362.15,132.66 363.76,133.08 365.4,133.44 365.4,137.94" fill="#5B9BD5" stroke="#41719C" stroke-width="0.6" stroke-linejoin="round"/>
<polygon points="792.99,108.2 792.65,106.86 792.21,105.54 791.66,104.25 791.01,102.97 790.26,101.73 789.41,100.53 788.46,99.36 787.43,98.23 786.3,97.16 785.09,96.13 783.8,95.16 782.43,94.24 780.99,93.39 779.49,92.6 777.92,91.88 776.3,91.22 774.63,90.64 772.92,90.13 771.16,89.7 769.38,89.34 767.57,89.06 765.74,88.86 763.9,88.74 762.05,88.7 762.05,81.7 764.3,81.76 766.53,81.94 768.74,82.23 770.92,82.64 773.05,83.17 775.12,83.8 777.13,84.55 779.06,85.39 780.9,86.34 782.65,87.38 784.28,88.51 785.81,89.73 787.21,91.02 788.48,92.38 789.61,93.8 790.61,95.28 791.45,96.81 792.15,98.39 792.69,99.99 793.07,101.62 793.29,103.26 793.35,104.91 793.25,106.56 792.99,108.2" fill="#4A7FB8" stroke="#41719C" stroke-width="0.6" stroke-linejoin="round"/><polygon points="762.05,131.2 770.05,122.44 770.05,126.94 771.69,126.58 773.3,126.16 774.88,125.68 776.43,125.13 777.92,124.52 779.37,123.86 780.77,123.13 782.12,122.35 783.4,121.52 784.62,120.64 785.77,119.71 786.85,118.73 787.86,117.72 788.79,116.66 789.64,115.57 790.4,114.44 791.08,113.29 791.68,112.11 792.19,110.91 792.6,109.69 792.93,108.46 793.16,107.21 793.3,105.96 793.35,104.7 793.35,111.7 793.3,112.96 793.16,114.21 792.93,115.46 792.6,116.69 792.19,117.91 791.68,119.11 791.08,120.29 790.4,121.44 789.64,122.57 788.79,123.66 787.86,124.72 786.85,125.73 785.77,126.71 784.62,127.64 783.4,128.52 782.12,129.35 780.77,130.13 779.37,130.86 777.92,131.52 776.43,132.13 774.88,132.68 773.3,133.16 771.69,133.58 770.05,133.94 770.05,138.44" fill="#5B9BD5" stroke="#41719C" stroke-width="0.6" stroke-linejoin="round"/>
<polygon points="342.46,200.7 342.8,199.36 343.24,198.04 343.79,196.75 344.44,195.47 345.19,194.23 346.04,193.03 346.99,191.86 348.02,190.73 349.15,189.66 350.36,188.63 351.65,187.66 353.02,186.74 354.46,185.89 355.96,185.1 357.53,184.38 359.15,183.72 360.82,183.14 362.53,182.63 364.29,182.2 366.07,181.84 367.88,181.56 369.71,181.36 371.55,181.24 373.4,181.2 373.4,174.2 371.15,174.26 368.92,174.44 366.71,174.73 364.53,175.14 362.4,175.67 360.33,176.3 358.32,177.05 356.39,177.89 354.55,178.84 352.8,179.88 351.17,181.01 349.64,182.23 348.24,183.52 346.97,184.88 345.84,186.3 344.84,187.78 344,189.31 343.3,190.89 342.76,192.49 342.38,194.12 342.16,195.76 342.1,197.41 342.2,199.06 342.46,200.7" fill="#4A7FB8" stroke="#41719C" stroke-width="0.6" stroke-linejoin="round"/><polygon points="373.4,223.7 365.4,214.94 365.4,219.44 363.76,219.08 362.15,218.66 360.57,218.18 359.02,217.63 357.53,217.02 356.08,216.36 354.68,215.63 353.33,214.85 352.05,214.02 350.83,213.14 349.68,212.21 348.6,211.23 347.59,210.22 346.66,209.16 345.81,208.07 345.05,206.94 344.37,205.79 343.77,204.61 343.26,203.41 342.85,202.19 342.52,200.96 342.29,199.71 342.15,198.46 342.1,197.2 342.1,204.2 342.15,205.46 342.29,206.71 342.52,207.96 342.85,209.19 343.26,210.41 343.77,211.61 344.37,212.79 345.05,213.94 345.81,215.07 346.66,216.16 347.59,217.22 348.6,218.23 349.68,219.21 350.83,220.14 352.05,221.02 353.33,221.85 354.68,222.63 356.08,223.36 357.53,224.02 359.02,224.63 360.57,225.18 362.15,225.66 363.76,226.08 365.4,226.44 365.4,230.94" fill="#5B9BD5" stroke="#41719C" stroke-width="0.6" stroke-linejoin="round"/>
<polygon points="792.99,201.2 792.65,199.86 792.21,198.54 791.66,197.25 791.01,195.97 790.26,194.73 789.41,193.53 788.46,192.36 787.43,191.23 786.3,190.16 785.09,189.13 783.8,188.16 782.43,187.24 780.99,186.39 779.49,185.6 777.92,184.88 776.3,184.22 774.63,183.64 772.92,183.13 771.16,182.7 769.38,182.34 767.57,182.06 765.74,181.86 763.9,181.74 762.05,181.7 762.05,174.7 764.3,174.76 766.53,174.94 768.74,175.23 770.92,175.64 773.05,176.17 775.12,176.8 777.13,177.55 779.06,178.39 780.9,179.34 782.65,180.38 784.28,181.51 785.81,182.73 787.21,184.02 788.48,185.38 789.61,186.8 790.61,188.28 791.45,189.81 792.15,191.39 792.69,192.99 793.07,194.62 793.29,196.26 793.35,197.91 793.25,199.56 792.99,201.2" fill="#4A7FB8" stroke="#41719C" stroke-width="0.6" stroke-linejoin="round"/><polygon points="762.05,224.2 770.05,215.44 770.05,219.94 771.69,219.58 773.3,219.16 774.88,218.68 776.43,218.13 777.92,217.52 779.37,216.86 780.77,216.13 782.12,215.35 783.4,214.52 784.62,213.64 785.77,212.71 786.85,211.73 787.86,210.72 788.79,209.66 789.64,208.57 790.4,207.44 791.08,206.29 791.68,205.11 792.19,203.91 792.6,202.69 792.93,201.46 793.16,200.21 793.3,198.96 793.35,197.7 793.35,204.7 793.3,205.96 793.16,207.21 792.93,208.46 792.6,209.69 792.19,210.91 791.68,212.11 791.08,213.29 790.4,214.44 789.64,215.57 788.79,216.66 787.86,217.72 786.85,218.73 785.77,219.71 784.62,220.64 783.4,221.52 782.12,222.35 780.77,223.13 779.37,223.86 777.92,224.52 776.43,225.13 774.88,225.68 773.3,226.16 771.69,226.58 770.05,226.94 770.05,231.44" fill="#5B9BD5" stroke="#41719C" stroke-width="0.6" stroke-linejoin="round"/>
<polygon points="342.46,293.7 342.8,292.36 343.24,291.04 343.79,289.75 344.44,288.47 345.19,287.23 346.04,286.03 346.99,284.86 348.02,283.73 349.15,282.66 350.36,281.63 351.65,280.66 353.02,279.74 354.46,278.89 355.96,278.1 357.53,277.38 359.15,276.72 360.82,276.14 362.53,275.63 364.29,275.2 366.07,274.84 367.88,274.56 369.71,274.36 371.55,274.24 373.4,274.2 373.4,267.2 371.15,267.26 368.92,267.44 366.71,267.73 364.53,268.14 362.4,268.67 360.33,269.3 358.32,270.05 356.39,270.89 354.55,271.84 352.8,272.88 351.17,274.01 349.64,275.23 348.24,276.52 346.97,277.88 345.84,279.3 344.84,280.78 344,282.31 343.3,283.89 342.76,285.49 342.38,287.12 342.16,288.76 342.1,290.41 342.2,292.06 342.46,293.7" fill="#4A7FB8" stroke="#41719C" stroke-width="0.6" stroke-linejoin="round"/><polygon points="373.4,316.7 365.4,307.94 365.4,312.44 363.76,312.08 362.15,311.66 360.57,311.18 359.02,310.63 357.53,310.02 356.08,309.36 354.68,308.63 353.33,307.85 352.05,307.02 350.83,306.14 349.68,305.21 348.6,304.23 347.59,303.22 346.66,302.16 345.81,301.07 345.05,299.94 344.37,298.79 343.77,297.61 343.26,296.41 342.85,295.19 342.52,293.96 342.29,292.71 342.15,291.46 342.1,290.2 342.1,297.2 342.15,298.46 342.29,299.71 342.52,300.96 342.85,302.19 343.26,303.41 343.77,304.61 344.37,305.79 345.05,306.94 345.81,308.07 346.66,309.16 347.59,310.22 348.6,311.23 349.68,312.21 350.83,313.14 352.05,314.02 353.33,314.85 354.68,315.63 356.08,316.36 357.53,317.02 359.02,317.63 360.57,318.18 362.15,318.66 363.76,319.08 365.4,319.44 365.4,323.94" fill="#5B9BD5" stroke="#41719C" stroke-width="0.6" stroke-linejoin="round"/>
<polygon points="792.99,294.2 792.65,292.86 792.21,291.54 791.66,290.25 791.01,288.97 790.26,287.73 789.41,286.53 788.46,285.36 787.43,284.23 786.3,283.16 785.09,282.13 783.8,281.16 782.43,280.24 780.99,279.39 779.49,278.6 777.92,277.88 776.3,277.22 774.63,276.64 772.92,276.13 771.16,275.7 769.38,275.34 767.57,275.06 765.74,274.86 763.9,274.74 762.05,274.7 762.05,267.7 764.3,267.76 766.53,267.94 768.74,268.23 770.92,268.64 773.05,269.17 775.12,269.8 777.13,270.55 779.06,271.39 780.9,272.34 782.65,273.38 784.28,274.51 785.81,275.73 787.21,277.02 788.48,278.38 789.61,279.8 790.61,281.28 791.45,282.81 792.15,284.39 792.69,285.99 793.07,287.62 793.29,289.26 793.35,290.91 793.25,292.56 792.99,294.2" fill="#4A7FB8" stroke="#41719C" stroke-width="0.6" stroke-linejoin="round"/><polygon points="762.05,317.2 770.05,308.44 770.05,312.94 771.69,312.58 773.3,312.16 774.88,311.68 776.43,311.13 777.92,310.52 779.37,309.86 780.77,309.13 782.12,308.35 783.4,307.52 784.62,306.64 785.77,305.71 786.85,304.73 787.86,303.72 788.79,302.66 789.64,301.57 790.4,300.44 791.08,299.29 791.68,298.11 792.19,296.91 792.6,295.69 792.93,294.46 793.16,293.21 793.3,291.96 793.35,290.7 793.35,297.7 793.3,298.96 793.16,300.21 792.93,301.46 792.6,302.69 792.19,303.91 791.68,305.11 791.08,306.29 790.4,307.44 789.64,308.57 788.79,309.66 787.86,310.72 786.85,311.73 785.77,312.71 784.62,313.64 783.4,314.52 782.12,315.35 780.77,316.13 779.37,316.86 777.92,317.52 776.43,318.13 774.88,318.68 773.3,319.16 771.69,319.58 770.05,319.94 770.05,324.44" fill="#5B9BD5" stroke="#41719C" stroke-width="0.6" stroke-linejoin="round"/>
<polygon points="342.46,386.7 342.8,385.36 343.24,384.04 343.79,382.75 344.44,381.47 345.19,380.23 346.04,379.03 346.99,377.86 348.02,376.73 349.15,375.66 350.36,374.63 351.65,373.66 353.02,372.74 354.46,371.89 355.96,371.1 357.53,370.38 359.15,369.72 360.82,369.14 362.53,368.63 364.29,368.2 366.07,367.84 367.88,367.56 369.71,367.36 371.55,367.24 373.4,367.2 373.4,360.2 371.15,360.26 368.92,360.44 366.71,360.73 364.53,361.14 362.4,361.67 360.33,362.3 358.32,363.05 356.39,363.89 354.55,364.84 352.8,365.88 351.17,367.01 349.64,368.23 348.24,369.52 346.97,370.88 345.84,372.3 344.84,373.78 344,375.31 343.3,376.89 342.76,378.49 342.38,380.12 342.16,381.76 342.1,383.41 342.2,385.06 342.46,386.7" fill="#4A7FB8" stroke="#41719C" stroke-width="0.6" stroke-linejoin="round"/><polygon points="373.4,409.7 365.4,400.94 365.4,405.44 363.76,405.08 362.15,404.66 360.57,404.18 359.02,403.63 357.53,403.02 356.08,402.36 354.68,401.63 353.33,400.85 352.05,400.02 350.83,399.14 349.68,398.21 348.6,397.23 347.59,396.22 346.66,395.16 345.81,394.07 345.05,392.94 344.37,391.79 343.77,390.61 343.26,389.41 342.85,388.19 342.52,386.96 342.29,385.71 342.15,384.46 342.1,383.2 342.1,390.2 342.15,391.46 342.29,392.71 342.52,393.96 342.85,395.19 343.26,396.41 343.77,397.61 344.37,398.79 345.05,399.94 345.81,401.07 346.66,402.16 347.59,403.22 348.6,404.23 349.68,405.21 350.83,406.14 352.05,407.02 353.33,407.85 354.68,408.63 356.08,409.36 357.53,410.02 359.02,410.63 360.57,411.18 362.15,411.66 363.76,412.08 365.4,412.44 365.4,416.94" fill="#5B9BD5" stroke="#41719C" stroke-width="0.6" stroke-linejoin="round"/>
<polygon points="792.99,387.2 792.65,385.86 792.21,384.54 791.66,383.25 791.01,381.97 790.26,380.73 789.41,379.53 788.46,378.36 787.43,377.23 786.3,376.16 785.09,375.13 783.8,374.16 782.43,373.24 780.99,372.39 779.49,371.6 777.92,370.88 776.3,370.22 774.63,369.64 772.92,369.13 771.16,368.7 769.38,368.34 767.57,368.06 765.74,367.86 763.9,367.74 762.05,367.7 762.05,360.7 764.3,360.76 766.53,360.94 768.74,361.23 770.92,361.64 773.05,362.17 775.12,362.8 777.13,363.55 779.06,364.39 780.9,365.34 782.65,366.38 784.28,367.51 785.81,368.73 787.21,370.02 788.48,371.38 789.61,372.8 790.61,374.28 791.45,375.81 792.15,377.39 792.69,378.99 793.07,380.62 793.29,382.26 793.35,383.91 793.25,385.56 792.99,387.2" fill="#4A7FB8" stroke="#41719C" stroke-width="0.6" stroke-linejoin="round"/><polygon points="762.05,410.2 770.05,401.44 770.05,405.94 771.69,405.58 773.3,405.16 774.88,404.68 776.43,404.13 777.92,403.52 779.37,402.86 780.77,402.13 782.12,401.35 783.4,400.52 784.62,399.64 785.77,398.71 786.85,397.73 787.86,396.72 788.79,395.66 789.64,394.57 790.4,393.44 791.08,392.29 791.68,391.11 792.19,389.91 792.6,388.69 792.93,387.46 793.16,386.21 793.3,384.96 793.35,383.7 793.35,390.7 793.3,391.96 793.16,393.21 792.93,394.46 792.6,395.69 792.19,396.91 791.68,398.11 791.08,399.29 790.4,400.44 789.64,401.57 788.79,402.66 787.86,403.72 786.85,404.73 785.77,405.71 784.62,406.64 783.4,407.52 782.12,408.35 780.77,409.13 779.37,409.86 777.92,410.52 776.43,411.13 774.88,411.68 773.3,412.16 771.69,412.58 770.05,412.94 770.05,417.44" fill="#5B9BD5" stroke="#41719C" stroke-width="0.6" stroke-linejoin="round"/></g>
<g><rect x="281.2" y="74.45" width="63.1" height="330.8" fill="#548235" stroke="#000" stroke-width="2.6"/>
<text x="297.9" y="149.15" font-size="18.5" fill="#fff" text-anchor="middle" stroke="#fff" stroke-width="0.35">C</text><text x="297.9" y="177.6" font-size="18.5" fill="#fff" text-anchor="middle" stroke="#fff" stroke-width="0.35">o</text><text x="297.9" y="206.05" font-size="18.5" fill="#fff" text-anchor="middle" stroke="#fff" stroke-width="0.35">-</text><text x="297.9" y="234.5" font-size="18.5" fill="#fff" text-anchor="middle" stroke="#fff" stroke-width="0.35">m</text><text x="297.9" y="262.95" font-size="18.5" fill="#fff" text-anchor="middle" stroke="#fff" stroke-width="0.35">o</text><text x="297.9" y="291.4" font-size="18.5" fill="#fff" text-anchor="middle" stroke="#fff" stroke-width="0.35">d</text><text x="297.9" y="319.85" font-size="18.5" fill="#fff" text-anchor="middle" stroke="#fff" stroke-width="0.35">e</text><text x="297.9" y="348.3" font-size="18.5" fill="#fff" text-anchor="middle" stroke="#fff" stroke-width="0.35">l</text>
<text x="326.9" y="163.45" font-size="18.5" fill="#fff" text-anchor="middle" stroke="#fff" stroke-width="0.35">A</text><text x="326.9" y="191.9" font-size="18.5" fill="#fff" text-anchor="middle" stroke="#fff" stroke-width="0.35">d</text><text x="326.9" y="220.35" font-size="18.5" fill="#fff" text-anchor="middle" stroke="#fff" stroke-width="0.35">a</text><text x="326.9" y="248.8" font-size="18.5" fill="#fff" text-anchor="middle" stroke="#fff" stroke-width="0.35">p</text><text x="326.9" y="277.25" font-size="18.5" fill="#fff" text-anchor="middle" stroke="#fff" stroke-width="0.35">t</text><text x="326.9" y="305.7" font-size="18.5" fill="#fff" text-anchor="middle" stroke="#fff" stroke-width="0.35">e</text><text x="326.9" y="334.15" font-size="18.5" fill="#fff" text-anchor="middle" stroke="#fff" stroke-width="0.35">r</text>
<rect x="817.3" y="74.45" width="63.3" height="330.8" fill="#7030A0" stroke="#000" stroke-width="2.6"/>
<text x="834.3" y="135.05" font-size="18.5" fill="#fff" text-anchor="middle" stroke="#fff" stroke-width="0.35">B</text><text x="834.3" y="163.5" font-size="18.5" fill="#fff" text-anchor="middle" stroke="#fff" stroke-width="0.35">a</text><text x="834.3" y="191.95" font-size="18.5" fill="#fff" text-anchor="middle" stroke="#fff" stroke-width="0.35">c</text><text x="834.3" y="220.4" font-size="18.5" fill="#fff" text-anchor="middle" stroke="#fff" stroke-width="0.35">k</text><text x="834.3" y="248.85" font-size="18.5" fill="#fff" text-anchor="middle" stroke="#fff" stroke-width="0.35">p</text><text x="834.3" y="277.3" font-size="18.5" fill="#fff" text-anchor="middle" stroke="#fff" stroke-width="0.35">l</text><text x="834.3" y="305.75" font-size="18.5" fill="#fff" text-anchor="middle" stroke="#fff" stroke-width="0.35">a</text><text x="834.3" y="334.2" font-size="18.5" fill="#fff" text-anchor="middle" stroke="#fff" stroke-width="0.35">n</text><text x="834.3" y="362.65" font-size="18.5" fill="#fff" text-anchor="middle" stroke="#fff" stroke-width="0.35">e</text>
<text x="862.4" y="163.45" font-size="18.5" fill="#fff" text-anchor="middle" stroke="#fff" stroke-width="0.35">A</text><text x="862.4" y="191.9" font-size="18.5" fill="#fff" text-anchor="middle" stroke="#fff" stroke-width="0.35">d</text><text x="862.4" y="220.35" font-size="18.5" fill="#fff" text-anchor="middle" stroke="#fff" stroke-width="0.35">a</text><text x="862.4" y="248.8" font-size="18.5" fill="#fff" text-anchor="middle" stroke="#fff" stroke-width="0.35">p</text><text x="862.4" y="277.25" font-size="18.5" fill="#fff" text-anchor="middle" stroke="#fff" stroke-width="0.35">t</text><text x="862.4" y="305.7" font-size="18.5" fill="#fff" text-anchor="middle" stroke="#fff" stroke-width="0.35">e</text><text x="862.4" y="334.15" font-size="18.5" fill="#fff" text-anchor="middle" stroke="#fff" stroke-width="0.35">r</text>
<polygon points="346.2,84.55 353.7,77.55 353.7,81.05 378.6,81.05 378.6,77.55 386.1,84.55 378.6,91.55 378.6,88.05 353.7,88.05 353.7,91.55" fill="#70AD47" stroke="#507E32" stroke-width="0.7" stroke-linejoin="round"/>
<polygon points="775.05,84.55 782.55,77.8 782.55,81.3 808.2,81.3 808.2,77.8 815.7,84.55 808.2,91.3 808.2,87.8 782.55,87.8 782.55,91.3" fill="#7030A0" stroke="#B0A0A8" stroke-width="0.9" stroke-linejoin="round"/>
<polygon points="346.2,177.55 353.7,170.55 353.7,174.05 378.6,174.05 378.6,170.55 386.1,177.55 378.6,184.55 378.6,181.05 353.7,181.05 353.7,184.55" fill="#70AD47" stroke="#507E32" stroke-width="0.7" stroke-linejoin="round"/>
<polygon points="775.05,177.55 782.55,170.8 782.55,174.3 808.2,174.3 808.2,170.8 815.7,177.55 808.2,184.3 808.2,180.8 782.55,180.8 782.55,184.3" fill="#7030A0" stroke="#B0A0A8" stroke-width="0.9" stroke-linejoin="round"/>
<polygon points="346.2,270.55 353.7,263.55 353.7,267.05 378.6,267.05 378.6,263.55 386.1,270.55 378.6,277.55 378.6,274.05 353.7,274.05 353.7,277.55" fill="#70AD47" stroke="#507E32" stroke-width="0.7" stroke-linejoin="round"/>
<polygon points="775.05,270.55 782.55,263.8 782.55,267.3 808.2,267.3 808.2,263.8 815.7,270.55 808.2,277.3 808.2,273.8 782.55,273.8 782.55,277.3" fill="#7030A0" stroke="#B0A0A8" stroke-width="0.9" stroke-linejoin="round"/>
<polygon points="346.2,363.55 353.7,356.55 353.7,360.05 378.6,360.05 378.6,356.55 386.1,363.55 378.6,370.55 378.6,367.05 353.7,367.05 353.7,370.55" fill="#70AD47" stroke="#507E32" stroke-width="0.7" stroke-linejoin="round"/>
<polygon points="775.05,363.55 782.55,356.8 782.55,360.3 808.2,360.3 808.2,356.8 815.7,363.55 808.2,370.3 808.2,366.8 782.55,366.8 782.55,370.3" fill="#7030A0" stroke="#B0A0A8" stroke-width="0.9" stroke-linejoin="round"/>
<rect x="389" y="74.45" width="65.1" height="50.4" fill="#ED7D31" stroke="#000" stroke-width="2.6"/>
<text x="421.55" y="106.85" font-size="20" fill="#fff" text-anchor="middle" stroke="#fff" stroke-width="0.25">1</text>
<rect x="495.15" y="74.45" width="65.1" height="50.4" fill="#ED7D31" stroke="#000" stroke-width="2.6"/>
<text x="527.7" y="106.85" font-size="20" fill="#fff" text-anchor="middle" stroke="#fff" stroke-width="0.25">2</text>
<rect x="601.3" y="74.45" width="65.1" height="50.4" fill="#ED7D31" stroke="#000" stroke-width="2.6"/>
<circle cx="628.05" cy="105.55" r="1.5" fill="#fff6ea"/>
<circle cx="633.65" cy="105.55" r="1.5" fill="#fff6ea"/>
<circle cx="639.25" cy="105.55" r="1.5" fill="#fff6ea"/>
<rect x="707.45" y="74.45" width="65.1" height="50.4" fill="#ED7D31" stroke="#000" stroke-width="2.6"/>
<text x="740" y="106.85" font-size="20" fill="#fff" text-anchor="middle" stroke="#fff" stroke-width="0.25">n</text>
<rect x="389" y="167.45" width="65.1" height="50.4" fill="#ED7D31" stroke="#000" stroke-width="2.6"/>
<text x="421.55" y="199.85" font-size="20" fill="#fff" text-anchor="middle" stroke="#fff" stroke-width="0.25">n+1</text>
<rect x="495.15" y="167.45" width="65.1" height="50.4" fill="#ED7D31" stroke="#000" stroke-width="2.6"/>
<text x="527.7" y="199.85" font-size="20" fill="#fff" text-anchor="middle" stroke="#fff" stroke-width="0.25">n+2</text>
<rect x="601.3" y="167.45" width="65.1" height="50.4" fill="#ED7D31" stroke="#000" stroke-width="2.6"/>
<circle cx="628.05" cy="198.55" r="1.5" fill="#fff6ea"/>
<circle cx="633.65" cy="198.55" r="1.5" fill="#fff6ea"/>
<circle cx="639.25" cy="198.55" r="1.5" fill="#fff6ea"/>
<rect x="707.45" y="167.45" width="65.1" height="50.4" fill="#ED7D31" stroke="#000" stroke-width="2.6"/>
<text x="740.6" y="199.85" font-size="20.8" fill="#fff" text-anchor="middle" letter-spacing="1.2" stroke="#fff" stroke-width="0.25">2*n</text>
<rect x="389" y="260.45" width="65.1" height="50.4" fill="#ED7D31" stroke="#000" stroke-width="2.6"/>
<circle cx="415.75" cy="291.55" r="1.5" fill="#fff6ea"/>
<circle cx="421.35" cy="291.55" r="1.5" fill="#fff6ea"/>
<circle cx="426.95" cy="291.55" r="1.5" fill="#fff6ea"/>
<rect x="495.15" y="260.45" width="65.1" height="50.4" fill="#ED7D31" stroke="#000" stroke-width="2.6"/>
<circle cx="521.9" cy="291.55" r="1.5" fill="#fff6ea"/>
<circle cx="527.5" cy="291.55" r="1.5" fill="#fff6ea"/>
<circle cx="533.1" cy="291.55" r="1.5" fill="#fff6ea"/>
<rect x="601.3" y="260.45" width="65.1" height="50.4" fill="#ED7D31" stroke="#000" stroke-width="2.6"/>
<circle cx="628.05" cy="291.55" r="1.5" fill="#fff6ea"/>
<circle cx="633.65" cy="291.55" r="1.5" fill="#fff6ea"/>
<circle cx="639.25" cy="291.55" r="1.5" fill="#fff6ea"/>
<rect x="707.45" y="260.45" width="65.1" height="50.4" fill="#ED7D31" stroke="#000" stroke-width="2.6"/>
<circle cx="734.2" cy="291.55" r="1.5" fill="#fff6ea"/>
<circle cx="739.8" cy="291.55" r="1.5" fill="#fff6ea"/>
<circle cx="745.4" cy="291.55" r="1.5" fill="#fff6ea"/>
<rect x="389" y="353.45" width="65.1" height="50.4" fill="#ED7D31" stroke="#000" stroke-width="2.6"/>
<text x="422.05" y="374.05" font-size="20.5" fill="#fff" text-anchor="middle" letter-spacing="0.8" stroke="#fff" stroke-width="0.25">m*n-</text>
<text x="421.55" y="397.25" font-size="20" fill="#fff" text-anchor="middle" stroke="#fff" stroke-width="0.25">(n-1)</text>
<rect x="495.15" y="353.45" width="65.1" height="50.4" fill="#ED7D31" stroke="#000" stroke-width="2.6"/>
<text x="528.2" y="374.05" font-size="20.5" fill="#fff" text-anchor="middle" letter-spacing="0.8" stroke="#fff" stroke-width="0.25">m*n-</text>
<text x="527.7" y="397.25" font-size="20" fill="#fff" text-anchor="middle" stroke="#fff" stroke-width="0.25">(n-2)</text>
<rect x="601.3" y="353.45" width="65.1" height="50.4" fill="#ED7D31" stroke="#000" stroke-width="2.6"/>
<circle cx="628.05" cy="384.55" r="1.5" fill="#fff6ea"/>
<circle cx="633.65" cy="384.55" r="1.5" fill="#fff6ea"/>
<circle cx="639.25" cy="384.55" r="1.5" fill="#fff6ea"/>
<rect x="707.45" y="353.45" width="65.1" height="50.4" fill="#ED7D31" stroke="#000" stroke-width="2.6"/>
<text x="740.6" y="385.85" font-size="20.8" fill="#fff" text-anchor="middle" letter-spacing="1.2" stroke="#fff" stroke-width="0.25">m*n</text>
<polygon points="457,99.65 469.2,88.65 469.2,93.95 479.85,93.95 479.85,88.65 492.05,99.65 479.85,110.65 479.85,105.35 469.2,105.35 469.2,110.65" fill="#5B9BD5" stroke="#41719C" stroke-width="0.8" stroke-linejoin="round"/>
<polygon points="421.55,126.65 411.3,137.25 416.4,137.25 416.4,155.75 411.3,155.75 421.55,166.35 431.8,155.75 426.7,155.75 426.7,137.25 431.8,137.25" fill="#5B9BD5" stroke="#41719C" stroke-width="0.8" stroke-linejoin="round"/>
<polygon points="563.15,99.65 575.35,88.65 575.35,93.95 586,93.95 586,88.65 598.2,99.65 586,110.65 586,105.35 575.35,105.35 575.35,110.65" fill="#5B9BD5" stroke="#41719C" stroke-width="0.8" stroke-linejoin="round"/>
<polygon points="527.7,126.65 517.45,137.25 522.55,137.25 522.55,155.75 517.45,155.75 527.7,166.35 537.95,155.75 532.85,155.75 532.85,137.25 537.95,137.25" fill="#5B9BD5" stroke="#41719C" stroke-width="0.8" stroke-linejoin="round"/>
<polygon points="669.3,99.65 681.5,88.65 681.5,93.95 692.15,93.95 692.15,88.65 704.35,99.65 692.15,110.65 692.15,105.35 681.5,105.35 681.5,110.65" fill="#5B9BD5" stroke="#41719C" stroke-width="0.8" stroke-linejoin="round"/>
<polygon points="633.85,126.65 623.6,137.25 628.7,137.25 628.7,155.75 623.6,155.75 633.85,166.35 644.1,155.75 639,155.75 639,137.25 644.1,137.25" fill="#5B9BD5" stroke="#41719C" stroke-width="0.8" stroke-linejoin="round"/>
<polygon points="740,126.65 729.75,137.25 734.85,137.25 734.85,155.75 729.75,155.75 740,166.35 750.25,155.75 745.15,155.75 745.15,137.25 750.25,137.25" fill="#5B9BD5" stroke="#41719C" stroke-width="0.8" stroke-linejoin="round"/>
<polygon points="457,192.65 469.2,181.65 469.2,186.95 479.85,186.95 479.85,181.65 492.05,192.65 479.85,203.65 479.85,198.35 469.2,198.35 469.2,203.65" fill="#5B9BD5" stroke="#41719C" stroke-width="0.8" stroke-linejoin="round"/>
<polygon points="421.55,219.65 411.3,230.25 416.4,230.25 416.4,248.75 411.3,248.75 421.55,259.35 431.8,248.75 426.7,248.75 426.7,230.25 431.8,230.25" fill="#5B9BD5" stroke="#41719C" stroke-width="0.8" stroke-linejoin="round"/>
<polygon points="563.15,192.65 575.35,181.65 575.35,186.95 586,186.95 586,181.65 598.2,192.65 586,203.65 586,198.35 575.35,198.35 575.35,203.65" fill="#5B9BD5" stroke="#41719C" stroke-width="0.8" stroke-linejoin="round"/>
<polygon points="527.7,219.65 517.45,230.25 522.55,230.25 522.55,248.75 517.45,248.75 527.7,259.35 537.95,248.75 532.85,248.75 532.85,230.25 537.95,230.25" fill="#5B9BD5" stroke="#41719C" stroke-width="0.8" stroke-linejoin="round"/>
<polygon points="669.3,192.65 681.5,181.65 681.5,186.95 692.15,186.95 692.15,181.65 704.35,192.65 692.15,203.65 692.15,198.35 681.5,198.35 681.5,203.65" fill="#5B9BD5" stroke="#41719C" stroke-width="0.8" stroke-linejoin="round"/>
<polygon points="633.85,219.65 623.6,230.25 628.7,230.25 628.7,248.75 623.6,248.75 633.85,259.35 644.1,248.75 639,248.75 639,230.25 644.1,230.25" fill="#5B9BD5" stroke="#41719C" stroke-width="0.8" stroke-linejoin="round"/>
<polygon points="740,219.65 729.75,230.25 734.85,230.25 734.85,248.75 729.75,248.75 740,259.35 750.25,248.75 745.15,248.75 745.15,230.25 750.25,230.25" fill="#5B9BD5" stroke="#41719C" stroke-width="0.8" stroke-linejoin="round"/>
<polygon points="457,285.65 469.2,274.65 469.2,279.95 479.85,279.95 479.85,274.65 492.05,285.65 479.85,296.65 479.85,291.35 469.2,291.35 469.2,296.65" fill="#5B9BD5" stroke="#41719C" stroke-width="0.8" stroke-linejoin="round"/>
<polygon points="421.55,312.65 411.3,323.25 416.4,323.25 416.4,341.75 411.3,341.75 421.55,352.35 431.8,341.75 426.7,341.75 426.7,323.25 431.8,323.25" fill="#5B9BD5" stroke="#41719C" stroke-width="0.8" stroke-linejoin="round"/>
<polygon points="563.15,285.65 575.35,274.65 575.35,279.95 586,279.95 586,274.65 598.2,285.65 586,296.65 586,291.35 575.35,291.35 575.35,296.65" fill="#5B9BD5" stroke="#41719C" stroke-width="0.8" stroke-linejoin="round"/>
<polygon points="527.7,312.65 517.45,323.25 522.55,323.25 522.55,341.75 517.45,341.75 527.7,352.35 537.95,341.75 532.85,341.75 532.85,323.25 537.95,323.25" fill="#5B9BD5" stroke="#41719C" stroke-width="0.8" stroke-linejoin="round"/>
<polygon points="669.3,285.65 681.5,274.65 681.5,279.95 692.15,279.95 692.15,274.65 704.35,285.65 692.15,296.65 692.15,291.35 681.5,291.35 681.5,296.65" fill="#5B9BD5" stroke="#41719C" stroke-width="0.8" stroke-linejoin="round"/>
<polygon points="633.85,312.65 623.6,323.25 628.7,323.25 628.7,341.75 623.6,341.75 633.85,352.35 644.1,341.75 639,341.75 639,323.25 644.1,323.25" fill="#5B9BD5" stroke="#41719C" stroke-width="0.8" stroke-linejoin="round"/>
<polygon points="740,312.65 729.75,323.25 734.85,323.25 734.85,341.75 729.75,341.75 740,352.35 750.25,341.75 745.15,341.75 745.15,323.25 750.25,323.25" fill="#5B9BD5" stroke="#41719C" stroke-width="0.8" stroke-linejoin="round"/>
<polygon points="457,378.65 469.2,367.65 469.2,372.95 479.85,372.95 479.85,367.65 492.05,378.65 479.85,389.65 479.85,384.35 469.2,384.35 469.2,389.65" fill="#5B9BD5" stroke="#41719C" stroke-width="0.8" stroke-linejoin="round"/>
<polygon points="563.15,378.65 575.35,367.65 575.35,372.95 586,372.95 586,367.65 598.2,378.65 586,389.65 586,384.35 575.35,384.35 575.35,389.65" fill="#5B9BD5" stroke="#41719C" stroke-width="0.8" stroke-linejoin="round"/>
<polygon points="669.3,378.65 681.5,367.65 681.5,372.95 692.15,372.95 692.15,367.65 704.35,378.65 692.15,389.65 692.15,384.35 681.5,384.35 681.5,389.65" fill="#5B9BD5" stroke="#41719C" stroke-width="0.8" stroke-linejoin="round"/>
<polygon points="446.1,40.63 444.55,40.93 443.02,41.35 441.51,41.87 440.03,42.51 438.58,43.24 437.18,44.08 435.82,45.01 434.5,46.04 433.25,47.17 432.05,48.38 430.91,49.67 429.84,51.05 428.84,52.49 427.92,54.01 427.07,55.59 426.3,57.22 425.62,58.91 425.03,60.65 424.52,62.42 424.1,64.22 423.77,66.06 423.54,67.91 423.4,69.78 423.35,71.65 416.35,71.65 416.42,69.43 416.61,67.22 416.94,65.03 417.4,62.88 417.99,60.77 418.7,58.71 419.53,56.72 420.47,54.81 421.53,52.98 422.7,51.24 423.96,49.61 425.32,48.09 426.77,46.69 428.29,45.41 429.89,44.26 431.55,43.26 433.27,42.39 435.03,41.68 436.84,41.11 438.67,40.7 440.52,40.45 442.38,40.35 444.25,40.41 446.1,40.63" fill="#4A7FB8" stroke="#41719C" stroke-width="0.6" stroke-linejoin="round"/><polygon points="472.35,71.65 463.48,63.65 467.98,63.65 467.57,62.01 467.09,60.4 466.54,58.82 465.92,57.27 465.22,55.78 464.46,54.33 463.64,52.93 462.75,51.58 461.8,50.3 460.79,49.08 459.73,47.93 458.61,46.85 457.45,45.84 456.25,44.91 455,44.06 453.72,43.3 452.4,42.62 451.06,42.02 449.69,41.51 448.3,41.1 446.89,40.77 445.47,40.54 444.03,40.4 442.6,40.35 449.6,40.35 451.03,40.4 452.47,40.54 453.89,40.77 455.3,41.1 456.69,41.51 458.06,42.02 459.4,42.62 460.72,43.3 462,44.06 463.25,44.91 464.45,45.84 465.61,46.85 466.73,47.93 467.79,49.08 468.8,50.3 469.75,51.58 470.64,52.93 471.46,54.33 472.22,55.78 472.92,57.27 473.54,58.82 474.09,60.4 474.57,62.01 474.98,63.65 479.48,63.65" fill="#5B9BD5" stroke="#41719C" stroke-width="0.6" stroke-linejoin="round"/>
<polygon points="446.1,436.17 444.55,435.87 443.02,435.45 441.51,434.93 440.03,434.29 438.58,433.56 437.18,432.72 435.82,431.79 434.5,430.76 433.25,429.63 432.05,428.42 430.91,427.13 429.84,425.75 428.84,424.31 427.92,422.79 427.07,421.21 426.3,419.58 425.62,417.89 425.03,416.15 424.52,414.38 424.1,412.58 423.77,410.74 423.54,408.89 423.4,407.02 423.35,405.15 416.35,405.15 416.42,407.37 416.61,409.58 416.94,411.77 417.4,413.92 417.99,416.03 418.7,418.09 419.53,420.08 420.47,421.99 421.53,423.82 422.7,425.56 423.96,427.19 425.32,428.71 426.77,430.11 428.29,431.39 429.89,432.54 431.55,433.54 433.27,434.41 435.03,435.12 436.84,435.69 438.67,436.1 440.52,436.35 442.38,436.45 444.25,436.39 446.1,436.17" fill="#4A7FB8" stroke="#41719C" stroke-width="0.6" stroke-linejoin="round"/><polygon points="472.35,405.15 463.48,413.15 467.98,413.15 467.57,414.79 467.09,416.4 466.54,417.98 465.92,419.53 465.22,421.02 464.46,422.47 463.64,423.87 462.75,425.22 461.8,426.5 460.79,427.72 459.73,428.87 458.61,429.95 457.45,430.96 456.25,431.89 455,432.74 453.72,433.5 452.4,434.18 451.06,434.78 449.69,435.29 448.3,435.7 446.89,436.03 445.47,436.26 444.03,436.4 442.6,436.45 449.6,436.45 451.03,436.4 452.47,436.26 453.89,436.03 455.3,435.7 456.69,435.29 458.06,434.78 459.4,434.18 460.72,433.5 462,432.74 463.25,431.89 464.45,430.96 465.61,429.95 466.73,428.87 467.79,427.72 468.8,426.5 469.75,425.22 470.64,423.87 471.46,422.47 472.22,421.02 472.92,419.53 473.54,417.98 474.09,416.4 474.57,414.79 474.98,413.15 479.48,413.15" fill="#5B9BD5" stroke="#41719C" stroke-width="0.6" stroke-linejoin="round"/>
<polygon points="552.25,40.63 550.7,40.93 549.17,41.35 547.66,41.87 546.18,42.51 544.73,43.24 543.33,44.08 541.97,45.01 540.65,46.04 539.4,47.17 538.2,48.38 537.06,49.67 535.99,51.05 534.99,52.49 534.07,54.01 533.22,55.59 532.45,57.22 531.77,58.91 531.18,60.65 530.67,62.42 530.25,64.22 529.92,66.06 529.69,67.91 529.55,69.78 529.5,71.65 522.5,71.65 522.57,69.43 522.76,67.22 523.09,65.03 523.55,62.88 524.14,60.77 524.85,58.71 525.68,56.72 526.62,54.81 527.68,52.98 528.85,51.24 530.11,49.61 531.47,48.09 532.92,46.69 534.44,45.41 536.04,44.26 537.7,43.26 539.42,42.39 541.18,41.68 542.99,41.11 544.82,40.7 546.67,40.45 548.53,40.35 550.4,40.41 552.25,40.63" fill="#4A7FB8" stroke="#41719C" stroke-width="0.6" stroke-linejoin="round"/><polygon points="578.5,71.65 569.63,63.65 574.13,63.65 573.72,62.01 573.24,60.4 572.69,58.82 572.07,57.27 571.37,55.78 570.61,54.33 569.79,52.93 568.9,51.58 567.95,50.3 566.94,49.08 565.88,47.93 564.76,46.85 563.6,45.84 562.4,44.91 561.15,44.06 559.87,43.3 558.55,42.62 557.21,42.02 555.84,41.51 554.45,41.1 553.04,40.77 551.62,40.54 550.18,40.4 548.75,40.35 555.75,40.35 557.18,40.4 558.62,40.54 560.04,40.77 561.45,41.1 562.84,41.51 564.21,42.02 565.55,42.62 566.87,43.3 568.15,44.06 569.4,44.91 570.6,45.84 571.76,46.85 572.88,47.93 573.94,49.08 574.95,50.3 575.9,51.58 576.79,52.93 577.61,54.33 578.37,55.78 579.07,57.27 579.69,58.82 580.24,60.4 580.72,62.01 581.13,63.65 585.63,63.65" fill="#5B9BD5" stroke="#41719C" stroke-width="0.6" stroke-linejoin="round"/>
<polygon points="552.25,436.17 550.7,435.87 549.17,435.45 547.66,434.93 546.18,434.29 544.73,433.56 543.33,432.72 541.97,431.79 540.65,430.76 539.4,429.63 538.2,428.42 537.06,427.13 535.99,425.75 534.99,424.31 534.07,422.79 533.22,421.21 532.45,419.58 531.77,417.89 531.18,416.15 530.67,414.38 530.25,412.58 529.92,410.74 529.69,408.89 529.55,407.02 529.5,405.15 522.5,405.15 522.57,407.37 522.76,409.58 523.09,411.77 523.55,413.92 524.14,416.03 524.85,418.09 525.68,420.08 526.62,421.99 527.68,423.82 528.85,425.56 530.11,427.19 531.47,428.71 532.92,430.11 534.44,431.39 536.04,432.54 537.7,433.54 539.42,434.41 541.18,435.12 542.99,435.69 544.82,436.1 546.67,436.35 548.53,436.45 550.4,436.39 552.25,436.17" fill="#4A7FB8" stroke="#41719C" stroke-width="0.6" stroke-linejoin="round"/><polygon points="578.5,405.15 569.63,413.15 574.13,413.15 573.72,414.79 573.24,416.4 572.69,417.98 572.07,419.53 571.37,421.02 570.61,422.47 569.79,423.87 568.9,425.22 567.95,426.5 566.94,427.72 565.88,428.87 564.76,429.95 563.6,430.96 562.4,431.89 561.15,432.74 559.87,433.5 558.55,434.18 557.21,434.78 555.84,435.29 554.45,435.7 553.04,436.03 551.62,436.26 550.18,436.4 548.75,436.45 555.75,436.45 557.18,436.4 558.62,436.26 560.04,436.03 561.45,435.7 562.84,435.29 564.21,434.78 565.55,434.18 566.87,433.5 568.15,432.74 569.4,431.89 570.6,430.96 571.76,429.95 572.88,428.87 573.94,427.72 574.95,426.5 575.9,425.22 576.79,423.87 577.61,422.47 578.37,421.02 579.07,419.53 579.69,417.98 580.24,416.4 580.72,414.79 581.13,413.15 585.63,413.15" fill="#5B9BD5" stroke="#41719C" stroke-width="0.6" stroke-linejoin="round"/>
<polygon points="658.4,40.63 656.85,40.93 655.32,41.35 653.81,41.87 652.33,42.51 650.88,43.24 649.48,44.08 648.12,45.01 646.8,46.04 645.55,47.17 644.35,48.38 643.21,49.67 642.14,51.05 641.14,52.49 640.22,54.01 639.37,55.59 638.6,57.22 637.92,58.91 637.33,60.65 636.82,62.42 636.4,64.22 636.07,66.06 635.84,67.91 635.7,69.78 635.65,71.65 628.65,71.65 628.72,69.43 628.91,67.22 629.24,65.03 629.7,62.88 630.29,60.77 631,58.71 631.83,56.72 632.77,54.81 633.83,52.98 635,51.24 636.26,49.61 637.62,48.09 639.07,46.69 640.59,45.41 642.19,44.26 643.85,43.26 645.57,42.39 647.33,41.68 649.14,41.11 650.97,40.7 652.82,40.45 654.68,40.35 656.55,40.41 658.4,40.63" fill="#4A7FB8" stroke="#41719C" stroke-width="0.6" stroke-linejoin="round"/><polygon points="684.65,71.65 675.78,63.65 680.28,63.65 679.87,62.01 679.39,60.4 678.84,58.82 678.22,57.27 677.52,55.78 676.76,54.33 675.94,52.93 675.05,51.58 674.1,50.3 673.09,49.08 672.03,47.93 670.91,46.85 669.75,45.84 668.55,44.91 667.3,44.06 666.02,43.3 664.7,42.62 663.36,42.02 661.99,41.51 660.6,41.1 659.19,40.77 657.77,40.54 656.33,40.4 654.9,40.35 661.9,40.35 663.33,40.4 664.77,40.54 666.19,40.77 667.6,41.1 668.99,41.51 670.36,42.02 671.7,42.62 673.02,43.3 674.3,44.06 675.55,44.91 676.75,45.84 677.91,46.85 679.03,47.93 680.09,49.08 681.1,50.3 682.05,51.58 682.94,52.93 683.76,54.33 684.52,55.78 685.22,57.27 685.84,58.82 686.39,60.4 686.87,62.01 687.28,63.65 691.78,63.65" fill="#5B9BD5" stroke="#41719C" stroke-width="0.6" stroke-linejoin="round"/>
<polygon points="658.4,436.17 656.85,435.87 655.32,435.45 653.81,434.93 652.33,434.29 650.88,433.56 649.48,432.72 648.12,431.79 646.8,430.76 645.55,429.63 644.35,428.42 643.21,427.13 642.14,425.75 641.14,424.31 640.22,422.79 639.37,421.21 638.6,419.58 637.92,417.89 637.33,416.15 636.82,414.38 636.4,412.58 636.07,410.74 635.84,408.89 635.7,407.02 635.65,405.15 628.65,405.15 628.72,407.37 628.91,409.58 629.24,411.77 629.7,413.92 630.29,416.03 631,418.09 631.83,420.08 632.77,421.99 633.83,423.82 635,425.56 636.26,427.19 637.62,428.71 639.07,430.11 640.59,431.39 642.19,432.54 643.85,433.54 645.57,434.41 647.33,435.12 649.14,435.69 650.97,436.1 652.82,436.35 654.68,436.45 656.55,436.39 658.4,436.17" fill="#4A7FB8" stroke="#41719C" stroke-width="0.6" stroke-linejoin="round"/><polygon points="684.65,405.15 675.78,413.15 680.28,413.15 679.87,414.79 679.39,416.4 678.84,417.98 678.22,419.53 677.52,421.02 676.76,422.47 675.94,423.87 675.05,425.22 674.1,426.5 673.09,427.72 672.03,428.87 670.91,429.95 669.75,430.96 668.55,431.89 667.3,432.74 666.02,433.5 664.7,434.18 663.36,434.78 661.99,435.29 660.6,435.7 659.19,436.03 657.77,436.26 656.33,436.4 654.9,436.45 661.9,436.45 663.33,436.4 664.77,436.26 666.19,436.03 667.6,435.7 668.99,435.29 670.36,434.78 671.7,434.18 673.02,433.5 674.3,432.74 675.55,431.89 676.75,430.96 677.91,429.95 679.03,428.87 680.09,427.72 681.1,426.5 682.05,425.22 682.94,423.87 683.76,422.47 684.52,421.02 685.22,419.53 685.84,417.98 686.39,416.4 686.87,414.79 687.28,413.15 691.78,413.15" fill="#5B9BD5" stroke="#41719C" stroke-width="0.6" stroke-linejoin="round"/>
<polygon points="764.55,40.63 763,40.93 761.47,41.35 759.96,41.87 758.48,42.51 757.03,43.24 755.63,44.08 754.27,45.01 752.95,46.04 751.7,47.17 750.5,48.38 749.36,49.67 748.29,51.05 747.29,52.49 746.37,54.01 745.52,55.59 744.75,57.22 744.07,58.91 743.48,60.65 742.97,62.42 742.55,64.22 742.22,66.06 741.99,67.91 741.85,69.78 741.8,71.65 734.8,71.65 734.87,69.43 735.06,67.22 735.39,65.03 735.85,62.88 736.44,60.77 737.15,58.71 737.98,56.72 738.92,54.81 739.98,52.98 741.15,51.24 742.41,49.61 743.77,48.09 745.22,46.69 746.74,45.41 748.34,44.26 750,43.26 751.72,42.39 753.48,41.68 755.29,41.11 757.12,40.7 758.97,40.45 760.83,40.35 762.7,40.41 764.55,40.63" fill="#4A7FB8" stroke="#41719C" stroke-width="0.6" stroke-linejoin="round"/><polygon points="790.8,71.65 781.93,63.65 786.43,63.65 786.02,62.01 785.54,60.4 784.99,58.82 784.37,57.27 783.67,55.78 782.91,54.33 782.09,52.93 781.2,51.58 780.25,50.3 779.24,49.08 778.18,47.93 777.06,46.85 775.9,45.84 774.7,44.91 773.45,44.06 772.17,43.3 770.85,42.62 769.51,42.02 768.14,41.51 766.75,41.1 765.34,40.77 763.92,40.54 762.48,40.4 761.05,40.35 768.05,40.35 769.48,40.4 770.92,40.54 772.34,40.77 773.75,41.1 775.14,41.51 776.51,42.02 777.85,42.62 779.17,43.3 780.45,44.06 781.7,44.91 782.9,45.84 784.06,46.85 785.18,47.93 786.24,49.08 787.25,50.3 788.2,51.58 789.09,52.93 789.91,54.33 790.67,55.78 791.37,57.27 791.99,58.82 792.54,60.4 793.02,62.01 793.43,63.65 797.93,63.65" fill="#5B9BD5" stroke="#41719C" stroke-width="0.6" stroke-linejoin="round"/>
<polygon points="764.55,436.17 763,435.87 761.47,435.45 759.96,434.93 758.48,434.29 757.03,433.56 755.63,432.72 754.27,431.79 752.95,430.76 751.7,429.63 750.5,428.42 749.36,427.13 748.29,425.75 747.29,424.31 746.37,422.79 745.52,421.21 744.75,419.58 744.07,417.89 743.48,416.15 742.97,414.38 742.55,412.58 742.22,410.74 741.99,408.89 741.85,407.02 741.8,405.15 734.8,405.15 734.87,407.37 735.06,409.58 735.39,411.77 735.85,413.92 736.44,416.03 737.15,418.09 737.98,420.08 738.92,421.99 739.98,423.82 741.15,425.56 742.41,427.19 743.77,428.71 745.22,430.11 746.74,431.39 748.34,432.54 750,433.54 751.72,434.41 753.48,435.12 755.29,435.69 757.12,436.1 758.97,436.35 760.83,436.45 762.7,436.39 764.55,436.17" fill="#4A7FB8" stroke="#41719C" stroke-width="0.6" stroke-linejoin="round"/><polygon points="790.8,405.15 781.93,413.15 786.43,413.15 786.02,414.79 785.54,416.4 784.99,417.98 784.37,419.53 783.67,421.02 782.91,422.47 782.09,423.87 781.2,425.22 780.25,426.5 779.24,427.72 778.18,428.87 777.06,429.95 775.9,430.96 774.7,431.89 773.45,432.74 772.17,433.5 770.85,434.18 769.51,434.78 768.14,435.29 766.75,435.7 765.34,436.03 763.92,436.26 762.48,436.4 761.05,436.45 768.05,436.45 769.48,436.4 770.92,436.26 772.34,436.03 773.75,435.7 775.14,435.29 776.51,434.78 777.85,434.18 779.17,433.5 780.45,432.74 781.7,431.89 782.9,430.96 784.06,429.95 785.18,428.87 786.24,427.72 787.25,426.5 788.2,425.22 789.09,423.87 789.91,422.47 790.67,421.02 791.37,419.53 791.99,417.98 792.54,416.4 793.02,414.79 793.43,413.15 797.93,413.15" fill="#5B9BD5" stroke="#41719C" stroke-width="0.6" stroke-linejoin="round"/>
<polygon points="355.76,121.15 356.1,119.81 356.54,118.49 357.09,117.2 357.74,115.92 358.49,114.68 359.34,113.48 360.29,112.31 361.32,111.18 362.45,110.11 363.66,109.08 364.95,108.11 366.32,107.19 367.76,106.34 369.26,105.55 370.83,104.83 372.45,104.17 374.12,103.59 375.83,103.08 377.59,102.65 379.37,102.29 381.18,102.01 383.01,101.81 384.85,101.69 386.7,101.65 386.7,94.65 384.45,94.71 382.22,94.89 380.01,95.18 377.83,95.59 375.7,96.12 373.63,96.75 371.62,97.5 369.69,98.34 367.85,99.29 366.1,100.33 364.47,101.46 362.94,102.68 361.54,103.97 360.27,105.33 359.14,106.75 358.14,108.23 357.3,109.76 356.6,111.34 356.06,112.94 355.68,114.57 355.46,116.21 355.4,117.86 355.5,119.51 355.76,121.15" fill="#4A7FB8" stroke="#41719C" stroke-width="0.6" stroke-linejoin="round"/><polygon points="386.7,144.15 378.7,135.39 378.7,139.89 377.06,139.53 375.45,139.11 373.87,138.63 372.32,138.08 370.83,137.47 369.38,136.81 367.98,136.08 366.63,135.3 365.35,134.47 364.13,133.59 362.98,132.66 361.9,131.68 360.89,130.67 359.96,129.61 359.11,128.52 358.35,127.39 357.67,126.24 357.07,125.06 356.56,123.86 356.15,122.64 355.82,121.41 355.59,120.16 355.45,118.91 355.4,117.65 355.4,124.65 355.45,125.91 355.59,127.16 355.82,128.41 356.15,129.64 356.56,130.86 357.07,132.06 357.67,133.24 358.35,134.39 359.11,135.52 359.96,136.61 360.89,137.67 361.9,138.68 362.98,139.66 364.13,140.59 365.35,141.47 366.63,142.3 367.98,143.08 369.38,143.81 370.83,144.47 372.32,145.08 373.87,145.63 375.45,146.11 377.06,146.53 378.7,146.89 378.7,151.39" fill="#5B9BD5" stroke="#41719C" stroke-width="0.6" stroke-linejoin="round"/>
<polygon points="806.29,121.65 805.95,120.31 805.51,118.99 804.96,117.7 804.31,116.42 803.56,115.18 802.71,113.98 801.76,112.81 800.73,111.68 799.6,110.61 798.39,109.58 797.1,108.61 795.73,107.69 794.29,106.84 792.79,106.05 791.22,105.33 789.6,104.67 787.93,104.09 786.22,103.58 784.46,103.15 782.68,102.79 780.87,102.51 779.04,102.31 777.2,102.19 775.35,102.15 775.35,95.15 777.6,95.21 779.83,95.39 782.04,95.68 784.22,96.09 786.35,96.62 788.42,97.25 790.43,98 792.36,98.84 794.2,99.79 795.95,100.83 797.58,101.96 799.11,103.18 800.51,104.47 801.78,105.83 802.91,107.25 803.91,108.73 804.75,110.26 805.45,111.84 805.99,113.44 806.37,115.07 806.59,116.71 806.65,118.36 806.55,120.01 806.29,121.65" fill="#4A7FB8" stroke="#41719C" stroke-width="0.6" stroke-linejoin="round"/><polygon points="775.35,144.65 783.35,135.89 783.35,140.39 784.99,140.03 786.6,139.61 788.18,139.13 789.73,138.58 791.22,137.97 792.67,137.31 794.07,136.58 795.42,135.8 796.7,134.97 797.92,134.09 799.07,133.16 800.15,132.18 801.16,131.17 802.09,130.11 802.94,129.02 803.7,127.89 804.38,126.74 804.98,125.56 805.49,124.36 805.9,123.14 806.23,121.91 806.46,120.66 806.6,119.41 806.65,118.15 806.65,125.15 806.6,126.41 806.46,127.66 806.23,128.91 805.9,130.14 805.49,131.36 804.98,132.56 804.38,133.74 803.7,134.89 802.94,136.02 802.09,137.11 801.16,138.17 800.15,139.18 799.07,140.16 797.92,141.09 796.7,141.97 795.42,142.8 794.07,143.58 792.67,144.31 791.22,144.97 789.73,145.58 788.18,146.13 786.6,146.61 784.99,147.03 783.35,147.39 783.35,151.89" fill="#5B9BD5" stroke="#41719C" stroke-width="0.6" stroke-linejoin="round"/>
<polygon points="355.76,214.15 356.1,212.81 356.54,211.49 357.09,210.2 357.74,208.92 358.49,207.68 359.34,206.48 360.29,205.31 361.32,204.18 362.45,203.11 363.66,202.08 364.95,201.11 366.32,200.19 367.76,199.34 369.26,198.55 370.83,197.83 372.45,197.17 374.12,196.59 375.83,196.08 377.59,195.65 379.37,195.29 381.18,195.01 383.01,194.81 384.85,194.69 386.7,194.65 386.7,187.65 384.45,187.71 382.22,187.89 380.01,188.18 377.83,188.59 375.7,189.12 373.63,189.75 371.62,190.5 369.69,191.34 367.85,192.29 366.1,193.33 364.47,194.46 362.94,195.68 361.54,196.97 360.27,198.33 359.14,199.75 358.14,201.23 357.3,202.76 356.6,204.34 356.06,205.94 355.68,207.57 355.46,209.21 355.4,210.86 355.5,212.51 355.76,214.15" fill="#4A7FB8" stroke="#41719C" stroke-width="0.6" stroke-linejoin="round"/><polygon points="386.7,237.15 378.7,228.39 378.7,232.89 377.06,232.53 375.45,232.11 373.87,231.63 372.32,231.08 370.83,230.47 369.38,229.81 367.98,229.08 366.63,228.3 365.35,227.47 364.13,226.59 362.98,225.66 361.9,224.68 360.89,223.67 359.96,222.61 359.11,221.52 358.35,220.39 357.67,219.24 357.07,218.06 356.56,216.86 356.15,215.64 355.82,214.41 355.59,213.16 355.45,211.91 355.4,210.65 355.4,217.65 355.45,218.91 355.59,220.16 355.82,221.41 356.15,222.64 356.56,223.86 357.07,225.06 357.67,226.24 358.35,227.39 359.11,228.52 359.96,229.61 360.89,230.67 361.9,231.68 362.98,232.66 364.13,233.59 365.35,234.47 366.63,235.3 367.98,236.08 369.38,236.81 370.83,237.47 372.32,238.08 373.87,238.63 375.45,239.11 377.06,239.53 378.7,239.89 378.7,244.39" fill="#5B9BD5" stroke="#41719C" stroke-width="0.6" stroke-linejoin="round"/>
<polygon points="806.29,214.65 805.95,213.31 805.51,211.99 804.96,210.7 804.31,209.42 803.56,208.18 802.71,206.98 801.76,205.81 800.73,204.68 799.6,203.61 798.39,202.58 797.1,201.61 795.73,200.69 794.29,199.84 792.79,199.05 791.22,198.33 789.6,197.67 787.93,197.09 786.22,196.58 784.46,196.15 782.68,195.79 780.87,195.51 779.04,195.31 777.2,195.19 775.35,195.15 775.35,188.15 777.6,188.21 779.83,188.39 782.04,188.68 784.22,189.09 786.35,189.62 788.42,190.25 790.43,191 792.36,191.84 794.2,192.79 795.95,193.83 797.58,194.96 799.11,196.18 800.51,197.47 801.78,198.83 802.91,200.25 803.91,201.73 804.75,203.26 805.45,204.84 805.99,206.44 806.37,208.07 806.59,209.71 806.65,211.36 806.55,213.01 806.29,214.65" fill="#4A7FB8" stroke="#41719C" stroke-width="0.6" stroke-linejoin="round"/><polygon points="775.35,237.65 783.35,228.89 783.35,233.39 784.99,233.03 786.6,232.61 788.18,232.13 789.73,231.58 791.22,230.97 792.67,230.31 794.07,229.58 795.42,228.8 796.7,227.97 797.92,227.09 799.07,226.16 800.15,225.18 801.16,224.17 802.09,223.11 802.94,222.02 803.7,220.89 804.38,219.74 804.98,218.56 805.49,217.36 805.9,216.14 806.23,214.91 806.46,213.66 806.6,212.41 806.65,211.15 806.65,218.15 806.6,219.41 806.46,220.66 806.23,221.91 805.9,223.14 805.49,224.36 804.98,225.56 804.38,226.74 803.7,227.89 802.94,229.02 802.09,230.11 801.16,231.17 800.15,232.18 799.07,233.16 797.92,234.09 796.7,234.97 795.42,235.8 794.07,236.58 792.67,237.31 791.22,237.97 789.73,238.58 788.18,239.13 786.6,239.61 784.99,240.03 783.35,240.39 783.35,244.89" fill="#5B9BD5" stroke="#41719C" stroke-width="0.6" stroke-linejoin="round"/>
<polygon points="355.76,307.15 356.1,305.81 356.54,304.49 357.09,303.2 357.74,301.92 358.49,300.68 359.34,299.48 360.29,298.31 361.32,297.18 362.45,296.11 363.66,295.08 364.95,294.11 366.32,293.19 367.76,292.34 369.26,291.55 370.83,290.83 372.45,290.17 374.12,289.59 375.83,289.08 377.59,288.65 379.37,288.29 381.18,288.01 383.01,287.81 384.85,287.69 386.7,287.65 386.7,280.65 384.45,280.71 382.22,280.89 380.01,281.18 377.83,281.59 375.7,282.12 373.63,282.75 371.62,283.5 369.69,284.34 367.85,285.29 366.1,286.33 364.47,287.46 362.94,288.68 361.54,289.97 360.27,291.33 359.14,292.75 358.14,294.23 357.3,295.76 356.6,297.34 356.06,298.94 355.68,300.57 355.46,302.21 355.4,303.86 355.5,305.51 355.76,307.15" fill="#4A7FB8" stroke="#41719C" stroke-width="0.6" stroke-linejoin="round"/><polygon points="386.7,330.15 378.7,321.39 378.7,325.89 377.06,325.53 375.45,325.11 373.87,324.63 372.32,324.08 370.83,323.47 369.38,322.81 367.98,322.08 366.63,321.3 365.35,320.47 364.13,319.59 362.98,318.66 361.9,317.68 360.89,316.67 359.96,315.61 359.11,314.52 358.35,313.39 357.67,312.24 357.07,311.06 356.56,309.86 356.15,308.64 355.82,307.41 355.59,306.16 355.45,304.91 355.4,303.65 355.4,310.65 355.45,311.91 355.59,313.16 355.82,314.41 356.15,315.64 356.56,316.86 357.07,318.06 357.67,319.24 358.35,320.39 359.11,321.52 359.96,322.61 360.89,323.67 361.9,324.68 362.98,325.66 364.13,326.59 365.35,327.47 366.63,328.3 367.98,329.08 369.38,329.81 370.83,330.47 372.32,331.08 373.87,331.63 375.45,332.11 377.06,332.53 378.7,332.89 378.7,337.39" fill="#5B9BD5" stroke="#41719C" stroke-width="0.6" stroke-linejoin="round"/>
<polygon points="806.29,307.65 805.95,306.31 805.51,304.99 804.96,303.7 804.31,302.42 803.56,301.18 802.71,299.98 801.76,298.81 800.73,297.68 799.6,296.61 798.39,295.58 797.1,294.61 795.73,293.69 794.29,292.84 792.79,292.05 791.22,291.33 789.6,290.67 787.93,290.09 786.22,289.58 784.46,289.15 782.68,288.79 780.87,288.51 779.04,288.31 777.2,288.19 775.35,288.15 775.35,281.15 777.6,281.21 779.83,281.39 782.04,281.68 784.22,282.09 786.35,282.62 788.42,283.25 790.43,284 792.36,284.84 794.2,285.79 795.95,286.83 797.58,287.96 799.11,289.18 800.51,290.47 801.78,291.83 802.91,293.25 803.91,294.73 804.75,296.26 805.45,297.84 805.99,299.44 806.37,301.07 806.59,302.71 806.65,304.36 806.55,306.01 806.29,307.65" fill="#4A7FB8" stroke="#41719C" stroke-width="0.6" stroke-linejoin="round"/><polygon points="775.35,330.65 783.35,321.89 783.35,326.39 784.99,326.03 786.6,325.61 788.18,325.13 789.73,324.58 791.22,323.97 792.67,323.31 794.07,322.58 795.42,321.8 796.7,320.97 797.92,320.09 799.07,319.16 800.15,318.18 801.16,317.17 802.09,316.11 802.94,315.02 803.7,313.89 804.38,312.74 804.98,311.56 805.49,310.36 805.9,309.14 806.23,307.91 806.46,306.66 806.6,305.41 806.65,304.15 806.65,311.15 806.6,312.41 806.46,313.66 806.23,314.91 805.9,316.14 805.49,317.36 804.98,318.56 804.38,319.74 803.7,320.89 802.94,322.02 802.09,323.11 801.16,324.17 800.15,325.18 799.07,326.16 797.92,327.09 796.7,327.97 795.42,328.8 794.07,329.58 792.67,330.31 791.22,330.97 789.73,331.58 788.18,332.13 786.6,332.61 784.99,333.03 783.35,333.39 783.35,337.89" fill="#5B9BD5" stroke="#41719C" stroke-width="0.6" stroke-linejoin="round"/>
<polygon points="355.76,400.15 356.1,398.81 356.54,397.49 357.09,396.2 357.74,394.92 358.49,393.68 359.34,392.48 360.29,391.31 361.32,390.18 362.45,389.11 363.66,388.08 364.95,387.11 366.32,386.19 367.76,385.34 369.26,384.55 370.83,383.83 372.45,383.17 374.12,382.59 375.83,382.08 377.59,381.65 379.37,381.29 381.18,381.01 383.01,380.81 384.85,380.69 386.7,380.65 386.7,373.65 384.45,373.71 382.22,373.89 380.01,374.18 377.83,374.59 375.7,375.12 373.63,375.75 371.62,376.5 369.69,377.34 367.85,378.29 366.1,379.33 364.47,380.46 362.94,381.68 361.54,382.97 360.27,384.33 359.14,385.75 358.14,387.23 357.3,388.76 356.6,390.34 356.06,391.94 355.68,393.57 355.46,395.21 355.4,396.86 355.5,398.51 355.76,400.15" fill="#4A7FB8" stroke="#41719C" stroke-width="0.6" stroke-linejoin="round"/><polygon points="386.7,423.15 378.7,414.39 378.7,418.89 377.06,418.53 375.45,418.11 373.87,417.63 372.32,417.08 370.83,416.47 369.38,415.81 367.98,415.08 366.63,414.3 365.35,413.47 364.13,412.59 362.98,411.66 361.9,410.68 360.89,409.67 359.96,408.61 359.11,407.52 358.35,406.39 357.67,405.24 357.07,404.06 356.56,402.86 356.15,401.64 355.82,400.41 355.59,399.16 355.45,397.91 355.4,396.65 355.4,403.65 355.45,404.91 355.59,406.16 355.82,407.41 356.15,408.64 356.56,409.86 357.07,411.06 357.67,412.24 358.35,413.39 359.11,414.52 359.96,415.61 360.89,416.67 361.9,417.68 362.98,418.66 364.13,419.59 365.35,420.47 366.63,421.3 367.98,422.08 369.38,422.81 370.83,423.47 372.32,424.08 373.87,424.63 375.45,425.11 377.06,425.53 378.7,425.89 378.7,430.39" fill="#5B9BD5" stroke="#41719C" stroke-width="0.6" stroke-linejoin="round"/>
<polygon points="806.29,400.65 805.95,399.31 805.51,397.99 804.96,396.7 804.31,395.42 803.56,394.18 802.71,392.98 801.76,391.81 800.73,390.68 799.6,389.61 798.39,388.58 797.1,387.61 795.73,386.69 794.29,385.84 792.79,385.05 791.22,384.33 789.6,383.67 787.93,383.09 786.22,382.58 784.46,382.15 782.68,381.79 780.87,381.51 779.04,381.31 777.2,381.19 775.35,381.15 775.35,374.15 777.6,374.21 779.83,374.39 782.04,374.68 784.22,375.09 786.35,375.62 788.42,376.25 790.43,377 792.36,377.84 794.2,378.79 795.95,379.83 797.58,380.96 799.11,382.18 800.51,383.47 801.78,384.83 802.91,386.25 803.91,387.73 804.75,389.26 805.45,390.84 805.99,392.44 806.37,394.07 806.59,395.71 806.65,397.36 806.55,399.01 806.29,400.65" fill="#4A7FB8" stroke="#41719C" stroke-width="0.6" stroke-linejoin="round"/><polygon points="775.35,423.65 783.35,414.89 783.35,419.39 784.99,419.03 786.6,418.61 788.18,418.13 789.73,417.58 791.22,416.97 792.67,416.31 794.07,415.58 795.42,414.8 796.7,413.97 797.92,413.09 799.07,412.16 800.15,411.18 801.16,410.17 802.09,409.11 802.94,408.02 803.7,406.89 804.38,405.74 804.98,404.56 805.49,403.36 805.9,402.14 806.23,400.91 806.46,399.66 806.6,398.41 806.65,397.15 806.65,404.15 806.6,405.41 806.46,406.66 806.23,407.91 805.9,409.14 805.49,410.36 804.98,411.56 804.38,412.74 803.7,413.89 802.94,415.02 802.09,416.11 801.16,417.17 800.15,418.18 799.07,419.16 797.92,420.09 796.7,420.97 795.42,421.8 794.07,422.58 792.67,423.31 791.22,423.97 789.73,424.58 788.18,425.13 786.6,425.61 784.99,426.03 783.35,426.39 783.35,430.89" fill="#5B9BD5" stroke="#41719C" stroke-width="0.6" stroke-linejoin="round"/></g><g transform="translate(12.2,81)"><polygon points="33.5,0.5 124,0.5 146.5,14.6 8.8,14.6" fill="url(#topg)"/><polygon points="8.8,14.6 146.5,14.6 146.5,15.6 8.8,15.6" fill="#9a9a9a"/><rect x="8.6" y="15" width="138" height="16.6" fill="#2a2a2c"/><rect x="0" y="14.4" width="8.6" height="17.6" rx="1" fill="#dcdde1"/><rect x="1.0" y="17.5" width="4.2" height="5.8" fill="#3b9ad6"/><rect x="147" y="14.4" width="8.6" height="17.6" rx="1" fill="#dcdde1"/><circle cx="152.5" cy="20.8" r="1.7" fill="#8d8f94"/><rect x="11.2" y="17.4" width="23.6" height="5.6" fill="#55575a"/><rect x="12" y="18" width="2" height="4.4" fill="#c9c9c9"/><rect x="14.4" y="18.5" width="9.5" height="3.4" fill="#77797c"/><circle cx="25.8" cy="20.2" r="2.1" fill="#3f9a5a"/><rect x="29.8" y="17.9" width="3.4" height="4.6" fill="#d9626c"/><rect x="11.2" y="25.3" width="23.6" height="5.6" fill="#55575a"/><rect x="12" y="25.9" width="2" height="4.4" fill="#c9c9c9"/><rect x="14.4" y="26.4" width="9.5" height="3.4" fill="#77797c"/><circle cx="25.8" cy="28.1" r="2.1" fill="#3f9a5a"/><rect x="29.8" y="25.8" width="3.4" height="4.6" fill="#d9626c"/><rect x="36.85" y="17.4" width="23.6" height="5.6" fill="#55575a"/><rect x="37.65" y="18" width="2" height="4.4" fill="#c9c9c9"/><rect x="40.05" y="18.5" width="9.5" height="3.4" fill="#77797c"/><circle cx="51.45" cy="20.2" r="2.1" fill="#3f9a5a"/><rect x="55.45" y="17.9" width="3.4" height="4.6" fill="#d9626c"/><rect x="36.85" y="25.3" width="23.6" height="5.6" fill="#55575a"/><rect x="37.65" y="25.9" width="2" height="4.4" fill="#c9c9c9"/><rect x="40.05" y="26.4" width="9.5" height="3.4" fill="#77797c"/><circle cx="51.45" cy="28.1" r="2.1" fill="#3f9a5a"/><rect x="55.45" y="25.8" width="3.4" height="4.6" fill="#d9626c"/><rect x="62.5" y="17.4" width="23.6" height="5.6" fill="#55575a"/><rect x="63.3" y="18" width="2" height="4.4" fill="#c9c9c9"/><rect x="65.7" y="18.5" width="9.5" height="3.4" fill="#77797c"/><circle cx="77.1" cy="20.2" r="2.1" fill="#3f9a5a"/><rect x="81.1" y="17.9" width="3.4" height="4.6" fill="#d9626c"/><rect x="62.5" y="25.3" width="23.6" height="5.6" fill="#55575a"/><rect x="63.3" y="25.9" width="2" height="4.4" fill="#c9c9c9"/><rect x="65.7" y="26.4" width="9.5" height="3.4" fill="#77797c"/><circle cx="77.1" cy="28.1" r="2.1" fill="#3f9a5a"/><rect x="81.1" y="25.8" width="3.4" height="4.6" fill="#d9626c"/><rect x="88.15" y="17.4" width="23.6" height="5.6" fill="#55575a"/><rect x="88.95" y="18" width="2" height="4.4" fill="#c9c9c9"/><rect x="91.35" y="18.5" width="9.5" height="3.4" fill="#77797c"/><circle cx="102.75" cy="20.2" r="2.1" fill="#3f9a5a"/><rect x="106.75" y="17.9" width="3.4" height="4.6" fill="#d9626c"/><rect x="88.15" y="25.3" width="23.6" height="5.6" fill="#55575a"/><rect x="88.95" y="25.9" width="2" height="4.4" fill="#c9c9c9"/><rect x="91.35" y="26.4" width="9.5" height="3.4" fill="#77797c"/><circle cx="102.75" cy="28.1" r="2.1" fill="#3f9a5a"/><rect x="106.75" y="25.8" width="3.4" height="4.6" fill="#d9626c"/><rect x="113.8" y="17.4" width="23.6" height="5.6" fill="#55575a"/><rect x="114.6" y="18" width="2" height="4.4" fill="#c9c9c9"/><rect x="117" y="18.5" width="9.5" height="3.4" fill="#77797c"/><circle cx="128.4" cy="20.2" r="2.1" fill="#3f9a5a"/><rect x="132.4" y="17.9" width="3.4" height="4.6" fill="#d9626c"/><rect x="113.8" y="25.3" width="23.6" height="5.6" fill="#55575a"/><rect x="114.6" y="25.9" width="2" height="4.4" fill="#c9c9c9"/><rect x="117" y="26.4" width="9.5" height="3.4" fill="#77797c"/><circle cx="128.4" cy="28.1" r="2.1" fill="#3f9a5a"/><rect x="132.4" y="25.8" width="3.4" height="4.6" fill="#d9626c"/><rect x="139.6" y="16" width="6.4" height="15" fill="#1f2a2a"/><rect x="140.4" y="17" width="1.4" height="6" fill="#3f9a5a"/><rect x="140.6" y="25" width="2.6" height="4.6" fill="#3b9ad6"/></g>
<line x1="167.2" y1="105.8" x2="240.7" y2="105.8" stroke="#E8262A" stroke-width="1.3"/><circle cx="197" cy="94.2" r="11.3" fill="none" stroke="#E8262A" stroke-width="1.3"/><circle cx="206.6" cy="94.2" r="11.3" fill="none" stroke="#E8262A" stroke-width="1.3"/>
<g transform="translate(25.3,127)"><polygon points="33.5,0.5 124,0.5 146.5,14.6 8.8,14.6" fill="url(#topg)"/><polygon points="8.8,14.6 146.5,14.6 146.5,15.6 8.8,15.6" fill="#9a9a9a"/><rect x="8.6" y="15" width="138" height="16.6" fill="#2a2a2c"/><rect x="0" y="14.4" width="8.6" height="17.6" rx="1" fill="#dcdde1"/><rect x="1.0" y="17.5" width="4.2" height="5.8" fill="#3b9ad6"/><rect x="147" y="14.4" width="8.6" height="17.6" rx="1" fill="#dcdde1"/><circle cx="152.5" cy="20.8" r="1.7" fill="#8d8f94"/><rect x="11.2" y="17.4" width="23.6" height="5.6" fill="#55575a"/><rect x="12" y="18" width="2" height="4.4" fill="#c9c9c9"/><rect x="14.4" y="18.5" width="9.5" height="3.4" fill="#77797c"/><circle cx="25.8" cy="20.2" r="2.1" fill="#3f9a5a"/><rect x="29.8" y="17.9" width="3.4" height="4.6" fill="#d9626c"/><rect x="11.2" y="25.3" width="23.6" height="5.6" fill="#55575a"/><rect x="12" y="25.9" width="2" height="4.4" fill="#c9c9c9"/><rect x="14.4" y="26.4" width="9.5" height="3.4" fill="#77797c"/><circle cx="25.8" cy="28.1" r="2.1" fill="#3f9a5a"/><rect x="29.8" y="25.8" width="3.4" height="4.6" fill="#d9626c"/><rect x="36.85" y="17.4" width="23.6" height="5.6" fill="#55575a"/><rect x="37.65" y="18" width="2" height="4.4" fill="#c9c9c9"/><rect x="40.05" y="18.5" width="9.5" height="3.4" fill="#77797c"/><circle cx="51.45" cy="20.2" r="2.1" fill="#3f9a5a"/><rect x="55.45" y="17.9" width="3.4" height="4.6" fill="#d9626c"/><rect x="36.85" y="25.3" width="23.6" height="5.6" fill="#55575a"/><rect x="37.65" y="25.9" width="2" height="4.4" fill="#c9c9c9"/><rect x="40.05" y="26.4" width="9.5" height="3.4" fill="#77797c"/><circle cx="51.45" cy="28.1" r="2.1" fill="#3f9a5a"/><rect x="55.45" y="25.8" width="3.4" height="4.6" fill="#d9626c"/><rect x="62.5" y="17.4" width="23.6" height="5.6" fill="#55575a"/><rect x="63.3" y="18" width="2" height="4.4" fill="#c9c9c9"/><rect x="65.7" y="18.5" width="9.5" height="3.4" fill="#77797c"/><circle cx="77.1" cy="20.2" r="2.1" fill="#3f9a5a"/><rect x="81.1" y="17.9" width="3.4" height="4.6" fill="#d9626c"/><rect x="62.5" y="25.3" width="23.6" height="5.6" fill="#55575a"/><rect x="63.3" y="25.9" width="2" height="4.4" fill="#c9c9c9"/><rect x="65.7" y="26.4" width="9.5" height="3.4" fill="#77797c"/><circle cx="77.1" cy="28.1" r="2.1" fill="#3f9a5a"/><rect x="81.1" y="25.8" width="3.4" height="4.6" fill="#d9626c"/><rect x="88.15" y="17.4" width="23.6" height="5.6" fill="#55575a"/><rect x="88.95" y="18" width="2" height="4.4" fill="#c9c9c9"/><rect x="91.35" y="18.5" width="9.5" height="3.4" fill="#77797c"/><circle cx="102.75" cy="20.2" r="2.1" fill="#3f9a5a"/><rect x="106.75" y="17.9" width="3.4" height="4.6" fill="#d9626c"/><rect x="88.15" y="25.3" width="23.6" height="5.6" fill="#55575a"/><rect x="88.95" y="25.9" width="2" height="4.4" fill="#c9c9c9"/><rect x="91.35" y="26.4" width="9.5" height="3.4" fill="#77797c"/><circle cx="102.75" cy="28.1" r="2.1" fill="#3f9a5a"/><rect x="106.75" y="25.8" width="3.4" height="4.6" fill="#d9626c"/><rect x="113.8" y="17.4" width="23.6" height="5.6" fill="#55575a"/><rect x="114.6" y="18" width="2" height="4.4" fill="#c9c9c9"/><rect x="117" y="18.5" width="9.5" height="3.4" fill="#77797c"/><circle cx="128.4" cy="20.2" r="2.1" fill="#3f9a5a"/><rect x="132.4" y="17.9" width="3.4" height="4.6" fill="#d9626c"/><rect x="113.8" y="25.3" width="23.6" height="5.6" fill="#55575a"/><rect x="114.6" y="25.9" width="2" height="4.4" fill="#c9c9c9"/><rect x="117" y="26.4" width="9.5" height="3.4" fill="#77797c"/><circle cx="128.4" cy="28.1" r="2.1" fill="#3f9a5a"/><rect x="132.4" y="25.8" width="3.4" height="4.6" fill="#d9626c"/><rect x="139.6" y="16" width="6.4" height="15" fill="#1f2a2a"/><rect x="140.4" y="17" width="1.4" height="6" fill="#3f9a5a"/><rect x="140.6" y="25" width="2.6" height="4.6" fill="#3b9ad6"/></g>
<line x1="180.3" y1="151.8" x2="254.1" y2="151.8" stroke="#E8262A" stroke-width="1.3"/><circle cx="210.6" cy="140.2" r="11.3" fill="none" stroke="#E8262A" stroke-width="1.3"/><circle cx="220.2" cy="140.2" r="11.3" fill="none" stroke="#E8262A" stroke-width="1.3"/>
<g transform="translate(38.4,173)"><polygon points="33.5,0.5 124,0.5 146.5,14.6 8.8,14.6" fill="url(#topg)"/><polygon points="8.8,14.6 146.5,14.6 146.5,15.6 8.8,15.6" fill="#9a9a9a"/><rect x="8.6" y="15" width="138" height="16.6" fill="#2a2a2c"/><rect x="0" y="14.4" width="8.6" height="17.6" rx="1" fill="#dcdde1"/><rect x="1.0" y="17.5" width="4.2" height="5.8" fill="#3b9ad6"/><rect x="147" y="14.4" width="8.6" height="17.6" rx="1" fill="#dcdde1"/><circle cx="152.5" cy="20.8" r="1.7" fill="#8d8f94"/><rect x="11.2" y="17.4" width="23.6" height="5.6" fill="#55575a"/><rect x="12" y="18" width="2" height="4.4" fill="#c9c9c9"/><rect x="14.4" y="18.5" width="9.5" height="3.4" fill="#77797c"/><circle cx="25.8" cy="20.2" r="2.1" fill="#3f9a5a"/><rect x="29.8" y="17.9" width="3.4" height="4.6" fill="#d9626c"/><rect x="11.2" y="25.3" width="23.6" height="5.6" fill="#55575a"/><rect x="12" y="25.9" width="2" height="4.4" fill="#c9c9c9"/><rect x="14.4" y="26.4" width="9.5" height="3.4" fill="#77797c"/><circle cx="25.8" cy="28.1" r="2.1" fill="#3f9a5a"/><rect x="29.8" y="25.8" width="3.4" height="4.6" fill="#d9626c"/><rect x="36.85" y="17.4" width="23.6" height="5.6" fill="#55575a"/><rect x="37.65" y="18" width="2" height="4.4" fill="#c9c9c9"/><rect x="40.05" y="18.5" width="9.5" height="3.4" fill="#77797c"/><circle cx="51.45" cy="20.2" r="2.1" fill="#3f9a5a"/><rect x="55.45" y="17.9" width="3.4" height="4.6" fill="#d9626c"/><rect x="36.85" y="25.3" width="23.6" height="5.6" fill="#55575a"/><rect x="37.65" y="25.9" width="2" height="4.4" fill="#c9c9c9"/><rect x="40.05" y="26.4" width="9.5" height="3.4" fill="#77797c"/><circle cx="51.45" cy="28.1" r="2.1" fill="#3f9a5a"/><rect x="55.45" y="25.8" width="3.4" height="4.6" fill="#d9626c"/><rect x="62.5" y="17.4" width="23.6" height="5.6" fill="#55575a"/><rect x="63.3" y="18" width="2" height="4.4" fill="#c9c9c9"/><rect x="65.7" y="18.5" width="9.5" height="3.4" fill="#77797c"/><circle cx="77.1" cy="20.2" r="2.1" fill="#3f9a5a"/><rect x="81.1" y="17.9" width="3.4" height="4.6" fill="#d9626c"/><rect x="62.5" y="25.3" width="23.6" height="5.6" fill="#55575a"/><rect x="63.3" y="25.9" width="2" height="4.4" fill="#c9c9c9"/><rect x="65.7" y="26.4" width="9.5" height="3.4" fill="#77797c"/><circle cx="77.1" cy="28.1" r="2.1" fill="#3f9a5a"/><rect x="81.1" y="25.8" width="3.4" height="4.6" fill="#d9626c"/><rect x="88.15" y="17.4" width="23.6" height="5.6" fill="#55575a"/><rect x="88.95" y="18" width="2" height="4.4" fill="#c9c9c9"/><rect x="91.35" y="18.5" width="9.5" height="3.4" fill="#77797c"/><circle cx="102.75" cy="20.2" r="2.1" fill="#3f9a5a"/><rect x="106.75" y="17.9" width="3.4" height="4.6" fill="#d9626c"/><rect x="88.15" y="25.3" width="23.6" height="5.6" fill="#55575a"/><rect x="88.95" y="25.9" width="2" height="4.4" fill="#c9c9c9"/><rect x="91.35" y="26.4" width="9.5" height="3.4" fill="#77797c"/><circle cx="102.75" cy="28.1" r="2.1" fill="#3f9a5a"/><rect x="106.75" y="25.8" width="3.4" height="4.6" fill="#d9626c"/><rect x="113.8" y="17.4" width="23.6" height="5.6" fill="#55575a"/><rect x="114.6" y="18" width="2" height="4.4" fill="#c9c9c9"/><rect x="117" y="18.5" width="9.5" height="3.4" fill="#77797c"/><circle cx="128.4" cy="20.2" r="2.1" fill="#3f9a5a"/><rect x="132.4" y="17.9" width="3.4" height="4.6" fill="#d9626c"/><rect x="113.8" y="25.3" width="23.6" height="5.6" fill="#55575a"/><rect x="114.6" y="25.9" width="2" height="4.4" fill="#c9c9c9"/><rect x="117" y="26.4" width="9.5" height="3.4" fill="#77797c"/><circle cx="128.4" cy="28.1" r="2.1" fill="#3f9a5a"/><rect x="132.4" y="25.8" width="3.4" height="4.6" fill="#d9626c"/><rect x="139.6" y="16" width="6.4" height="15" fill="#1f2a2a"/><rect x="140.4" y="17" width="1.4" height="6" fill="#3f9a5a"/><rect x="140.6" y="25" width="2.6" height="4.6" fill="#3b9ad6"/></g>
<line x1="193.4" y1="197.8" x2="267.5" y2="197.8" stroke="#E8262A" stroke-width="1.3"/><circle cx="224.2" cy="186.2" r="11.3" fill="none" stroke="#E8262A" stroke-width="1.3"/><circle cx="233.8" cy="186.2" r="11.3" fill="none" stroke="#E8262A" stroke-width="1.3"/>
<g transform="translate(51.5,219)"><polygon points="33.5,0.5 124,0.5 146.5,14.6 8.8,14.6" fill="url(#topg)"/><polygon points="8.8,14.6 146.5,14.6 146.5,15.6 8.8,15.6" fill="#9a9a9a"/><rect x="8.6" y="15" width="138" height="16.6" fill="#2a2a2c"/><rect x="0" y="14.4" width="8.6" height="17.6" rx="1" fill="#dcdde1"/><rect x="1.0" y="17.5" width="4.2" height="5.8" fill="#3b9ad6"/><rect x="147" y="14.4" width="8.6" height="17.6" rx="1" fill="#dcdde1"/><circle cx="152.5" cy="20.8" r="1.7" fill="#8d8f94"/><rect x="11.2" y="17.4" width="23.6" height="5.6" fill="#55575a"/><rect x="12" y="18" width="2" height="4.4" fill="#c9c9c9"/><rect x="14.4" y="18.5" width="9.5" height="3.4" fill="#77797c"/><circle cx="25.8" cy="20.2" r="2.1" fill="#3f9a5a"/><rect x="29.8" y="17.9" width="3.4" height="4.6" fill="#d9626c"/><rect x="11.2" y="25.3" width="23.6" height="5.6" fill="#55575a"/><rect x="12" y="25.9" width="2" height="4.4" fill="#c9c9c9"/><rect x="14.4" y="26.4" width="9.5" height="3.4" fill="#77797c"/><circle cx="25.8" cy="28.1" r="2.1" fill="#3f9a5a"/><rect x="29.8" y="25.8" width="3.4" height="4.6" fill="#d9626c"/><rect x="36.85" y="17.4" width="23.6" height="5.6" fill="#55575a"/><rect x="37.65" y="18" width="2" height="4.4" fill="#c9c9c9"/><rect x="40.05" y="18.5" width="9.5" height="3.4" fill="#77797c"/><circle cx="51.45" cy="20.2" r="2.1" fill="#3f9a5a"/><rect x="55.45" y="17.9" width="3.4" height="4.6" fill="#d9626c"/><rect x="36.85" y="25.3" width="23.6" height="5.6" fill="#55575a"/><rect x="37.65" y="25.9" width="2" height="4.4" fill="#c9c9c9"/><rect x="40.05" y="26.4" width="9.5" height="3.4" fill="#77797c"/><circle cx="51.45" cy="28.1" r="2.1" fill="#3f9a5a"/><rect x="55.45" y="25.8" width="3.4" height="4.6" fill="#d9626c"/><rect x="62.5" y="17.4" width="23.6" height="5.6" fill="#55575a"/><rect x="63.3" y="18" width="2" height="4.4" fill="#c9c9c9"/><rect x="65.7" y="18.5" width="9.5" height="3.4" fill="#77797c"/><circle cx="77.1" cy="20.2" r="2.1" fill="#3f9a5a"/><rect x="81.1" y="17.9" width="3.4" height="4.6" fill="#d9626c"/><rect x="62.5" y="25.3" width="23.6" height="5.6" fill="#55575a"/><rect x="63.3" y="25.9" width="2" height="4.4" fill="#c9c9c9"/><rect x="65.7" y="26.4" width="9.5" height="3.4" fill="#77797c"/><circle cx="77.1" cy="28.1" r="2.1" fill="#3f9a5a"/><rect x="81.1" y="25.8" width="3.4" height="4.6" fill="#d9626c"/><rect x="88.15" y="17.4" width="23.6" height="5.6" fill="#55575a"/><rect x="88.95" y="18" width="2" height="4.4" fill="#c9c9c9"/><rect x="91.35" y="18.5" width="9.5" height="3.4" fill="#77797c"/><circle cx="102.75" cy="20.2" r="2.1" fill="#3f9a5a"/><rect x="106.75" y="17.9" width="3.4" height="4.6" fill="#d9626c"/><rect x="88.15" y="25.3" width="23.6" height="5.6" fill="#55575a"/><rect x="88.95" y="25.9" width="2" height="4.4" fill="#c9c9c9"/><rect x="91.35" y="26.4" width="9.5" height="3.4" fill="#77797c"/><circle cx="102.75" cy="28.1" r="2.1" fill="#3f9a5a"/><rect x="106.75" y="25.8" width="3.4" height="4.6" fill="#d9626c"/><rect x="113.8" y="17.4" width="23.6" height="5.6" fill="#55575a"/><rect x="114.6" y="18" width="2" height="4.4" fill="#c9c9c9"/><rect x="117" y="18.5" width="9.5" height="3.4" fill="#77797c"/><circle cx="128.4" cy="20.2" r="2.1" fill="#3f9a5a"/><rect x="132.4" y="17.9" width="3.4" height="4.6" fill="#d9626c"/><rect x="113.8" y="25.3" width="23.6" height="5.6" fill="#55575a"/><rect x="114.6" y="25.9" width="2" height="4.4" fill="#c9c9c9"/><rect x="117" y="26.4" width="9.5" height="3.4" fill="#77797c"/><circle cx="128.4" cy="28.1" r="2.1" fill="#3f9a5a"/><rect x="132.4" y="25.8" width="3.4" height="4.6" fill="#d9626c"/><rect x="139.6" y="16" width="6.4" height="15" fill="#1f2a2a"/><rect x="140.4" y="17" width="1.4" height="6" fill="#3f9a5a"/><rect x="140.6" y="25" width="2.6" height="4.6" fill="#3b9ad6"/></g>
<line x1="206.5" y1="243.8" x2="280.9" y2="243.8" stroke="#E8262A" stroke-width="1.3"/><circle cx="237.8" cy="232.2" r="11.3" fill="none" stroke="#E8262A" stroke-width="1.3"/><circle cx="247.4" cy="232.2" r="11.3" fill="none" stroke="#E8262A" stroke-width="1.3"/><line x1="127" y1="274.5" x2="198" y2="346.5" stroke="#000" stroke-width="8.6"/>
<polygon points="206.6,355.8 206.6,336.5 187.5,355.8" fill="#000"/>
<text x="19.5" y="348" font-size="28.6" fill="#111" text-anchor="start">n:m:x</text>
<text x="19.5" y="384.9" font-size="28.6" fill="#111" text-anchor="start">co-model</text>
<text x="19.5" y="421.8" font-size="28.6" fill="#111" text-anchor="start">dimensioning</text>
<text x="222.3" y="381.3" font-size="17.5" fill="#111" text-anchor="middle">1</text>
<text x="235.4" y="394.9" font-size="19.5" fill="#111" text-anchor="middle">2</text>
<circle cx="241.2" cy="408.2" r="1.0" fill="#111"/><circle cx="246.3" cy="408.2" r="1.0" fill="#111"/><circle cx="251.4" cy="408.2" r="1.0" fill="#111"/>
<text x="262.5" y="420.8" font-size="24" fill="#111" text-anchor="middle">x</text></svg></body></html>
